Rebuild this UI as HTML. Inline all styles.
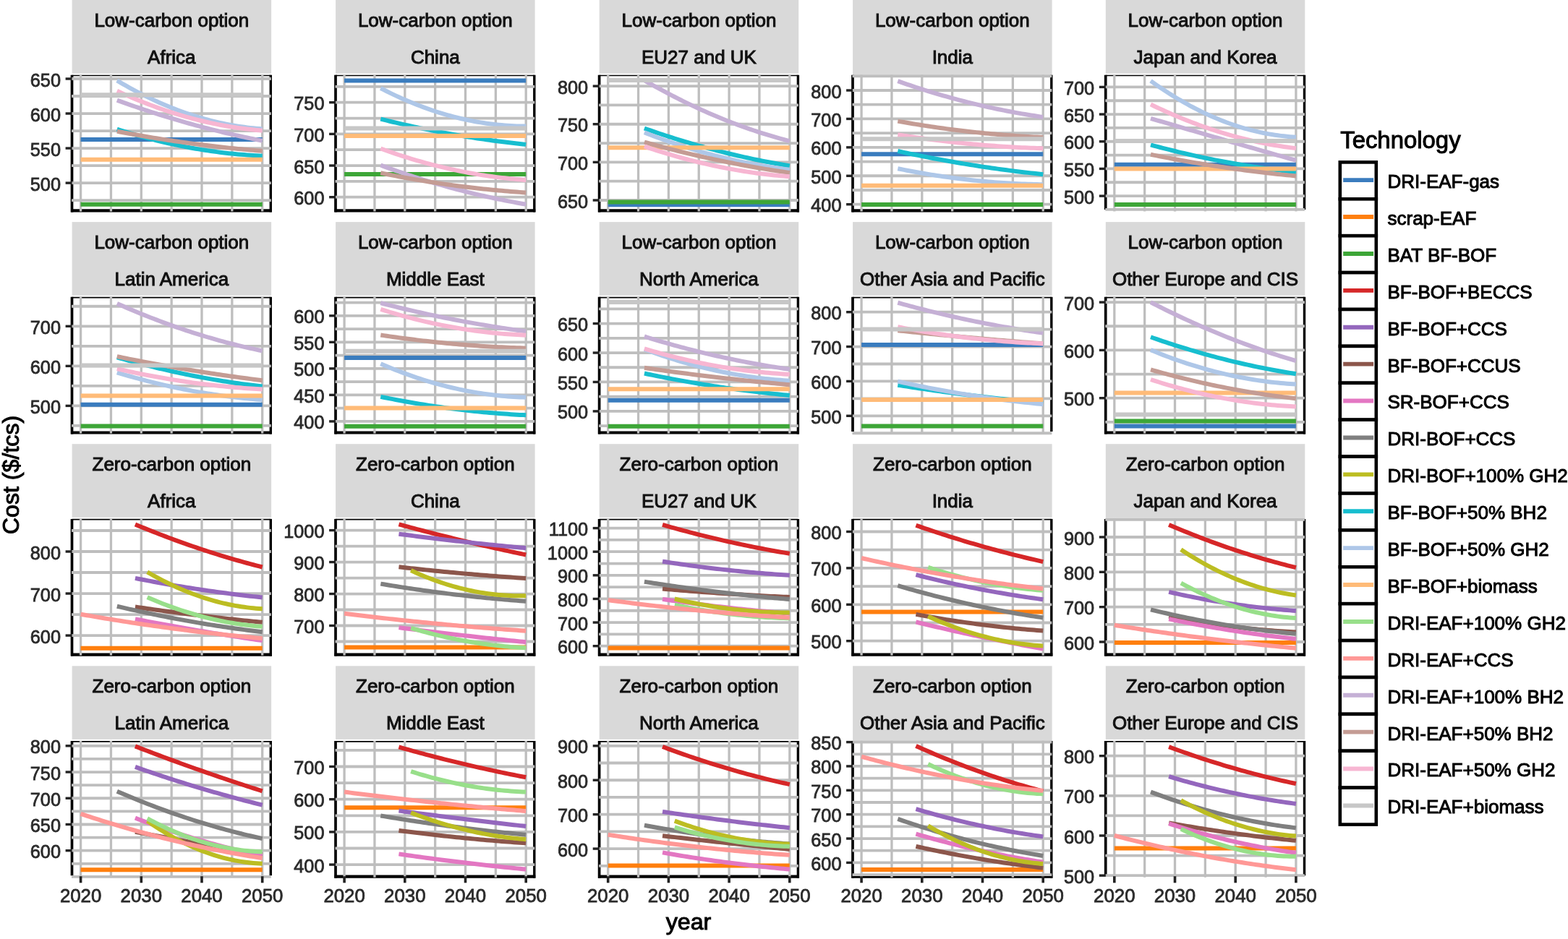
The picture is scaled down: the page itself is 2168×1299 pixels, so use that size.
<!DOCTYPE html>
<html><head><meta charset="utf-8"><style>html,body{margin:0;padding:0;background:#fff;overflow:hidden}svg{display:block}</style></head><body>
<svg width="2168" height="1299" viewBox="0 0 2168 1299">
<rect width="2168" height="1299" fill="#fff"/>
<rect x="99.6" y="0" width="275.5" height="101.6" fill="#D9D9D9"/>
<text x="237.35" y="36.9" text-anchor="middle" font-family="'Liberation Sans', Arial, sans-serif" font-size="26" fill="#111" stroke="#111" stroke-width="1.0">Low-carbon option</text>
<text x="237.35" y="88.1" text-anchor="middle" font-family="'Liberation Sans', Arial, sans-serif" font-size="26" fill="#111" stroke="#111" stroke-width="1.0">Africa</text>
<clipPath id="cp0"><rect x="99.5" y="104.5" width="274.8" height="186.9"/></clipPath>
<rect x="99.5" y="104.5" width="274.8" height="186.9" fill="#fff"/>
<line x1="99.5" x2="374.3" y1="104.5" y2="104.5" stroke="#000" stroke-width="1.7"/>
<line x1="98" x2="375.8" y1="291.4" y2="291.4" stroke="#000" stroke-width="4.2"/>
<line x1="99.5" x2="99.5" y1="103.7" y2="293.4" stroke="#000" stroke-width="3.7"/>
<line x1="374.3" x2="374.3" y1="103.7" y2="293.4" stroke="#000" stroke-width="3.4"/>
<line x1="99" x2="374.8" y1="277.12" y2="277.12" stroke="#BEBEBE" stroke-width="3.8"/>
<line x1="99" x2="374.8" y1="253.1" y2="253.1" stroke="#BEBEBE" stroke-width="3.8"/>
<line x1="99" x2="374.8" y1="229.08" y2="229.08" stroke="#BEBEBE" stroke-width="3.8"/>
<line x1="99" x2="374.8" y1="205.07" y2="205.07" stroke="#BEBEBE" stroke-width="3.8"/>
<line x1="99" x2="374.8" y1="181.05" y2="181.05" stroke="#BEBEBE" stroke-width="3.8"/>
<line x1="99" x2="374.8" y1="157.03" y2="157.03" stroke="#BEBEBE" stroke-width="3.8"/>
<line x1="99" x2="374.8" y1="133.02" y2="133.02" stroke="#BEBEBE" stroke-width="3.8"/>
<line x1="99" x2="374.8" y1="109" y2="109" stroke="#BEBEBE" stroke-width="3.8"/>
<line x1="111.6" x2="111.6" y1="103.5" y2="292.4" stroke="#BEBEBE" stroke-width="3.3"/>
<line x1="153.45" x2="153.45" y1="103.5" y2="292.4" stroke="#BEBEBE" stroke-width="3.3"/>
<line x1="195.3" x2="195.3" y1="103.5" y2="292.4" stroke="#BEBEBE" stroke-width="3.3"/>
<line x1="237.15" x2="237.15" y1="103.5" y2="292.4" stroke="#BEBEBE" stroke-width="3.3"/>
<line x1="279" x2="279" y1="103.5" y2="292.4" stroke="#BEBEBE" stroke-width="3.3"/>
<line x1="320.85" x2="320.85" y1="103.5" y2="292.4" stroke="#BEBEBE" stroke-width="3.3"/>
<line x1="362.7" x2="362.7" y1="103.5" y2="292.4" stroke="#BEBEBE" stroke-width="3.3"/>
<path d="M111.6,193.1 L362.7,193.1" fill="none" stroke="#3A7CBE" stroke-width="6.0" stroke-linejoin="round" clip-path="url(#cp0)"/>
<path d="M111.6,282.8 L362.7,282.8" fill="none" stroke="#3DA637" stroke-width="6.0" stroke-linejoin="round" clip-path="url(#cp0)"/>
<path d="M161.82,178.68 L166,180.02 L170.19,181.34 L174.38,182.64 L178.56,183.91 L182.75,185.16 L186.93,186.38 L191.11,187.58 L195.3,188.75 L199.48,189.9 L203.67,191.02 L207.85,192.12 L212.04,193.2 L216.22,194.25 L220.41,195.28 L224.59,196.28 L228.78,197.26 L232.96,198.21 L237.15,199.14 L241.33,200.04 L245.52,200.92 L249.7,201.78 L253.89,202.61 L258.07,203.42 L262.26,204.2 L266.44,204.96 L270.63,205.69 L274.81,206.4 L279,207.09 L283.18,207.75 L287.37,208.38 L291.55,208.99 L295.74,209.58 L299.92,210.14 L304.11,210.68 L308.29,211.2 L312.48,211.69 L316.66,212.15 L320.85,212.59 L325.03,213.01 L329.22,213.4 L333.4,213.77 L337.59,214.11 L341.77,214.43 L345.96,214.72 L350.14,214.99 L354.33,215.24 L358.51,215.46 L362.7,215.65" fill="none" stroke="#17BECF" stroke-width="6.0" stroke-linejoin="round" clip-path="url(#cp0)"/>
<path d="M161.82,111.38 L166,113.86 L170.19,116.3 L174.38,118.69 L178.56,121.03 L182.75,123.32 L186.93,125.57 L191.11,127.78 L195.3,129.94 L199.48,132.05 L203.67,134.11 L207.85,136.13 L212.04,138.1 L216.22,140.03 L220.41,141.91 L224.59,143.75 L228.78,145.53 L232.96,147.28 L237.15,148.97 L241.33,150.62 L245.52,152.23 L249.7,153.78 L253.89,155.3 L258.07,156.76 L262.26,158.18 L266.44,159.55 L270.63,160.88 L274.81,162.16 L279,163.4 L283.18,164.59 L287.37,165.73 L291.55,166.82 L295.74,167.87 L299.92,168.88 L304.11,169.84 L308.29,170.75 L312.48,171.61 L316.66,172.43 L320.85,173.21 L325.03,173.93 L329.22,174.62 L333.4,175.25 L337.59,175.84 L341.77,176.38 L345.96,176.88 L350.14,177.33 L354.33,177.73 L358.51,178.09 L362.7,178.4" fill="none" stroke="#AEC7E8" stroke-width="6.0" stroke-linejoin="round" clip-path="url(#cp0)"/>
<path d="M111.6,220.8 L362.7,220.8" fill="none" stroke="#FFBB78" stroke-width="6.0" stroke-linejoin="round" clip-path="url(#cp0)"/>
<path d="M161.82,138.59 L166,140.12 L170.19,141.63 L174.38,143.12 L178.56,144.6 L182.75,146.06 L186.93,147.51 L191.11,148.95 L195.3,150.37 L199.48,151.77 L203.67,153.16 L207.85,154.53 L212.04,155.89 L216.22,157.23 L220.41,158.56 L224.59,159.88 L228.78,161.17 L232.96,162.46 L237.15,163.72 L241.33,164.98 L245.52,166.21 L249.7,167.44 L253.89,168.64 L258.07,169.84 L262.26,171.01 L266.44,172.18 L270.63,173.32 L274.81,174.45 L279,175.57 L283.18,176.67 L287.37,177.76 L291.55,178.83 L295.74,179.89 L299.92,180.93 L304.11,181.96 L308.29,182.97 L312.48,183.96 L316.66,184.94 L320.85,185.91 L325.03,186.86 L329.22,187.79 L333.4,188.72 L337.59,189.62 L341.77,190.51 L345.96,191.39 L350.14,192.25 L354.33,193.09 L358.51,193.92 L362.7,194.74" fill="none" stroke="#C5B0D5" stroke-width="6.0" stroke-linejoin="round" clip-path="url(#cp0)"/>
<path d="M161.82,181.64 L166,182.45 L170.19,183.24 L174.38,184.02 L178.56,184.8 L182.75,185.56 L186.93,186.31 L191.11,187.06 L195.3,187.79 L199.48,188.51 L203.67,189.22 L207.85,189.93 L212.04,190.62 L216.22,191.3 L220.41,191.97 L224.59,192.64 L228.78,193.29 L232.96,193.93 L237.15,194.56 L241.33,195.18 L245.52,195.79 L249.7,196.4 L253.89,196.99 L258.07,197.57 L262.26,198.14 L266.44,198.7 L270.63,199.25 L274.81,199.79 L279,200.32 L283.18,200.84 L287.37,201.35 L291.55,201.85 L295.74,202.34 L299.92,202.82 L304.11,203.29 L308.29,203.75 L312.48,204.2 L316.66,204.64 L320.85,205.07 L325.03,205.49 L329.22,205.9 L333.4,206.3 L337.59,206.69 L341.77,207.07 L345.96,207.44 L350.14,207.8 L354.33,208.15 L358.51,208.48 L362.7,208.81" fill="none" stroke="#C49C94" stroke-width="6.0" stroke-linejoin="round" clip-path="url(#cp0)"/>
<path d="M161.82,125.79 L166,127.72 L170.19,129.62 L174.38,131.49 L178.56,133.33 L182.75,135.13 L186.93,136.9 L191.11,138.63 L195.3,140.33 L199.48,142 L203.67,143.63 L207.85,145.23 L212.04,146.8 L216.22,148.33 L220.41,149.82 L224.59,151.29 L228.78,152.72 L232.96,154.12 L237.15,155.48 L241.33,156.81 L245.52,158.1 L249.7,159.37 L253.89,160.59 L258.07,161.79 L262.26,162.95 L266.44,164.08 L270.63,165.17 L274.81,166.23 L279,167.26 L283.18,168.25 L287.37,169.21 L291.55,170.13 L295.74,171.02 L299.92,171.88 L304.11,172.7 L308.29,173.49 L312.48,174.25 L316.66,174.97 L320.85,175.66 L325.03,176.31 L329.22,176.93 L333.4,177.52 L337.59,178.08 L341.77,178.6 L345.96,179.08 L350.14,179.54 L354.33,179.95 L358.51,180.34 L362.7,180.69" fill="none" stroke="#F7B6D2" stroke-width="6.0" stroke-linejoin="round" clip-path="url(#cp0)"/>
<path d="M111.6,131.3 L362.7,131.3" fill="none" stroke="#C7C7C7" stroke-width="6.0" stroke-linejoin="round" clip-path="url(#cp0)"/>
<line x1="90.6" x2="99.6" y1="253.1" y2="253.1" stroke="#222" stroke-width="3.4"/>
<text x="84" y="263.6" text-anchor="end" font-family="'Liberation Sans', Arial, sans-serif" font-size="25.3" fill="#2b2b2b" stroke="#2b2b2b" stroke-width="0.8">500</text>
<line x1="90.6" x2="99.6" y1="205.07" y2="205.07" stroke="#222" stroke-width="3.4"/>
<text x="84" y="215.57" text-anchor="end" font-family="'Liberation Sans', Arial, sans-serif" font-size="25.3" fill="#2b2b2b" stroke="#2b2b2b" stroke-width="0.8">550</text>
<line x1="90.6" x2="99.6" y1="157.03" y2="157.03" stroke="#222" stroke-width="3.4"/>
<text x="84" y="167.53" text-anchor="end" font-family="'Liberation Sans', Arial, sans-serif" font-size="25.3" fill="#2b2b2b" stroke="#2b2b2b" stroke-width="0.8">600</text>
<line x1="90.6" x2="99.6" y1="109" y2="109" stroke="#222" stroke-width="3.4"/>
<text x="84" y="119.5" text-anchor="end" font-family="'Liberation Sans', Arial, sans-serif" font-size="25.3" fill="#2b2b2b" stroke="#2b2b2b" stroke-width="0.8">650</text>
<rect x="464.1" y="0" width="275.5" height="101.6" fill="#D9D9D9"/>
<text x="601.85" y="36.9" text-anchor="middle" font-family="'Liberation Sans', Arial, sans-serif" font-size="26" fill="#111" stroke="#111" stroke-width="1.0">Low-carbon option</text>
<text x="601.85" y="88.1" text-anchor="middle" font-family="'Liberation Sans', Arial, sans-serif" font-size="26" fill="#111" stroke="#111" stroke-width="1.0">China</text>
<clipPath id="cp1"><rect x="464" y="104.5" width="274.8" height="186.9"/></clipPath>
<rect x="464" y="104.5" width="274.8" height="186.9" fill="#fff"/>
<line x1="464" x2="738.8" y1="104.5" y2="104.5" stroke="#000" stroke-width="1.7"/>
<line x1="462.5" x2="740.3" y1="291.4" y2="291.4" stroke="#000" stroke-width="4.2"/>
<line x1="464" x2="464" y1="103.7" y2="293.4" stroke="#000" stroke-width="3.7"/>
<line x1="738.8" x2="738.8" y1="103.7" y2="293.4" stroke="#000" stroke-width="3.4"/>
<line x1="463.5" x2="739.3" y1="272.7" y2="272.7" stroke="#BEBEBE" stroke-width="3.8"/>
<line x1="463.5" x2="739.3" y1="250.87" y2="250.87" stroke="#BEBEBE" stroke-width="3.8"/>
<line x1="463.5" x2="739.3" y1="229.03" y2="229.03" stroke="#BEBEBE" stroke-width="3.8"/>
<line x1="463.5" x2="739.3" y1="207.2" y2="207.2" stroke="#BEBEBE" stroke-width="3.8"/>
<line x1="463.5" x2="739.3" y1="185.37" y2="185.37" stroke="#BEBEBE" stroke-width="3.8"/>
<line x1="463.5" x2="739.3" y1="163.53" y2="163.53" stroke="#BEBEBE" stroke-width="3.8"/>
<line x1="463.5" x2="739.3" y1="141.7" y2="141.7" stroke="#BEBEBE" stroke-width="3.8"/>
<line x1="463.5" x2="739.3" y1="119.87" y2="119.87" stroke="#BEBEBE" stroke-width="3.8"/>
<line x1="476.1" x2="476.1" y1="103.5" y2="292.4" stroke="#BEBEBE" stroke-width="3.3"/>
<line x1="517.95" x2="517.95" y1="103.5" y2="292.4" stroke="#BEBEBE" stroke-width="3.3"/>
<line x1="559.8" x2="559.8" y1="103.5" y2="292.4" stroke="#BEBEBE" stroke-width="3.3"/>
<line x1="601.65" x2="601.65" y1="103.5" y2="292.4" stroke="#BEBEBE" stroke-width="3.3"/>
<line x1="643.5" x2="643.5" y1="103.5" y2="292.4" stroke="#BEBEBE" stroke-width="3.3"/>
<line x1="685.35" x2="685.35" y1="103.5" y2="292.4" stroke="#BEBEBE" stroke-width="3.3"/>
<line x1="727.2" x2="727.2" y1="103.5" y2="292.4" stroke="#BEBEBE" stroke-width="3.3"/>
<path d="M476.1,111.5 L727.2,111.5" fill="none" stroke="#3A7CBE" stroke-width="6.0" stroke-linejoin="round" clip-path="url(#cp1)"/>
<path d="M476.1,240.9 L727.2,240.9" fill="none" stroke="#3DA637" stroke-width="6.0" stroke-linejoin="round" clip-path="url(#cp1)"/>
<path d="M526.32,164.66 L530.5,165.69 L534.69,166.71 L538.88,167.72 L543.06,168.72 L547.25,169.7 L551.43,170.67 L555.62,171.63 L559.8,172.57 L563.99,173.5 L568.17,174.42 L572.36,175.33 L576.54,176.22 L580.73,177.1 L584.91,177.97 L589.1,178.83 L593.28,179.67 L597.47,180.5 L601.65,181.32 L605.84,182.12 L610.02,182.91 L614.21,183.69 L618.39,184.46 L622.58,185.21 L626.76,185.95 L630.95,186.68 L635.13,187.39 L639.32,188.1 L643.5,188.79 L647.68,189.46 L651.87,190.13 L656.06,190.78 L660.24,191.42 L664.42,192.04 L668.61,192.65 L672.8,193.25 L676.98,193.84 L681.16,194.42 L685.35,194.98 L689.53,195.53 L693.72,196.06 L697.9,196.59 L702.09,197.1 L706.27,197.59 L710.46,198.08 L714.64,198.55 L718.83,199.01 L723.01,199.46 L727.2,199.89" fill="none" stroke="#17BECF" stroke-width="6.0" stroke-linejoin="round" clip-path="url(#cp1)"/>
<path d="M526.32,122 L530.5,124.16 L534.69,126.28 L538.88,128.35 L543.06,130.38 L547.25,132.36 L551.43,134.29 L555.62,136.19 L559.8,138.03 L563.99,139.83 L568.17,141.58 L572.36,143.29 L576.54,144.95 L580.73,146.57 L584.91,148.15 L589.1,149.67 L593.28,151.15 L597.47,152.59 L601.65,153.98 L605.84,155.33 L610.02,156.63 L614.21,157.88 L618.39,159.09 L622.58,160.26 L626.76,161.37 L630.95,162.45 L635.13,163.48 L639.32,164.46 L643.5,165.4 L647.68,166.29 L651.87,167.14 L656.06,167.94 L660.24,168.69 L664.42,169.4 L668.61,170.07 L672.8,170.69 L676.98,171.26 L681.16,171.79 L685.35,172.27 L689.53,172.71 L693.72,173.11 L697.9,173.45 L702.09,173.76 L706.27,174.01 L710.46,174.22 L714.64,174.39 L718.83,174.51 L723.01,174.59 L727.2,174.62" fill="none" stroke="#AEC7E8" stroke-width="6.0" stroke-linejoin="round" clip-path="url(#cp1)"/>
<path d="M476.1,188 L727.2,188" fill="none" stroke="#FFBB78" stroke-width="6.0" stroke-linejoin="round" clip-path="url(#cp1)"/>
<path d="M526.32,228.55 L530.5,230.08 L534.69,231.61 L538.88,233.11 L543.06,234.59 L547.25,236.06 L551.43,237.51 L555.62,238.94 L559.8,240.36 L563.99,241.76 L568.17,243.14 L572.36,244.5 L576.54,245.85 L580.73,247.18 L584.91,248.49 L589.1,249.78 L593.28,251.05 L597.47,252.31 L601.65,253.55 L605.84,254.78 L610.02,255.98 L614.21,257.17 L618.39,258.34 L622.58,259.49 L626.76,260.63 L630.95,261.75 L635.13,262.85 L639.32,263.93 L643.5,265 L647.68,266.05 L651.87,267.08 L656.06,268.09 L660.24,269.09 L664.42,270.07 L668.61,271.03 L672.8,271.97 L676.98,272.9 L681.16,273.8 L685.35,274.7 L689.53,275.57 L693.72,276.43 L697.9,277.26 L702.09,278.09 L706.27,278.89 L710.46,279.67 L714.64,280.44 L718.83,281.19 L723.01,281.93 L727.2,282.64" fill="none" stroke="#C5B0D5" stroke-width="6.0" stroke-linejoin="round" clip-path="url(#cp1)"/>
<path d="M526.32,239.28 L530.5,240.13 L534.69,240.97 L538.88,241.79 L543.06,242.61 L547.25,243.41 L551.43,244.2 L555.62,244.98 L559.8,245.74 L563.99,246.5 L568.17,247.24 L572.36,247.97 L576.54,248.69 L580.73,249.39 L584.91,250.08 L589.1,250.77 L593.28,251.43 L597.47,252.09 L601.65,252.74 L605.84,253.37 L610.02,253.99 L614.21,254.6 L618.39,255.19 L622.58,255.78 L626.76,256.35 L630.95,256.91 L635.13,257.46 L639.32,257.99 L643.5,258.52 L647.68,259.03 L651.87,259.53 L656.06,260.01 L660.24,260.49 L664.42,260.95 L668.61,261.4 L672.8,261.84 L676.98,262.27 L681.16,262.68 L685.35,263.08 L689.53,263.47 L693.72,263.85 L697.9,264.22 L702.09,264.57 L706.27,264.91 L710.46,265.24 L714.64,265.56 L718.83,265.87 L723.01,266.16 L727.2,266.44" fill="none" stroke="#C49C94" stroke-width="6.0" stroke-linejoin="round" clip-path="url(#cp1)"/>
<path d="M526.32,205.48 L530.5,207 L534.69,208.5 L538.88,209.97 L543.06,211.41 L547.25,212.82 L551.43,214.22 L555.62,215.58 L559.8,216.92 L563.99,218.23 L568.17,219.51 L572.36,220.77 L576.54,222.01 L580.73,223.21 L584.91,224.39 L589.1,225.55 L593.28,226.67 L597.47,227.78 L601.65,228.85 L605.84,229.9 L610.02,230.92 L614.21,231.92 L618.39,232.89 L622.58,233.84 L626.76,234.75 L630.95,235.65 L635.13,236.51 L639.32,237.35 L643.5,238.17 L647.68,238.95 L651.87,239.71 L656.06,240.45 L660.24,241.16 L664.42,241.84 L668.61,242.5 L672.8,243.13 L676.98,243.73 L681.16,244.31 L685.35,244.86 L689.53,245.38 L693.72,245.88 L697.9,246.35 L702.09,246.8 L706.27,247.22 L710.46,247.61 L714.64,247.98 L718.83,248.32 L723.01,248.64 L727.2,248.93" fill="none" stroke="#F7B6D2" stroke-width="6.0" stroke-linejoin="round" clip-path="url(#cp1)"/>
<path d="M476.1,177.5 L727.2,177.5" fill="none" stroke="#C7C7C7" stroke-width="6.0" stroke-linejoin="round" clip-path="url(#cp1)"/>
<line x1="455.1" x2="464.1" y1="272.7" y2="272.7" stroke="#222" stroke-width="3.4"/>
<text x="448.5" y="283.2" text-anchor="end" font-family="'Liberation Sans', Arial, sans-serif" font-size="25.3" fill="#2b2b2b" stroke="#2b2b2b" stroke-width="0.8">600</text>
<line x1="455.1" x2="464.1" y1="229.03" y2="229.03" stroke="#222" stroke-width="3.4"/>
<text x="448.5" y="239.53" text-anchor="end" font-family="'Liberation Sans', Arial, sans-serif" font-size="25.3" fill="#2b2b2b" stroke="#2b2b2b" stroke-width="0.8">650</text>
<line x1="455.1" x2="464.1" y1="185.37" y2="185.37" stroke="#222" stroke-width="3.4"/>
<text x="448.5" y="195.87" text-anchor="end" font-family="'Liberation Sans', Arial, sans-serif" font-size="25.3" fill="#2b2b2b" stroke="#2b2b2b" stroke-width="0.8">700</text>
<line x1="455.1" x2="464.1" y1="141.7" y2="141.7" stroke="#222" stroke-width="3.4"/>
<text x="448.5" y="152.2" text-anchor="end" font-family="'Liberation Sans', Arial, sans-serif" font-size="25.3" fill="#2b2b2b" stroke="#2b2b2b" stroke-width="0.8">750</text>
<rect x="828.7" y="0" width="275.5" height="101.6" fill="#D9D9D9"/>
<text x="966.45" y="36.9" text-anchor="middle" font-family="'Liberation Sans', Arial, sans-serif" font-size="26" fill="#111" stroke="#111" stroke-width="1.0">Low-carbon option</text>
<text x="966.45" y="88.1" text-anchor="middle" font-family="'Liberation Sans', Arial, sans-serif" font-size="26" fill="#111" stroke="#111" stroke-width="1.0">EU27 and UK</text>
<clipPath id="cp2"><rect x="828.6" y="104.5" width="274.8" height="186.9"/></clipPath>
<rect x="828.6" y="104.5" width="274.8" height="186.9" fill="#fff"/>
<line x1="828.6" x2="1103.4" y1="104.5" y2="104.5" stroke="#000" stroke-width="1.7"/>
<line x1="827.1" x2="1104.9" y1="291.4" y2="291.4" stroke="#000" stroke-width="4.2"/>
<line x1="828.6" x2="828.6" y1="103.7" y2="293.4" stroke="#000" stroke-width="3.7"/>
<line x1="1103.4" x2="1103.4" y1="103.7" y2="293.4" stroke="#000" stroke-width="3.4"/>
<line x1="828.1" x2="1103.9" y1="277" y2="277" stroke="#BEBEBE" stroke-width="3.8"/>
<line x1="828.1" x2="1103.9" y1="250.68" y2="250.68" stroke="#BEBEBE" stroke-width="3.8"/>
<line x1="828.1" x2="1103.9" y1="224.37" y2="224.37" stroke="#BEBEBE" stroke-width="3.8"/>
<line x1="828.1" x2="1103.9" y1="198.05" y2="198.05" stroke="#BEBEBE" stroke-width="3.8"/>
<line x1="828.1" x2="1103.9" y1="171.73" y2="171.73" stroke="#BEBEBE" stroke-width="3.8"/>
<line x1="828.1" x2="1103.9" y1="145.42" y2="145.42" stroke="#BEBEBE" stroke-width="3.8"/>
<line x1="828.1" x2="1103.9" y1="119.1" y2="119.1" stroke="#BEBEBE" stroke-width="3.8"/>
<line x1="840.7" x2="840.7" y1="103.5" y2="292.4" stroke="#BEBEBE" stroke-width="3.3"/>
<line x1="882.55" x2="882.55" y1="103.5" y2="292.4" stroke="#BEBEBE" stroke-width="3.3"/>
<line x1="924.4" x2="924.4" y1="103.5" y2="292.4" stroke="#BEBEBE" stroke-width="3.3"/>
<line x1="966.25" x2="966.25" y1="103.5" y2="292.4" stroke="#BEBEBE" stroke-width="3.3"/>
<line x1="1008.1" x2="1008.1" y1="103.5" y2="292.4" stroke="#BEBEBE" stroke-width="3.3"/>
<line x1="1049.95" x2="1049.95" y1="103.5" y2="292.4" stroke="#BEBEBE" stroke-width="3.3"/>
<line x1="1091.8" x2="1091.8" y1="103.5" y2="292.4" stroke="#BEBEBE" stroke-width="3.3"/>
<path d="M840.7,283.3 L1091.8,283.3" fill="none" stroke="#3A7CBE" stroke-width="6.0" stroke-linejoin="round" clip-path="url(#cp2)"/>
<path d="M840.7,279.6 L1091.8,279.6" fill="none" stroke="#3DA637" stroke-width="6.0" stroke-linejoin="round" clip-path="url(#cp2)"/>
<path d="M890.92,177.51 L895.11,178.99 L899.29,180.45 L903.48,181.89 L907.66,183.32 L911.85,184.73 L916.03,186.12 L920.22,187.5 L924.4,188.86 L928.59,190.2 L932.77,191.53 L936.96,192.83 L941.14,194.13 L945.33,195.4 L949.51,196.66 L953.7,197.9 L957.88,199.12 L962.07,200.33 L966.25,201.52 L970.44,202.7 L974.62,203.85 L978.81,204.99 L982.99,206.12 L987.18,207.22 L991.36,208.31 L995.55,209.39 L999.73,210.44 L1003.91,211.48 L1008.1,212.5 L1012.29,213.51 L1016.47,214.5 L1020.65,215.47 L1024.84,216.42 L1029.03,217.36 L1033.21,218.28 L1037.39,219.19 L1041.58,220.07 L1045.77,220.94 L1049.95,221.8 L1054.13,222.63 L1058.32,223.45 L1062.51,224.26 L1066.69,225.04 L1070.88,225.81 L1075.06,226.57 L1079.25,227.3 L1083.43,228.02 L1087.62,228.72 L1091.8,229.41" fill="none" stroke="#17BECF" stroke-width="6.0" stroke-linejoin="round" clip-path="url(#cp2)"/>
<path d="M890.92,183.29 L895.11,184.92 L899.29,186.54 L903.48,188.13 L907.66,189.69 L911.85,191.23 L916.03,192.75 L920.22,194.24 L924.4,195.71 L928.59,197.15 L932.77,198.57 L936.96,199.97 L941.14,201.34 L945.33,202.69 L949.51,204.01 L953.7,205.31 L957.88,206.59 L962.07,207.84 L966.25,209.07 L970.44,210.27 L974.62,211.45 L978.81,212.6 L982.99,213.73 L987.18,214.84 L991.36,215.92 L995.55,216.98 L999.73,218.02 L1003.91,219.03 L1008.1,220.01 L1012.29,220.97 L1016.47,221.91 L1020.65,222.83 L1024.84,223.72 L1029.03,224.58 L1033.21,225.42 L1037.39,226.24 L1041.58,227.04 L1045.77,227.8 L1049.95,228.55 L1054.13,229.27 L1058.32,229.97 L1062.51,230.64 L1066.69,231.29 L1070.88,231.91 L1075.06,232.52 L1079.25,233.09 L1083.43,233.64 L1087.62,234.17 L1091.8,234.68" fill="none" stroke="#AEC7E8" stroke-width="6.0" stroke-linejoin="round" clip-path="url(#cp2)"/>
<path d="M840.7,204.3 L1091.8,204.3" fill="none" stroke="#FFBB78" stroke-width="6.0" stroke-linejoin="round" clip-path="url(#cp2)"/>
<path d="M890.92,111.17 L895.11,113.58 L899.29,115.97 L903.48,118.32 L907.66,120.65 L911.85,122.95 L916.03,125.22 L920.22,127.46 L924.4,129.68 L928.59,131.86 L932.77,134.02 L936.96,136.15 L941.14,138.25 L945.33,140.33 L949.51,142.37 L953.7,144.39 L957.88,146.38 L962.07,148.34 L966.25,150.27 L970.44,152.18 L974.62,154.06 L978.81,155.91 L982.99,157.73 L987.18,159.52 L991.36,161.28 L995.55,163.02 L999.73,164.73 L1003.91,166.41 L1008.1,168.06 L1012.29,169.68 L1016.47,171.28 L1020.65,172.85 L1024.84,174.39 L1029.03,175.9 L1033.21,177.38 L1037.39,178.83 L1041.58,180.26 L1045.77,181.66 L1049.95,183.03 L1054.13,184.37 L1058.32,185.69 L1062.51,186.97 L1066.69,188.23 L1070.88,189.46 L1075.06,190.66 L1079.25,191.84 L1083.43,192.98 L1087.62,194.1 L1091.8,195.19" fill="none" stroke="#C5B0D5" stroke-width="6.0" stroke-linejoin="round" clip-path="url(#cp2)"/>
<path d="M890.92,196.53 L895.11,197.7 L899.29,198.86 L903.48,200.01 L907.66,201.15 L911.85,202.27 L916.03,203.38 L920.22,204.48 L924.4,205.57 L928.59,206.64 L932.77,207.7 L936.96,208.75 L941.14,209.79 L945.33,210.81 L949.51,211.83 L953.7,212.83 L957.88,213.82 L962.07,214.79 L966.25,215.76 L970.44,216.71 L974.62,217.65 L978.81,218.57 L982.99,219.49 L987.18,220.39 L991.36,221.28 L995.55,222.16 L999.73,223.02 L1003.91,223.88 L1008.1,224.72 L1012.29,225.55 L1016.47,226.37 L1020.65,227.17 L1024.84,227.96 L1029.03,228.74 L1033.21,229.51 L1037.39,230.26 L1041.58,231.01 L1045.77,231.74 L1049.95,232.46 L1054.13,233.16 L1058.32,233.86 L1062.51,234.54 L1066.69,235.21 L1070.88,235.87 L1075.06,236.51 L1079.25,237.14 L1083.43,237.77 L1087.62,238.37 L1091.8,238.97" fill="none" stroke="#C49C94" stroke-width="6.0" stroke-linejoin="round" clip-path="url(#cp2)"/>
<path d="M890.92,202.51 L895.11,203.93 L899.29,205.32 L903.48,206.7 L907.66,208.04 L911.85,209.37 L916.03,210.67 L920.22,211.95 L924.4,213.21 L928.59,214.44 L932.77,215.65 L936.96,216.83 L941.14,217.99 L945.33,219.13 L949.51,220.25 L953.7,221.34 L957.88,222.41 L962.07,223.45 L966.25,224.47 L970.44,225.47 L974.62,226.44 L978.81,227.4 L982.99,228.32 L987.18,229.23 L991.36,230.11 L995.55,230.97 L999.73,231.8 L1003.91,232.61 L1008.1,233.4 L1012.29,234.16 L1016.47,234.9 L1020.65,235.62 L1024.84,236.31 L1029.03,236.98 L1033.21,237.63 L1037.39,238.25 L1041.58,238.85 L1045.77,239.43 L1049.95,239.98 L1054.13,240.51 L1058.32,241.02 L1062.51,241.5 L1066.69,241.96 L1070.88,242.4 L1075.06,242.81 L1079.25,243.2 L1083.43,243.57 L1087.62,243.91 L1091.8,244.23" fill="none" stroke="#F7B6D2" stroke-width="6.0" stroke-linejoin="round" clip-path="url(#cp2)"/>
<path d="M840.7,111.1 L1091.8,111.1" fill="none" stroke="#C7C7C7" stroke-width="6.0" stroke-linejoin="round" clip-path="url(#cp2)"/>
<line x1="819.7" x2="828.7" y1="277" y2="277" stroke="#222" stroke-width="3.4"/>
<text x="813.1" y="287.5" text-anchor="end" font-family="'Liberation Sans', Arial, sans-serif" font-size="25.3" fill="#2b2b2b" stroke="#2b2b2b" stroke-width="0.8">650</text>
<line x1="819.7" x2="828.7" y1="224.37" y2="224.37" stroke="#222" stroke-width="3.4"/>
<text x="813.1" y="234.87" text-anchor="end" font-family="'Liberation Sans', Arial, sans-serif" font-size="25.3" fill="#2b2b2b" stroke="#2b2b2b" stroke-width="0.8">700</text>
<line x1="819.7" x2="828.7" y1="171.73" y2="171.73" stroke="#222" stroke-width="3.4"/>
<text x="813.1" y="182.23" text-anchor="end" font-family="'Liberation Sans', Arial, sans-serif" font-size="25.3" fill="#2b2b2b" stroke="#2b2b2b" stroke-width="0.8">750</text>
<line x1="819.7" x2="828.7" y1="119.1" y2="119.1" stroke="#222" stroke-width="3.4"/>
<text x="813.1" y="129.6" text-anchor="end" font-family="'Liberation Sans', Arial, sans-serif" font-size="25.3" fill="#2b2b2b" stroke="#2b2b2b" stroke-width="0.8">800</text>
<rect x="1179.1" y="0" width="275.5" height="101.6" fill="#D9D9D9"/>
<text x="1316.85" y="36.9" text-anchor="middle" font-family="'Liberation Sans', Arial, sans-serif" font-size="26" fill="#111" stroke="#111" stroke-width="1.0">Low-carbon option</text>
<text x="1316.85" y="88.1" text-anchor="middle" font-family="'Liberation Sans', Arial, sans-serif" font-size="26" fill="#111" stroke="#111" stroke-width="1.0">India</text>
<clipPath id="cp3"><rect x="1179" y="104.5" width="274.8" height="186.9"/></clipPath>
<rect x="1179" y="104.5" width="274.8" height="186.9" fill="#fff"/>
<rect x="1179.1" y="101.1" width="275.5" height="3.4" fill="#D9D9D9"/>
<line x1="1177.5" x2="1455.3" y1="291.4" y2="291.4" stroke="#000" stroke-width="4.2"/>
<line x1="1179" x2="1179" y1="103.7" y2="293.4" stroke="#000" stroke-width="3.7"/>
<line x1="1453.8" x2="1453.8" y1="103.7" y2="293.4" stroke="#000" stroke-width="3.4"/>
<line x1="1178.5" x2="1454.3" y1="282.7" y2="282.7" stroke="#BEBEBE" stroke-width="3.8"/>
<line x1="1178.5" x2="1454.3" y1="262.99" y2="262.99" stroke="#BEBEBE" stroke-width="3.8"/>
<line x1="1178.5" x2="1454.3" y1="243.27" y2="243.27" stroke="#BEBEBE" stroke-width="3.8"/>
<line x1="1178.5" x2="1454.3" y1="223.56" y2="223.56" stroke="#BEBEBE" stroke-width="3.8"/>
<line x1="1178.5" x2="1454.3" y1="203.85" y2="203.85" stroke="#BEBEBE" stroke-width="3.8"/>
<line x1="1178.5" x2="1454.3" y1="184.14" y2="184.14" stroke="#BEBEBE" stroke-width="3.8"/>
<line x1="1178.5" x2="1454.3" y1="164.43" y2="164.43" stroke="#BEBEBE" stroke-width="3.8"/>
<line x1="1178.5" x2="1454.3" y1="144.71" y2="144.71" stroke="#BEBEBE" stroke-width="3.8"/>
<line x1="1178.5" x2="1454.3" y1="125" y2="125" stroke="#BEBEBE" stroke-width="3.8"/>
<line x1="1178.5" x2="1454.3" y1="105.29" y2="105.29" stroke="#BEBEBE" stroke-width="3.8"/>
<line x1="1191.1" x2="1191.1" y1="103.5" y2="292.4" stroke="#BEBEBE" stroke-width="3.3"/>
<line x1="1232.95" x2="1232.95" y1="103.5" y2="292.4" stroke="#BEBEBE" stroke-width="3.3"/>
<line x1="1274.8" x2="1274.8" y1="103.5" y2="292.4" stroke="#BEBEBE" stroke-width="3.3"/>
<line x1="1316.65" x2="1316.65" y1="103.5" y2="292.4" stroke="#BEBEBE" stroke-width="3.3"/>
<line x1="1358.5" x2="1358.5" y1="103.5" y2="292.4" stroke="#BEBEBE" stroke-width="3.3"/>
<line x1="1400.35" x2="1400.35" y1="103.5" y2="292.4" stroke="#BEBEBE" stroke-width="3.3"/>
<line x1="1442.2" x2="1442.2" y1="103.5" y2="292.4" stroke="#BEBEBE" stroke-width="3.3"/>
<path d="M1191.1,213.3 L1442.2,213.3" fill="none" stroke="#3A7CBE" stroke-width="6.0" stroke-linejoin="round" clip-path="url(#cp3)"/>
<path d="M1191.1,283.1 L1442.2,283.1" fill="none" stroke="#3DA637" stroke-width="6.0" stroke-linejoin="round" clip-path="url(#cp3)"/>
<path d="M1241.32,209 L1245.5,209.91 L1249.69,210.81 L1253.88,211.7 L1258.06,212.57 L1262.24,213.44 L1266.43,214.3 L1270.61,215.15 L1274.8,215.98 L1278.98,216.81 L1283.17,217.63 L1287.36,218.43 L1291.54,219.23 L1295.72,220.02 L1299.91,220.79 L1304.09,221.56 L1308.28,222.32 L1312.46,223.06 L1316.65,223.8 L1320.83,224.52 L1325.02,225.24 L1329.2,225.94 L1333.39,226.64 L1337.57,227.32 L1341.76,228 L1345.94,228.66 L1350.13,229.32 L1354.31,229.96 L1358.5,230.6 L1362.68,231.22 L1366.87,231.83 L1371.05,232.44 L1375.24,233.03 L1379.42,233.61 L1383.61,234.19 L1387.79,234.75 L1391.98,235.3 L1396.16,235.85 L1400.35,236.38 L1404.53,236.9 L1408.72,237.41 L1412.9,237.91 L1417.09,238.41 L1421.27,238.89 L1425.46,239.36 L1429.64,239.82 L1433.83,240.27 L1438.01,240.71 L1442.2,241.15" fill="none" stroke="#17BECF" stroke-width="6.0" stroke-linejoin="round" clip-path="url(#cp3)"/>
<path d="M1241.32,233.22 L1245.5,234.06 L1249.69,234.9 L1253.88,235.71 L1258.06,236.51 L1262.24,237.29 L1266.43,238.06 L1270.61,238.81 L1274.8,239.54 L1278.98,240.25 L1283.17,240.95 L1287.36,241.64 L1291.54,242.3 L1295.72,242.95 L1299.91,243.58 L1304.09,244.2 L1308.28,244.8 L1312.46,245.38 L1316.65,245.95 L1320.83,246.5 L1325.02,247.03 L1329.2,247.55 L1333.39,248.05 L1337.57,248.53 L1341.76,249 L1345.94,249.45 L1350.13,249.88 L1354.31,250.3 L1358.5,250.7 L1362.68,251.08 L1366.87,251.45 L1371.05,251.8 L1375.24,252.13 L1379.42,252.45 L1383.61,252.75 L1387.79,253.03 L1391.98,253.3 L1396.16,253.55 L1400.35,253.79 L1404.53,254 L1408.72,254.2 L1412.9,254.39 L1417.09,254.56 L1421.27,254.71 L1425.46,254.84 L1429.64,254.96 L1433.83,255.06 L1438.01,255.15 L1442.2,255.21" fill="none" stroke="#AEC7E8" stroke-width="6.0" stroke-linejoin="round" clip-path="url(#cp3)"/>
<path d="M1191.1,256.8 L1442.2,256.8" fill="none" stroke="#FFBB78" stroke-width="6.0" stroke-linejoin="round" clip-path="url(#cp3)"/>
<path d="M1241.32,112.2 L1245.5,113.66 L1249.69,115.11 L1253.88,116.54 L1258.06,117.96 L1262.24,119.35 L1266.43,120.73 L1270.61,122.08 L1274.8,123.42 L1278.98,124.74 L1283.17,126.04 L1287.36,127.33 L1291.54,128.59 L1295.72,129.84 L1299.91,131.07 L1304.09,132.28 L1308.28,133.47 L1312.46,134.65 L1316.65,135.8 L1320.83,136.94 L1325.02,138.06 L1329.2,139.16 L1333.39,140.24 L1337.57,141.31 L1341.76,142.35 L1345.94,143.38 L1350.13,144.39 L1354.31,145.38 L1358.5,146.35 L1362.68,147.31 L1366.87,148.24 L1371.05,149.16 L1375.24,150.06 L1379.42,150.94 L1383.61,151.8 L1387.79,152.65 L1391.98,153.47 L1396.16,154.28 L1400.35,155.07 L1404.53,155.84 L1408.72,156.59 L1412.9,157.33 L1417.09,158.04 L1421.27,158.74 L1425.46,159.42 L1429.64,160.08 L1433.83,160.72 L1438.01,161.35 L1442.2,161.95" fill="none" stroke="#C5B0D5" stroke-width="6.0" stroke-linejoin="round" clip-path="url(#cp3)"/>
<path d="M1241.32,167.59 L1245.5,168.34 L1249.69,169.07 L1253.88,169.79 L1258.06,170.51 L1262.24,171.2 L1266.43,171.89 L1270.61,172.57 L1274.8,173.23 L1278.98,173.88 L1283.17,174.52 L1287.36,175.15 L1291.54,175.77 L1295.72,176.37 L1299.91,176.96 L1304.09,177.54 L1308.28,178.11 L1312.46,178.67 L1316.65,179.21 L1320.83,179.74 L1325.02,180.26 L1329.2,180.77 L1333.39,181.27 L1337.57,181.75 L1341.76,182.22 L1345.94,182.68 L1350.13,183.13 L1354.31,183.57 L1358.5,184 L1362.68,184.41 L1366.87,184.81 L1371.05,185.2 L1375.24,185.58 L1379.42,185.94 L1383.61,186.29 L1387.79,186.64 L1391.98,186.96 L1396.16,187.28 L1400.35,187.59 L1404.53,187.88 L1408.72,188.16 L1412.9,188.43 L1417.09,188.69 L1421.27,188.94 L1425.46,189.17 L1429.64,189.39 L1433.83,189.6 L1438.01,189.8 L1442.2,189.99" fill="none" stroke="#C49C94" stroke-width="6.0" stroke-linejoin="round" clip-path="url(#cp3)"/>
<path d="M1241.32,186.38 L1245.5,187.03 L1249.69,187.68 L1253.88,188.32 L1258.06,188.94 L1262.24,189.56 L1266.43,190.16 L1270.61,190.75 L1274.8,191.33 L1278.98,191.9 L1283.17,192.46 L1287.36,193 L1291.54,193.54 L1295.72,194.06 L1299.91,194.57 L1304.09,195.08 L1308.28,195.56 L1312.46,196.04 L1316.65,196.51 L1320.83,196.97 L1325.02,197.41 L1329.2,197.84 L1333.39,198.26 L1337.57,198.67 L1341.76,199.07 L1345.94,199.46 L1350.13,199.84 L1354.31,200.2 L1358.5,200.56 L1362.68,200.9 L1366.87,201.23 L1371.05,201.55 L1375.24,201.86 L1379.42,202.16 L1383.61,202.44 L1387.79,202.72 L1391.98,202.98 L1396.16,203.23 L1400.35,203.47 L1404.53,203.7 L1408.72,203.92 L1412.9,204.13 L1417.09,204.32 L1421.27,204.51 L1425.46,204.68 L1429.64,204.84 L1433.83,204.99 L1438.01,205.13 L1442.2,205.26" fill="none" stroke="#F7B6D2" stroke-width="6.0" stroke-linejoin="round" clip-path="url(#cp3)"/>
<path d="M1191.1,192.3 L1442.2,192.3" fill="none" stroke="#C7C7C7" stroke-width="6.0" stroke-linejoin="round" clip-path="url(#cp3)"/>
<line x1="1170.1" x2="1179.1" y1="282.7" y2="282.7" stroke="#222" stroke-width="3.4"/>
<text x="1163.5" y="293.2" text-anchor="end" font-family="'Liberation Sans', Arial, sans-serif" font-size="25.3" fill="#2b2b2b" stroke="#2b2b2b" stroke-width="0.8">400</text>
<line x1="1170.1" x2="1179.1" y1="243.27" y2="243.27" stroke="#222" stroke-width="3.4"/>
<text x="1163.5" y="253.77" text-anchor="end" font-family="'Liberation Sans', Arial, sans-serif" font-size="25.3" fill="#2b2b2b" stroke="#2b2b2b" stroke-width="0.8">500</text>
<line x1="1170.1" x2="1179.1" y1="203.85" y2="203.85" stroke="#222" stroke-width="3.4"/>
<text x="1163.5" y="214.35" text-anchor="end" font-family="'Liberation Sans', Arial, sans-serif" font-size="25.3" fill="#2b2b2b" stroke="#2b2b2b" stroke-width="0.8">600</text>
<line x1="1170.1" x2="1179.1" y1="164.43" y2="164.43" stroke="#222" stroke-width="3.4"/>
<text x="1163.5" y="174.93" text-anchor="end" font-family="'Liberation Sans', Arial, sans-serif" font-size="25.3" fill="#2b2b2b" stroke="#2b2b2b" stroke-width="0.8">700</text>
<line x1="1170.1" x2="1179.1" y1="125" y2="125" stroke="#222" stroke-width="3.4"/>
<text x="1163.5" y="135.5" text-anchor="end" font-family="'Liberation Sans', Arial, sans-serif" font-size="25.3" fill="#2b2b2b" stroke="#2b2b2b" stroke-width="0.8">800</text>
<rect x="1528.8" y="0" width="275.5" height="101.6" fill="#D9D9D9"/>
<text x="1666.55" y="36.9" text-anchor="middle" font-family="'Liberation Sans', Arial, sans-serif" font-size="26" fill="#111" stroke="#111" stroke-width="1.0">Low-carbon option</text>
<text x="1666.55" y="88.1" text-anchor="middle" font-family="'Liberation Sans', Arial, sans-serif" font-size="26" fill="#111" stroke="#111" stroke-width="1.0">Japan and Korea</text>
<clipPath id="cp4"><rect x="1528.7" y="104.5" width="274.8" height="186.9"/></clipPath>
<rect x="1528.7" y="104.5" width="274.8" height="186.9" fill="#fff"/>
<line x1="1528.7" x2="1803.5" y1="104.5" y2="104.5" stroke="#000" stroke-width="1.7"/>
<line x1="1528.7" x2="1528.7" y1="103.7" y2="289.9" stroke="#000" stroke-width="3.7"/>
<line x1="1803.5" x2="1803.5" y1="103.7" y2="289.9" stroke="#000" stroke-width="3.4"/>
<line x1="1528.2" x2="1804" y1="289.94" y2="289.94" stroke="#BEBEBE" stroke-width="3.8"/>
<line x1="1528.2" x2="1804" y1="271.1" y2="271.1" stroke="#BEBEBE" stroke-width="3.8"/>
<line x1="1528.2" x2="1804" y1="252.26" y2="252.26" stroke="#BEBEBE" stroke-width="3.8"/>
<line x1="1528.2" x2="1804" y1="233.43" y2="233.43" stroke="#BEBEBE" stroke-width="3.8"/>
<line x1="1528.2" x2="1804" y1="214.59" y2="214.59" stroke="#BEBEBE" stroke-width="3.8"/>
<line x1="1528.2" x2="1804" y1="195.75" y2="195.75" stroke="#BEBEBE" stroke-width="3.8"/>
<line x1="1528.2" x2="1804" y1="176.91" y2="176.91" stroke="#BEBEBE" stroke-width="3.8"/>
<line x1="1528.2" x2="1804" y1="158.08" y2="158.08" stroke="#BEBEBE" stroke-width="3.8"/>
<line x1="1528.2" x2="1804" y1="139.24" y2="139.24" stroke="#BEBEBE" stroke-width="3.8"/>
<line x1="1528.2" x2="1804" y1="120.4" y2="120.4" stroke="#BEBEBE" stroke-width="3.8"/>
<line x1="1540.8" x2="1540.8" y1="103.5" y2="292.4" stroke="#BEBEBE" stroke-width="3.3"/>
<line x1="1582.65" x2="1582.65" y1="103.5" y2="292.4" stroke="#BEBEBE" stroke-width="3.3"/>
<line x1="1624.5" x2="1624.5" y1="103.5" y2="292.4" stroke="#BEBEBE" stroke-width="3.3"/>
<line x1="1666.35" x2="1666.35" y1="103.5" y2="292.4" stroke="#BEBEBE" stroke-width="3.3"/>
<line x1="1708.2" x2="1708.2" y1="103.5" y2="292.4" stroke="#BEBEBE" stroke-width="3.3"/>
<line x1="1750.05" x2="1750.05" y1="103.5" y2="292.4" stroke="#BEBEBE" stroke-width="3.3"/>
<line x1="1791.9" x2="1791.9" y1="103.5" y2="292.4" stroke="#BEBEBE" stroke-width="3.3"/>
<path d="M1540.8,227.8 L1791.9,227.8" fill="none" stroke="#3A7CBE" stroke-width="6.0" stroke-linejoin="round" clip-path="url(#cp4)"/>
<path d="M1540.8,283.1 L1791.9,283.1" fill="none" stroke="#3DA637" stroke-width="6.0" stroke-linejoin="round" clip-path="url(#cp4)"/>
<path d="M1591.02,200.4 L1595.2,201.53 L1599.39,202.65 L1603.58,203.75 L1607.76,204.83 L1611.94,205.91 L1616.13,206.96 L1620.32,208.01 L1624.5,209.03 L1628.68,210.05 L1632.87,211.05 L1637.05,212.03 L1641.24,213 L1645.42,213.96 L1649.61,214.9 L1653.79,215.82 L1657.98,216.74 L1662.16,217.63 L1666.35,218.52 L1670.53,219.38 L1674.72,220.24 L1678.9,221.08 L1683.09,221.9 L1687.27,222.71 L1691.46,223.5 L1695.64,224.28 L1699.83,225.05 L1704.01,225.8 L1708.2,226.54 L1712.38,227.26 L1716.57,227.97 L1720.75,228.66 L1724.94,229.34 L1729.12,230 L1733.31,230.65 L1737.49,231.29 L1741.68,231.91 L1745.87,232.51 L1750.05,233.1 L1754.23,233.68 L1758.42,234.24 L1762.61,234.79 L1766.79,235.32 L1770.97,235.84 L1775.16,236.34 L1779.35,236.83 L1783.53,237.3 L1787.71,237.76 L1791.9,238.21" fill="none" stroke="#17BECF" stroke-width="6.0" stroke-linejoin="round" clip-path="url(#cp4)"/>
<path d="M1591.02,111.91 L1595.2,114.9 L1599.39,117.84 L1603.58,120.71 L1607.76,123.53 L1611.94,126.29 L1616.13,128.99 L1620.32,131.64 L1624.5,134.22 L1628.68,136.75 L1632.87,139.21 L1637.05,141.62 L1641.24,143.97 L1645.42,146.26 L1649.61,148.5 L1653.79,150.67 L1657.98,152.79 L1662.16,154.85 L1666.35,156.85 L1670.53,158.79 L1674.72,160.67 L1678.9,162.5 L1683.09,164.27 L1687.27,165.97 L1691.46,167.62 L1695.64,169.22 L1699.83,170.75 L1704.01,172.22 L1708.2,173.64 L1712.38,175 L1716.57,176.3 L1720.75,177.54 L1724.94,178.72 L1729.12,179.84 L1733.31,180.91 L1737.49,181.92 L1741.68,182.86 L1745.87,183.76 L1750.05,184.59 L1754.23,185.36 L1758.42,186.08 L1762.61,186.73 L1766.79,187.33 L1770.97,187.87 L1775.16,188.35 L1779.35,188.78 L1783.53,189.14 L1787.71,189.45 L1791.9,189.69" fill="none" stroke="#AEC7E8" stroke-width="6.0" stroke-linejoin="round" clip-path="url(#cp4)"/>
<path d="M1540.8,233.4 L1791.9,233.4" fill="none" stroke="#FFBB78" stroke-width="6.0" stroke-linejoin="round" clip-path="url(#cp4)"/>
<path d="M1591.02,163.8 L1595.2,165.04 L1599.39,166.27 L1603.58,167.5 L1607.76,168.73 L1611.94,169.96 L1616.13,171.19 L1620.32,172.42 L1624.5,173.65 L1628.68,174.88 L1632.87,176.1 L1637.05,177.33 L1641.24,178.55 L1645.42,179.77 L1649.61,180.99 L1653.79,182.21 L1657.98,183.43 L1662.16,184.65 L1666.35,185.87 L1670.53,187.08 L1674.72,188.3 L1678.9,189.51 L1683.09,190.73 L1687.27,191.94 L1691.46,193.15 L1695.64,194.36 L1699.83,195.57 L1704.01,196.78 L1708.2,197.98 L1712.38,199.19 L1716.57,200.39 L1720.75,201.6 L1724.94,202.8 L1729.12,204 L1733.31,205.2 L1737.49,206.4 L1741.68,207.6 L1745.87,208.8 L1750.05,210 L1754.23,211.19 L1758.42,212.39 L1762.61,213.58 L1766.79,214.77 L1770.97,215.96 L1775.16,217.15 L1779.35,218.34 L1783.53,219.53 L1787.71,220.72 L1791.9,221.91" fill="none" stroke="#C5B0D5" stroke-width="6.0" stroke-linejoin="round" clip-path="url(#cp4)"/>
<path d="M1591.02,213.74 L1595.2,214.58 L1599.39,215.42 L1603.58,216.24 L1607.76,217.05 L1611.94,217.86 L1616.13,218.65 L1620.32,219.44 L1624.5,220.21 L1628.68,220.98 L1632.87,221.73 L1637.05,222.48 L1641.24,223.22 L1645.42,223.95 L1649.61,224.67 L1653.79,225.37 L1657.98,226.07 L1662.16,226.76 L1666.35,227.44 L1670.53,228.11 L1674.72,228.78 L1678.9,229.43 L1683.09,230.07 L1687.27,230.7 L1691.46,231.33 L1695.64,231.94 L1699.83,232.54 L1704.01,233.14 L1708.2,233.72 L1712.38,234.3 L1716.57,234.86 L1720.75,235.42 L1724.94,235.97 L1729.12,236.51 L1733.31,237.03 L1737.49,237.55 L1741.68,238.06 L1745.87,238.56 L1750.05,239.05 L1754.23,239.53 L1758.42,240 L1762.61,240.46 L1766.79,240.92 L1770.97,241.36 L1775.16,241.79 L1779.35,242.21 L1783.53,242.63 L1787.71,243.03 L1791.9,243.43" fill="none" stroke="#C49C94" stroke-width="6.0" stroke-linejoin="round" clip-path="url(#cp4)"/>
<path d="M1591.02,144.41 L1595.2,146.44 L1599.39,148.43 L1603.58,150.4 L1607.76,152.33 L1611.94,154.23 L1616.13,156.09 L1620.32,157.92 L1624.5,159.73 L1628.68,161.49 L1632.87,163.23 L1637.05,164.93 L1641.24,166.6 L1645.42,168.24 L1649.61,169.85 L1653.79,171.42 L1657.98,172.96 L1662.16,174.47 L1666.35,175.95 L1670.53,177.39 L1674.72,178.8 L1678.9,180.18 L1683.09,181.53 L1687.27,182.84 L1691.46,184.12 L1695.64,185.37 L1699.83,186.59 L1704.01,187.77 L1708.2,188.92 L1712.38,190.04 L1716.57,191.13 L1720.75,192.18 L1724.94,193.21 L1729.12,194.19 L1733.31,195.15 L1737.49,196.08 L1741.68,196.97 L1745.87,197.83 L1750.05,198.65 L1754.23,199.45 L1758.42,200.21 L1762.61,200.94 L1766.79,201.64 L1770.97,202.3 L1775.16,202.93 L1779.35,203.53 L1783.53,204.1 L1787.71,204.64 L1791.9,205.14" fill="none" stroke="#F7B6D2" stroke-width="6.0" stroke-linejoin="round" clip-path="url(#cp4)"/>
<path d="M1540.8,195 L1791.9,195" fill="none" stroke="#C7C7C7" stroke-width="6.0" stroke-linejoin="round" clip-path="url(#cp4)"/>
<line x1="1519.8" x2="1528.8" y1="271.1" y2="271.1" stroke="#222" stroke-width="3.4"/>
<text x="1513.2" y="281.6" text-anchor="end" font-family="'Liberation Sans', Arial, sans-serif" font-size="25.3" fill="#2b2b2b" stroke="#2b2b2b" stroke-width="0.8">500</text>
<line x1="1519.8" x2="1528.8" y1="233.43" y2="233.43" stroke="#222" stroke-width="3.4"/>
<text x="1513.2" y="243.93" text-anchor="end" font-family="'Liberation Sans', Arial, sans-serif" font-size="25.3" fill="#2b2b2b" stroke="#2b2b2b" stroke-width="0.8">550</text>
<line x1="1519.8" x2="1528.8" y1="195.75" y2="195.75" stroke="#222" stroke-width="3.4"/>
<text x="1513.2" y="206.25" text-anchor="end" font-family="'Liberation Sans', Arial, sans-serif" font-size="25.3" fill="#2b2b2b" stroke="#2b2b2b" stroke-width="0.8">600</text>
<line x1="1519.8" x2="1528.8" y1="158.08" y2="158.08" stroke="#222" stroke-width="3.4"/>
<text x="1513.2" y="168.58" text-anchor="end" font-family="'Liberation Sans', Arial, sans-serif" font-size="25.3" fill="#2b2b2b" stroke="#2b2b2b" stroke-width="0.8">650</text>
<line x1="1519.8" x2="1528.8" y1="120.4" y2="120.4" stroke="#222" stroke-width="3.4"/>
<text x="1513.2" y="130.9" text-anchor="end" font-family="'Liberation Sans', Arial, sans-serif" font-size="25.3" fill="#2b2b2b" stroke="#2b2b2b" stroke-width="0.8">700</text>
<rect x="99.6" y="307.1" width="275.5" height="101.6" fill="#D9D9D9"/>
<text x="237.35" y="344" text-anchor="middle" font-family="'Liberation Sans', Arial, sans-serif" font-size="26" fill="#111" stroke="#111" stroke-width="1.0">Low-carbon option</text>
<text x="237.35" y="395.2" text-anchor="middle" font-family="'Liberation Sans', Arial, sans-serif" font-size="26" fill="#111" stroke="#111" stroke-width="1.0">Latin America</text>
<clipPath id="cp5"><rect x="99.5" y="411.6" width="274.8" height="186.9"/></clipPath>
<rect x="99.5" y="411.6" width="274.8" height="186.9" fill="#fff"/>
<line x1="99.5" x2="374.3" y1="411.6" y2="411.6" stroke="#000" stroke-width="1.7"/>
<line x1="98" x2="375.8" y1="598.5" y2="598.5" stroke="#000" stroke-width="4.2"/>
<line x1="99.5" x2="99.5" y1="410.8" y2="600.5" stroke="#000" stroke-width="3.7"/>
<line x1="374.3" x2="374.3" y1="410.8" y2="600.5" stroke="#000" stroke-width="3.4"/>
<line x1="99" x2="374.8" y1="588.93" y2="588.93" stroke="#BEBEBE" stroke-width="3.8"/>
<line x1="99" x2="374.8" y1="561.4" y2="561.4" stroke="#BEBEBE" stroke-width="3.8"/>
<line x1="99" x2="374.8" y1="533.88" y2="533.88" stroke="#BEBEBE" stroke-width="3.8"/>
<line x1="99" x2="374.8" y1="506.35" y2="506.35" stroke="#BEBEBE" stroke-width="3.8"/>
<line x1="99" x2="374.8" y1="478.83" y2="478.83" stroke="#BEBEBE" stroke-width="3.8"/>
<line x1="99" x2="374.8" y1="451.3" y2="451.3" stroke="#BEBEBE" stroke-width="3.8"/>
<line x1="99" x2="374.8" y1="423.77" y2="423.77" stroke="#BEBEBE" stroke-width="3.8"/>
<line x1="111.6" x2="111.6" y1="410.6" y2="599.5" stroke="#BEBEBE" stroke-width="3.3"/>
<line x1="153.45" x2="153.45" y1="410.6" y2="599.5" stroke="#BEBEBE" stroke-width="3.3"/>
<line x1="195.3" x2="195.3" y1="410.6" y2="599.5" stroke="#BEBEBE" stroke-width="3.3"/>
<line x1="237.15" x2="237.15" y1="410.6" y2="599.5" stroke="#BEBEBE" stroke-width="3.3"/>
<line x1="279" x2="279" y1="410.6" y2="599.5" stroke="#BEBEBE" stroke-width="3.3"/>
<line x1="320.85" x2="320.85" y1="410.6" y2="599.5" stroke="#BEBEBE" stroke-width="3.3"/>
<line x1="362.7" x2="362.7" y1="410.6" y2="599.5" stroke="#BEBEBE" stroke-width="3.3"/>
<path d="M111.6,559.8 L362.7,559.8" fill="none" stroke="#3A7CBE" stroke-width="6.0" stroke-linejoin="round" clip-path="url(#cp5)"/>
<path d="M111.6,589.6 L362.7,589.6" fill="none" stroke="#3DA637" stroke-width="6.0" stroke-linejoin="round" clip-path="url(#cp5)"/>
<path d="M161.82,494.29 L166,495.5 L170.19,496.68 L174.38,497.85 L178.56,499.01 L182.75,500.15 L186.93,501.27 L191.11,502.38 L195.3,503.48 L199.48,504.56 L203.67,505.62 L207.85,506.67 L212.04,507.7 L216.22,508.72 L220.41,509.72 L224.59,510.7 L228.78,511.67 L232.96,512.63 L237.15,513.57 L241.33,514.49 L245.52,515.4 L249.7,516.29 L253.89,517.17 L258.07,518.03 L262.26,518.88 L266.44,519.71 L270.63,520.52 L274.81,521.32 L279,522.11 L283.18,522.88 L287.37,523.63 L291.55,524.37 L295.74,525.09 L299.92,525.8 L304.11,526.49 L308.29,527.17 L312.48,527.83 L316.66,528.47 L320.85,529.1 L325.03,529.72 L329.22,530.32 L333.4,530.9 L337.59,531.47 L341.77,532.02 L345.96,532.56 L350.14,533.08 L354.33,533.59 L358.51,534.08 L362.7,534.55" fill="none" stroke="#17BECF" stroke-width="6.0" stroke-linejoin="round" clip-path="url(#cp5)"/>
<path d="M161.82,515.31 L166,516.58 L170.19,517.82 L174.38,519.04 L178.56,520.25 L182.75,521.43 L186.93,522.59 L191.11,523.73 L195.3,524.86 L199.48,525.96 L203.67,527.04 L207.85,528.1 L212.04,529.14 L216.22,530.16 L220.41,531.16 L224.59,532.14 L228.78,533.1 L232.96,534.04 L237.15,534.96 L241.33,535.86 L245.52,536.74 L249.7,537.6 L253.89,538.44 L258.07,539.26 L262.26,540.05 L266.44,540.83 L270.63,541.59 L274.81,542.33 L279,543.04 L283.18,543.74 L287.37,544.42 L291.55,545.07 L295.74,545.71 L299.92,546.32 L304.11,546.92 L308.29,547.49 L312.48,548.05 L316.66,548.58 L320.85,549.1 L325.03,549.59 L329.22,550.07 L333.4,550.52 L337.59,550.95 L341.77,551.37 L345.96,551.76 L350.14,552.13 L354.33,552.48 L358.51,552.81 L362.7,553.13" fill="none" stroke="#AEC7E8" stroke-width="6.0" stroke-linejoin="round" clip-path="url(#cp5)"/>
<path d="M111.6,547.6 L362.7,547.6" fill="none" stroke="#FFBB78" stroke-width="6.0" stroke-linejoin="round" clip-path="url(#cp5)"/>
<path d="M161.82,419.91 L166,421.77 L170.19,423.6 L174.38,425.42 L178.56,427.21 L182.75,428.99 L186.93,430.74 L191.11,432.47 L195.3,434.19 L199.48,435.87 L203.67,437.54 L207.85,439.19 L212.04,440.82 L216.22,442.42 L220.41,444.01 L224.59,445.57 L228.78,447.12 L232.96,448.64 L237.15,450.14 L241.33,451.62 L245.52,453.08 L249.7,454.51 L253.89,455.93 L258.07,457.32 L262.26,458.7 L266.44,460.05 L270.63,461.38 L274.81,462.69 L279,463.98 L283.18,465.25 L287.37,466.5 L291.55,467.73 L295.74,468.93 L299.92,470.12 L304.11,471.28 L308.29,472.42 L312.48,473.55 L316.66,474.65 L320.85,475.73 L325.03,476.78 L329.22,477.82 L333.4,478.84 L337.59,479.83 L341.77,480.81 L345.96,481.76 L350.14,482.69 L354.33,483.6 L358.51,484.49 L362.7,485.36" fill="none" stroke="#C5B0D5" stroke-width="6.0" stroke-linejoin="round" clip-path="url(#cp5)"/>
<path d="M161.82,493.18 L166,494.04 L170.19,494.89 L174.38,495.73 L178.56,496.57 L182.75,497.4 L186.93,498.22 L191.11,499.04 L195.3,499.85 L199.48,500.65 L203.67,501.44 L207.85,502.23 L212.04,503.01 L216.22,503.78 L220.41,504.54 L224.59,505.3 L228.78,506.05 L232.96,506.79 L237.15,507.53 L241.33,508.26 L245.52,508.98 L249.7,509.69 L253.89,510.4 L258.07,511.1 L262.26,511.79 L266.44,512.48 L270.63,513.16 L274.81,513.83 L279,514.49 L283.18,515.14 L287.37,515.79 L291.55,516.44 L295.74,517.07 L299.92,517.7 L304.11,518.32 L308.29,518.93 L312.48,519.53 L316.66,520.13 L320.85,520.72 L325.03,521.31 L329.22,521.88 L333.4,522.45 L337.59,523.01 L341.77,523.57 L345.96,524.12 L350.14,524.66 L354.33,525.19 L358.51,525.71 L362.7,526.23" fill="none" stroke="#C49C94" stroke-width="6.0" stroke-linejoin="round" clip-path="url(#cp5)"/>
<path d="M161.82,510.13 L166,511.08 L170.19,512.02 L174.38,512.94 L178.56,513.85 L182.75,514.74 L186.93,515.62 L191.11,516.48 L195.3,517.32 L199.48,518.15 L203.67,518.97 L207.85,519.77 L212.04,520.55 L216.22,521.32 L220.41,522.07 L224.59,522.81 L228.78,523.54 L232.96,524.24 L237.15,524.93 L241.33,525.61 L245.52,526.27 L249.7,526.92 L253.89,527.55 L258.07,528.16 L262.26,528.76 L266.44,529.35 L270.63,529.92 L274.81,530.47 L279,531.01 L283.18,531.53 L287.37,532.04 L291.55,532.53 L295.74,533.01 L299.92,533.47 L304.11,533.92 L308.29,534.35 L312.48,534.76 L316.66,535.16 L320.85,535.55 L325.03,535.92 L329.22,536.27 L333.4,536.61 L337.59,536.93 L341.77,537.24 L345.96,537.53 L350.14,537.81 L354.33,538.07 L358.51,538.32 L362.7,538.55" fill="none" stroke="#F7B6D2" stroke-width="6.0" stroke-linejoin="round" clip-path="url(#cp5)"/>
<path d="M111.6,505.4 L362.7,505.4" fill="none" stroke="#C7C7C7" stroke-width="6.0" stroke-linejoin="round" clip-path="url(#cp5)"/>
<line x1="90.6" x2="99.6" y1="561.4" y2="561.4" stroke="#222" stroke-width="3.4"/>
<text x="84" y="571.9" text-anchor="end" font-family="'Liberation Sans', Arial, sans-serif" font-size="25.3" fill="#2b2b2b" stroke="#2b2b2b" stroke-width="0.8">500</text>
<line x1="90.6" x2="99.6" y1="506.35" y2="506.35" stroke="#222" stroke-width="3.4"/>
<text x="84" y="516.85" text-anchor="end" font-family="'Liberation Sans', Arial, sans-serif" font-size="25.3" fill="#2b2b2b" stroke="#2b2b2b" stroke-width="0.8">600</text>
<line x1="90.6" x2="99.6" y1="451.3" y2="451.3" stroke="#222" stroke-width="3.4"/>
<text x="84" y="461.8" text-anchor="end" font-family="'Liberation Sans', Arial, sans-serif" font-size="25.3" fill="#2b2b2b" stroke="#2b2b2b" stroke-width="0.8">700</text>
<rect x="464.1" y="307.1" width="275.5" height="101.6" fill="#D9D9D9"/>
<text x="601.85" y="344" text-anchor="middle" font-family="'Liberation Sans', Arial, sans-serif" font-size="26" fill="#111" stroke="#111" stroke-width="1.0">Low-carbon option</text>
<text x="601.85" y="395.2" text-anchor="middle" font-family="'Liberation Sans', Arial, sans-serif" font-size="26" fill="#111" stroke="#111" stroke-width="1.0">Middle East</text>
<clipPath id="cp6"><rect x="464" y="411.6" width="274.8" height="186.9"/></clipPath>
<rect x="464" y="411.6" width="274.8" height="186.9" fill="#fff"/>
<line x1="464" x2="738.8" y1="411.6" y2="411.6" stroke="#000" stroke-width="1.7"/>
<line x1="462.5" x2="740.3" y1="598.5" y2="598.5" stroke="#000" stroke-width="4.2"/>
<line x1="464" x2="464" y1="410.8" y2="600.5" stroke="#000" stroke-width="3.7"/>
<line x1="738.8" x2="738.8" y1="410.8" y2="600.5" stroke="#000" stroke-width="3.4"/>
<line x1="463.5" x2="739.3" y1="582.9" y2="582.9" stroke="#BEBEBE" stroke-width="3.8"/>
<line x1="463.5" x2="739.3" y1="564.64" y2="564.64" stroke="#BEBEBE" stroke-width="3.8"/>
<line x1="463.5" x2="739.3" y1="546.38" y2="546.38" stroke="#BEBEBE" stroke-width="3.8"/>
<line x1="463.5" x2="739.3" y1="528.11" y2="528.11" stroke="#BEBEBE" stroke-width="3.8"/>
<line x1="463.5" x2="739.3" y1="509.85" y2="509.85" stroke="#BEBEBE" stroke-width="3.8"/>
<line x1="463.5" x2="739.3" y1="491.59" y2="491.59" stroke="#BEBEBE" stroke-width="3.8"/>
<line x1="463.5" x2="739.3" y1="473.33" y2="473.33" stroke="#BEBEBE" stroke-width="3.8"/>
<line x1="463.5" x2="739.3" y1="455.06" y2="455.06" stroke="#BEBEBE" stroke-width="3.8"/>
<line x1="463.5" x2="739.3" y1="436.8" y2="436.8" stroke="#BEBEBE" stroke-width="3.8"/>
<line x1="463.5" x2="739.3" y1="418.54" y2="418.54" stroke="#BEBEBE" stroke-width="3.8"/>
<line x1="476.1" x2="476.1" y1="410.6" y2="599.5" stroke="#BEBEBE" stroke-width="3.3"/>
<line x1="517.95" x2="517.95" y1="410.6" y2="599.5" stroke="#BEBEBE" stroke-width="3.3"/>
<line x1="559.8" x2="559.8" y1="410.6" y2="599.5" stroke="#BEBEBE" stroke-width="3.3"/>
<line x1="601.65" x2="601.65" y1="410.6" y2="599.5" stroke="#BEBEBE" stroke-width="3.3"/>
<line x1="643.5" x2="643.5" y1="410.6" y2="599.5" stroke="#BEBEBE" stroke-width="3.3"/>
<line x1="685.35" x2="685.35" y1="410.6" y2="599.5" stroke="#BEBEBE" stroke-width="3.3"/>
<line x1="727.2" x2="727.2" y1="410.6" y2="599.5" stroke="#BEBEBE" stroke-width="3.3"/>
<path d="M476.1,494.9 L727.2,494.9" fill="none" stroke="#3A7CBE" stroke-width="6.0" stroke-linejoin="round" clip-path="url(#cp6)"/>
<path d="M476.1,589.7 L727.2,589.7" fill="none" stroke="#3DA637" stroke-width="6.0" stroke-linejoin="round" clip-path="url(#cp6)"/>
<path d="M526.32,548.84 L530.5,549.69 L534.69,550.53 L538.88,551.36 L543.06,552.17 L547.25,552.97 L551.43,553.75 L555.62,554.52 L559.8,555.28 L563.99,556.03 L568.17,556.76 L572.36,557.47 L576.54,558.17 L580.73,558.86 L584.91,559.54 L589.1,560.2 L593.28,560.85 L597.47,561.48 L601.65,562.1 L605.84,562.71 L610.02,563.3 L614.21,563.88 L618.39,564.44 L622.58,564.99 L626.76,565.53 L630.95,566.06 L635.13,566.57 L639.32,567.06 L643.5,567.55 L647.68,568.01 L651.87,568.47 L656.06,568.91 L660.24,569.34 L664.42,569.75 L668.61,570.15 L672.8,570.54 L676.98,570.91 L681.16,571.27 L685.35,571.62 L689.53,571.95 L693.72,572.27 L697.9,572.57 L702.09,572.86 L706.27,573.14 L710.46,573.4 L714.64,573.65 L718.83,573.89 L723.01,574.11 L727.2,574.32" fill="none" stroke="#17BECF" stroke-width="6.0" stroke-linejoin="round" clip-path="url(#cp6)"/>
<path d="M526.32,503.21 L530.5,505.01 L534.69,506.79 L538.88,508.52 L543.06,510.22 L547.25,511.89 L551.43,513.51 L555.62,515.11 L559.8,516.66 L563.99,518.19 L568.17,519.67 L572.36,521.12 L576.54,522.54 L580.73,523.92 L584.91,525.26 L589.1,526.57 L593.28,527.84 L597.47,529.08 L601.65,530.28 L605.84,531.44 L610.02,532.57 L614.21,533.67 L618.39,534.72 L622.58,535.75 L626.76,536.73 L630.95,537.68 L635.13,538.6 L639.32,539.48 L643.5,540.32 L647.68,541.13 L651.87,541.91 L656.06,542.64 L660.24,543.34 L664.42,544.01 L668.61,544.64 L672.8,545.24 L676.98,545.79 L681.16,546.32 L685.35,546.81 L689.53,547.26 L693.72,547.67 L697.9,548.05 L702.09,548.4 L706.27,548.71 L710.46,548.98 L714.64,549.22 L718.83,549.42 L723.01,549.59 L727.2,549.72" fill="none" stroke="#AEC7E8" stroke-width="6.0" stroke-linejoin="round" clip-path="url(#cp6)"/>
<path d="M476.1,564.6 L727.2,564.6" fill="none" stroke="#FFBB78" stroke-width="6.0" stroke-linejoin="round" clip-path="url(#cp6)"/>
<path d="M526.32,419.21 L530.5,420.28 L534.69,421.34 L538.88,422.39 L543.06,423.43 L547.25,424.46 L551.43,425.48 L555.62,426.49 L559.8,427.48 L563.99,428.47 L568.17,429.45 L572.36,430.41 L576.54,431.36 L580.73,432.3 L584.91,433.24 L589.1,434.16 L593.28,435.06 L597.47,435.96 L601.65,436.85 L605.84,437.73 L610.02,438.59 L614.21,439.45 L618.39,440.29 L622.58,441.13 L626.76,441.95 L630.95,442.76 L635.13,443.56 L639.32,444.35 L643.5,445.13 L647.68,445.9 L651.87,446.65 L656.06,447.4 L660.24,448.13 L664.42,448.86 L668.61,449.57 L672.8,450.27 L676.98,450.96 L681.16,451.65 L685.35,452.32 L689.53,452.97 L693.72,453.62 L697.9,454.26 L702.09,454.89 L706.27,455.5 L710.46,456.1 L714.64,456.7 L718.83,457.28 L723.01,457.85 L727.2,458.41" fill="none" stroke="#C5B0D5" stroke-width="6.0" stroke-linejoin="round" clip-path="url(#cp6)"/>
<path d="M526.32,463.48 L530.5,464.12 L534.69,464.74 L538.88,465.35 L543.06,465.95 L547.25,466.54 L551.43,467.12 L555.62,467.69 L559.8,468.25 L563.99,468.79 L568.17,469.33 L572.36,469.85 L576.54,470.37 L580.73,470.87 L584.91,471.36 L589.1,471.84 L593.28,472.31 L597.47,472.77 L601.65,473.22 L605.84,473.66 L610.02,474.09 L614.21,474.5 L618.39,474.91 L622.58,475.3 L626.76,475.68 L630.95,476.06 L635.13,476.42 L639.32,476.77 L643.5,477.11 L647.68,477.44 L651.87,477.76 L656.06,478.06 L660.24,478.36 L664.42,478.65 L668.61,478.92 L672.8,479.19 L676.98,479.44 L681.16,479.68 L685.35,479.91 L689.53,480.13 L693.72,480.34 L697.9,480.54 L702.09,480.73 L706.27,480.91 L710.46,481.07 L714.64,481.23 L718.83,481.37 L723.01,481.51 L727.2,481.63" fill="none" stroke="#C49C94" stroke-width="6.0" stroke-linejoin="round" clip-path="url(#cp6)"/>
<path d="M526.32,427.87 L530.5,429.19 L534.69,430.48 L538.88,431.75 L543.06,432.99 L547.25,434.21 L551.43,435.41 L555.62,436.58 L559.8,437.73 L563.99,438.85 L568.17,439.95 L572.36,441.03 L576.54,442.08 L580.73,443.1 L584.91,444.1 L589.1,445.08 L593.28,446.03 L597.47,446.96 L601.65,447.87 L605.84,448.75 L610.02,449.6 L614.21,450.44 L618.39,451.24 L622.58,452.03 L626.76,452.78 L630.95,453.52 L635.13,454.23 L639.32,454.92 L643.5,455.58 L647.68,456.21 L651.87,456.83 L656.06,457.42 L660.24,457.98 L664.42,458.52 L668.61,459.04 L672.8,459.53 L676.98,459.99 L681.16,460.44 L685.35,460.85 L689.53,461.25 L693.72,461.62 L697.9,461.96 L702.09,462.29 L706.27,462.58 L710.46,462.85 L714.64,463.1 L718.83,463.33 L723.01,463.53 L727.2,463.7" fill="none" stroke="#F7B6D2" stroke-width="6.0" stroke-linejoin="round" clip-path="url(#cp6)"/>
<path d="M476.1,485.8 L727.2,485.8" fill="none" stroke="#C7C7C7" stroke-width="6.0" stroke-linejoin="round" clip-path="url(#cp6)"/>
<line x1="455.1" x2="464.1" y1="582.9" y2="582.9" stroke="#222" stroke-width="3.4"/>
<text x="448.5" y="593.4" text-anchor="end" font-family="'Liberation Sans', Arial, sans-serif" font-size="25.3" fill="#2b2b2b" stroke="#2b2b2b" stroke-width="0.8">400</text>
<line x1="455.1" x2="464.1" y1="546.38" y2="546.38" stroke="#222" stroke-width="3.4"/>
<text x="448.5" y="556.88" text-anchor="end" font-family="'Liberation Sans', Arial, sans-serif" font-size="25.3" fill="#2b2b2b" stroke="#2b2b2b" stroke-width="0.8">450</text>
<line x1="455.1" x2="464.1" y1="509.85" y2="509.85" stroke="#222" stroke-width="3.4"/>
<text x="448.5" y="520.35" text-anchor="end" font-family="'Liberation Sans', Arial, sans-serif" font-size="25.3" fill="#2b2b2b" stroke="#2b2b2b" stroke-width="0.8">500</text>
<line x1="455.1" x2="464.1" y1="473.33" y2="473.33" stroke="#222" stroke-width="3.4"/>
<text x="448.5" y="483.83" text-anchor="end" font-family="'Liberation Sans', Arial, sans-serif" font-size="25.3" fill="#2b2b2b" stroke="#2b2b2b" stroke-width="0.8">550</text>
<line x1="455.1" x2="464.1" y1="436.8" y2="436.8" stroke="#222" stroke-width="3.4"/>
<text x="448.5" y="447.3" text-anchor="end" font-family="'Liberation Sans', Arial, sans-serif" font-size="25.3" fill="#2b2b2b" stroke="#2b2b2b" stroke-width="0.8">600</text>
<rect x="828.7" y="307.1" width="275.5" height="101.6" fill="#D9D9D9"/>
<text x="966.45" y="344" text-anchor="middle" font-family="'Liberation Sans', Arial, sans-serif" font-size="26" fill="#111" stroke="#111" stroke-width="1.0">Low-carbon option</text>
<text x="966.45" y="395.2" text-anchor="middle" font-family="'Liberation Sans', Arial, sans-serif" font-size="26" fill="#111" stroke="#111" stroke-width="1.0">North America</text>
<clipPath id="cp7"><rect x="828.6" y="411.6" width="274.8" height="186.9"/></clipPath>
<rect x="828.6" y="411.6" width="274.8" height="186.9" fill="#fff"/>
<line x1="828.6" x2="1103.4" y1="411.6" y2="411.6" stroke="#000" stroke-width="1.7"/>
<line x1="827.1" x2="1104.9" y1="598.5" y2="598.5" stroke="#000" stroke-width="4.2"/>
<line x1="828.6" x2="828.6" y1="410.8" y2="600.5" stroke="#000" stroke-width="3.7"/>
<line x1="1103.4" x2="1103.4" y1="410.8" y2="600.5" stroke="#000" stroke-width="3.4"/>
<line x1="828.1" x2="1103.9" y1="589.12" y2="589.12" stroke="#BEBEBE" stroke-width="3.8"/>
<line x1="828.1" x2="1103.9" y1="568.9" y2="568.9" stroke="#BEBEBE" stroke-width="3.8"/>
<line x1="828.1" x2="1103.9" y1="548.68" y2="548.68" stroke="#BEBEBE" stroke-width="3.8"/>
<line x1="828.1" x2="1103.9" y1="528.47" y2="528.47" stroke="#BEBEBE" stroke-width="3.8"/>
<line x1="828.1" x2="1103.9" y1="508.25" y2="508.25" stroke="#BEBEBE" stroke-width="3.8"/>
<line x1="828.1" x2="1103.9" y1="488.03" y2="488.03" stroke="#BEBEBE" stroke-width="3.8"/>
<line x1="828.1" x2="1103.9" y1="467.82" y2="467.82" stroke="#BEBEBE" stroke-width="3.8"/>
<line x1="828.1" x2="1103.9" y1="447.6" y2="447.6" stroke="#BEBEBE" stroke-width="3.8"/>
<line x1="828.1" x2="1103.9" y1="427.38" y2="427.38" stroke="#BEBEBE" stroke-width="3.8"/>
<line x1="840.7" x2="840.7" y1="410.6" y2="599.5" stroke="#BEBEBE" stroke-width="3.3"/>
<line x1="882.55" x2="882.55" y1="410.6" y2="599.5" stroke="#BEBEBE" stroke-width="3.3"/>
<line x1="924.4" x2="924.4" y1="410.6" y2="599.5" stroke="#BEBEBE" stroke-width="3.3"/>
<line x1="966.25" x2="966.25" y1="410.6" y2="599.5" stroke="#BEBEBE" stroke-width="3.3"/>
<line x1="1008.1" x2="1008.1" y1="410.6" y2="599.5" stroke="#BEBEBE" stroke-width="3.3"/>
<line x1="1049.95" x2="1049.95" y1="410.6" y2="599.5" stroke="#BEBEBE" stroke-width="3.3"/>
<line x1="1091.8" x2="1091.8" y1="410.6" y2="599.5" stroke="#BEBEBE" stroke-width="3.3"/>
<path d="M840.7,553.8 L1091.8,553.8" fill="none" stroke="#3A7CBE" stroke-width="6.0" stroke-linejoin="round" clip-path="url(#cp7)"/>
<path d="M840.7,589.7 L1091.8,589.7" fill="none" stroke="#3DA637" stroke-width="6.0" stroke-linejoin="round" clip-path="url(#cp7)"/>
<path d="M890.92,516.56 L895.11,517.44 L899.29,518.31 L903.48,519.17 L907.66,520.01 L911.85,520.85 L916.03,521.67 L920.22,522.49 L924.4,523.29 L928.59,524.09 L932.77,524.87 L936.96,525.65 L941.14,526.41 L945.33,527.16 L949.51,527.9 L953.7,528.63 L957.88,529.36 L962.07,530.07 L966.25,530.77 L970.44,531.46 L974.62,532.14 L978.81,532.8 L982.99,533.46 L987.18,534.11 L991.36,534.75 L995.55,535.37 L999.73,535.99 L1003.91,536.6 L1008.1,537.19 L1012.29,537.78 L1016.47,538.35 L1020.65,538.92 L1024.84,539.47 L1029.03,540.01 L1033.21,540.55 L1037.39,541.07 L1041.58,541.58 L1045.77,542.08 L1049.95,542.57 L1054.13,543.05 L1058.32,543.52 L1062.51,543.98 L1066.69,544.43 L1070.88,544.87 L1075.06,545.3 L1079.25,545.72 L1083.43,546.13 L1087.62,546.52 L1091.8,546.91" fill="none" stroke="#17BECF" stroke-width="6.0" stroke-linejoin="round" clip-path="url(#cp7)"/>
<path d="M890.92,483.11 L895.11,484.68 L899.29,486.22 L903.48,487.73 L907.66,489.21 L911.85,490.66 L916.03,492.09 L920.22,493.49 L924.4,494.85 L928.59,496.2 L932.77,497.51 L936.96,498.8 L941.14,500.05 L945.33,501.28 L949.51,502.48 L953.7,503.66 L957.88,504.8 L962.07,505.92 L966.25,507.01 L970.44,508.07 L974.62,509.1 L978.81,510.11 L982.99,511.09 L987.18,512.04 L991.36,512.96 L995.55,513.85 L999.73,514.71 L1003.91,515.55 L1008.1,516.36 L1012.29,517.14 L1016.47,517.89 L1020.65,518.62 L1024.84,519.32 L1029.03,519.99 L1033.21,520.63 L1037.39,521.24 L1041.58,521.82 L1045.77,522.38 L1049.95,522.91 L1054.13,523.41 L1058.32,523.88 L1062.51,524.33 L1066.69,524.74 L1070.88,525.13 L1075.06,525.49 L1079.25,525.82 L1083.43,526.13 L1087.62,526.41 L1091.8,526.65" fill="none" stroke="#AEC7E8" stroke-width="6.0" stroke-linejoin="round" clip-path="url(#cp7)"/>
<path d="M840.7,538.3 L1091.8,538.3" fill="none" stroke="#FFBB78" stroke-width="6.0" stroke-linejoin="round" clip-path="url(#cp7)"/>
<path d="M890.92,465.43 L895.11,466.74 L899.29,468.02 L903.48,469.29 L907.66,470.55 L911.85,471.79 L916.03,473.02 L920.22,474.23 L924.4,475.42 L928.59,476.6 L932.77,477.77 L936.96,478.92 L941.14,480.05 L945.33,481.18 L949.51,482.28 L953.7,483.37 L957.88,484.44 L962.07,485.5 L966.25,486.55 L970.44,487.58 L974.62,488.59 L978.81,489.59 L982.99,490.58 L987.18,491.55 L991.36,492.5 L995.55,493.44 L999.73,494.36 L1003.91,495.27 L1008.1,496.16 L1012.29,497.04 L1016.47,497.91 L1020.65,498.75 L1024.84,499.59 L1029.03,500.41 L1033.21,501.21 L1037.39,502 L1041.58,502.77 L1045.77,503.53 L1049.95,504.27 L1054.13,505 L1058.32,505.71 L1062.51,506.4 L1066.69,507.09 L1070.88,507.75 L1075.06,508.41 L1079.25,509.04 L1083.43,509.66 L1087.62,510.27 L1091.8,510.86" fill="none" stroke="#C5B0D5" stroke-width="6.0" stroke-linejoin="round" clip-path="url(#cp7)"/>
<path d="M890.92,508.84 L895.11,509.44 L899.29,510.04 L903.48,510.64 L907.66,511.23 L911.85,511.81 L916.03,512.39 L920.22,512.96 L924.4,513.53 L928.59,514.1 L932.77,514.66 L936.96,515.21 L941.14,515.76 L945.33,516.31 L949.51,516.85 L953.7,517.38 L957.88,517.91 L962.07,518.44 L966.25,518.96 L970.44,519.47 L974.62,519.98 L978.81,520.49 L982.99,520.99 L987.18,521.48 L991.36,521.97 L995.55,522.46 L999.73,522.94 L1003.91,523.41 L1008.1,523.88 L1012.29,524.35 L1016.47,524.81 L1020.65,525.27 L1024.84,525.72 L1029.03,526.16 L1033.21,526.61 L1037.39,527.04 L1041.58,527.47 L1045.77,527.9 L1049.95,528.32 L1054.13,528.74 L1058.32,529.15 L1062.51,529.56 L1066.69,529.96 L1070.88,530.36 L1075.06,530.75 L1079.25,531.13 L1083.43,531.52 L1087.62,531.89 L1091.8,532.27" fill="none" stroke="#C49C94" stroke-width="6.0" stroke-linejoin="round" clip-path="url(#cp7)"/>
<path d="M890.92,482.36 L895.11,483.61 L899.29,484.85 L903.48,486.06 L907.66,487.24 L911.85,488.41 L916.03,489.55 L920.22,490.68 L924.4,491.78 L928.59,492.85 L932.77,493.91 L936.96,494.95 L941.14,495.96 L945.33,496.95 L949.51,497.92 L953.7,498.87 L957.88,499.79 L962.07,500.7 L966.25,501.58 L970.44,502.44 L974.62,503.28 L978.81,504.09 L982.99,504.89 L987.18,505.66 L991.36,506.41 L995.55,507.14 L999.73,507.85 L1003.91,508.53 L1008.1,509.19 L1012.29,509.84 L1016.47,510.45 L1020.65,511.05 L1024.84,511.63 L1029.03,512.18 L1033.21,512.71 L1037.39,513.22 L1041.58,513.71 L1045.77,514.18 L1049.95,514.62 L1054.13,515.05 L1058.32,515.45 L1062.51,515.83 L1066.69,516.18 L1070.88,516.52 L1075.06,516.83 L1079.25,517.12 L1083.43,517.39 L1087.62,517.64 L1091.8,517.87" fill="none" stroke="#F7B6D2" stroke-width="6.0" stroke-linejoin="round" clip-path="url(#cp7)"/>
<path d="M840.7,418.1 L1091.8,418.1" fill="none" stroke="#C7C7C7" stroke-width="6.0" stroke-linejoin="round" clip-path="url(#cp7)"/>
<line x1="819.7" x2="828.7" y1="568.9" y2="568.9" stroke="#222" stroke-width="3.4"/>
<text x="813.1" y="579.4" text-anchor="end" font-family="'Liberation Sans', Arial, sans-serif" font-size="25.3" fill="#2b2b2b" stroke="#2b2b2b" stroke-width="0.8">500</text>
<line x1="819.7" x2="828.7" y1="528.47" y2="528.47" stroke="#222" stroke-width="3.4"/>
<text x="813.1" y="538.97" text-anchor="end" font-family="'Liberation Sans', Arial, sans-serif" font-size="25.3" fill="#2b2b2b" stroke="#2b2b2b" stroke-width="0.8">550</text>
<line x1="819.7" x2="828.7" y1="488.03" y2="488.03" stroke="#222" stroke-width="3.4"/>
<text x="813.1" y="498.53" text-anchor="end" font-family="'Liberation Sans', Arial, sans-serif" font-size="25.3" fill="#2b2b2b" stroke="#2b2b2b" stroke-width="0.8">600</text>
<line x1="819.7" x2="828.7" y1="447.6" y2="447.6" stroke="#222" stroke-width="3.4"/>
<text x="813.1" y="458.1" text-anchor="end" font-family="'Liberation Sans', Arial, sans-serif" font-size="25.3" fill="#2b2b2b" stroke="#2b2b2b" stroke-width="0.8">650</text>
<rect x="1179.1" y="307.1" width="275.5" height="101.6" fill="#D9D9D9"/>
<text x="1316.85" y="344" text-anchor="middle" font-family="'Liberation Sans', Arial, sans-serif" font-size="26" fill="#111" stroke="#111" stroke-width="1.0">Low-carbon option</text>
<text x="1316.85" y="395.2" text-anchor="middle" font-family="'Liberation Sans', Arial, sans-serif" font-size="26" fill="#111" stroke="#111" stroke-width="1.0">Other Asia and Pacific</text>
<clipPath id="cp8"><rect x="1179" y="411.6" width="274.8" height="186.9"/></clipPath>
<rect x="1179" y="411.6" width="274.8" height="186.9" fill="#fff"/>
<line x1="1179" x2="1453.8" y1="411.6" y2="411.6" stroke="#000" stroke-width="1.7"/>
<line x1="1179" x2="1179" y1="410.8" y2="597" stroke="#000" stroke-width="3.7"/>
<line x1="1453.8" x2="1453.8" y1="410.8" y2="597" stroke="#000" stroke-width="3.4"/>
<line x1="1178.5" x2="1454.3" y1="599.23" y2="599.23" stroke="#BEBEBE" stroke-width="3.8"/>
<line x1="1178.5" x2="1454.3" y1="575.3" y2="575.3" stroke="#BEBEBE" stroke-width="3.8"/>
<line x1="1178.5" x2="1454.3" y1="551.37" y2="551.37" stroke="#BEBEBE" stroke-width="3.8"/>
<line x1="1178.5" x2="1454.3" y1="527.43" y2="527.43" stroke="#BEBEBE" stroke-width="3.8"/>
<line x1="1178.5" x2="1454.3" y1="503.5" y2="503.5" stroke="#BEBEBE" stroke-width="3.8"/>
<line x1="1178.5" x2="1454.3" y1="479.57" y2="479.57" stroke="#BEBEBE" stroke-width="3.8"/>
<line x1="1178.5" x2="1454.3" y1="455.63" y2="455.63" stroke="#BEBEBE" stroke-width="3.8"/>
<line x1="1178.5" x2="1454.3" y1="431.7" y2="431.7" stroke="#BEBEBE" stroke-width="3.8"/>
<line x1="1191.1" x2="1191.1" y1="410.6" y2="599.5" stroke="#BEBEBE" stroke-width="3.3"/>
<line x1="1232.95" x2="1232.95" y1="410.6" y2="599.5" stroke="#BEBEBE" stroke-width="3.3"/>
<line x1="1274.8" x2="1274.8" y1="410.6" y2="599.5" stroke="#BEBEBE" stroke-width="3.3"/>
<line x1="1316.65" x2="1316.65" y1="410.6" y2="599.5" stroke="#BEBEBE" stroke-width="3.3"/>
<line x1="1358.5" x2="1358.5" y1="410.6" y2="599.5" stroke="#BEBEBE" stroke-width="3.3"/>
<line x1="1400.35" x2="1400.35" y1="410.6" y2="599.5" stroke="#BEBEBE" stroke-width="3.3"/>
<line x1="1442.2" x2="1442.2" y1="410.6" y2="599.5" stroke="#BEBEBE" stroke-width="3.3"/>
<path d="M1191.1,477 L1442.2,477" fill="none" stroke="#3A7CBE" stroke-width="6.0" stroke-linejoin="round" clip-path="url(#cp8)"/>
<path d="M1191.1,589.6 L1442.2,589.6" fill="none" stroke="#3DA637" stroke-width="6.0" stroke-linejoin="round" clip-path="url(#cp8)"/>
<path d="M1241.32,532.69 L1245.5,533.35 L1249.69,534 L1253.88,534.65 L1258.06,535.29 L1262.24,535.92 L1266.43,536.55 L1270.61,537.17 L1274.8,537.79 L1278.98,538.4 L1283.17,539 L1287.36,539.6 L1291.54,540.19 L1295.72,540.77 L1299.91,541.35 L1304.09,541.93 L1308.28,542.49 L1312.46,543.05 L1316.65,543.61 L1320.83,544.15 L1325.02,544.7 L1329.2,545.23 L1333.39,545.76 L1337.57,546.29 L1341.76,546.8 L1345.94,547.32 L1350.13,547.82 L1354.31,548.32 L1358.5,548.81 L1362.68,549.3 L1366.87,549.78 L1371.05,550.26 L1375.24,550.72 L1379.42,551.19 L1383.61,551.64 L1387.79,552.09 L1391.98,552.54 L1396.16,552.98 L1400.35,553.41 L1404.53,553.83 L1408.72,554.25 L1412.9,554.67 L1417.09,555.07 L1421.27,555.48 L1425.46,555.87 L1429.64,556.26 L1433.83,556.64 L1438.01,557.02 L1442.2,557.39" fill="none" stroke="#17BECF" stroke-width="6.0" stroke-linejoin="round" clip-path="url(#cp8)"/>
<path d="M1241.32,527.68 L1245.5,528.6 L1249.69,529.51 L1253.88,530.41 L1258.06,531.29 L1262.24,532.17 L1266.43,533.03 L1270.61,533.88 L1274.8,534.72 L1278.98,535.55 L1283.17,536.37 L1287.36,537.18 L1291.54,537.98 L1295.72,538.76 L1299.91,539.54 L1304.09,540.3 L1308.28,541.05 L1312.46,541.79 L1316.65,542.52 L1320.83,543.24 L1325.02,543.95 L1329.2,544.64 L1333.39,545.33 L1337.57,546 L1341.76,546.67 L1345.94,547.32 L1350.13,547.96 L1354.31,548.59 L1358.5,549.2 L1362.68,549.81 L1366.87,550.4 L1371.05,550.99 L1375.24,551.56 L1379.42,552.12 L1383.61,552.67 L1387.79,553.21 L1391.98,553.74 L1396.16,554.26 L1400.35,554.76 L1404.53,555.26 L1408.72,555.74 L1412.9,556.21 L1417.09,556.67 L1421.27,557.12 L1425.46,557.56 L1429.64,557.99 L1433.83,558.41 L1438.01,558.81 L1442.2,559.21" fill="none" stroke="#AEC7E8" stroke-width="6.0" stroke-linejoin="round" clip-path="url(#cp8)"/>
<path d="M1191.1,553.1 L1442.2,553.1" fill="none" stroke="#FFBB78" stroke-width="6.0" stroke-linejoin="round" clip-path="url(#cp8)"/>
<path d="M1241.32,418.74 L1245.5,419.9 L1249.69,421.05 L1253.88,422.19 L1258.06,423.31 L1262.24,424.43 L1266.43,425.53 L1270.61,426.62 L1274.8,427.69 L1278.98,428.76 L1283.17,429.81 L1287.36,430.85 L1291.54,431.87 L1295.72,432.89 L1299.91,433.89 L1304.09,434.88 L1308.28,435.86 L1312.46,436.82 L1316.65,437.78 L1320.83,438.72 L1325.02,439.64 L1329.2,440.56 L1333.39,441.46 L1337.57,442.36 L1341.76,443.23 L1345.94,444.1 L1350.13,444.96 L1354.31,445.8 L1358.5,446.63 L1362.68,447.44 L1366.87,448.25 L1371.05,449.04 L1375.24,449.82 L1379.42,450.59 L1383.61,451.35 L1387.79,452.09 L1391.98,452.82 L1396.16,453.54 L1400.35,454.24 L1404.53,454.94 L1408.72,455.62 L1412.9,456.29 L1417.09,456.95 L1421.27,457.59 L1425.46,458.22 L1429.64,458.84 L1433.83,459.45 L1438.01,460.04 L1442.2,460.63" fill="none" stroke="#C5B0D5" stroke-width="6.0" stroke-linejoin="round" clip-path="url(#cp8)"/>
<path d="M1241.32,457.22 L1245.5,457.66 L1249.69,458.1 L1253.88,458.53 L1258.06,458.97 L1262.24,459.4 L1266.43,459.82 L1270.61,460.25 L1274.8,460.67 L1278.98,461.09 L1283.17,461.51 L1287.36,461.92 L1291.54,462.33 L1295.72,462.74 L1299.91,463.15 L1304.09,463.55 L1308.28,463.95 L1312.46,464.35 L1316.65,464.75 L1320.83,465.14 L1325.02,465.53 L1329.2,465.92 L1333.39,466.3 L1337.57,466.69 L1341.76,467.07 L1345.94,467.44 L1350.13,467.82 L1354.31,468.19 L1358.5,468.56 L1362.68,468.93 L1366.87,469.29 L1371.05,469.65 L1375.24,470.01 L1379.42,470.37 L1383.61,470.72 L1387.79,471.07 L1391.98,471.42 L1396.16,471.77 L1400.35,472.11 L1404.53,472.45 L1408.72,472.79 L1412.9,473.12 L1417.09,473.45 L1421.27,473.78 L1425.46,474.11 L1429.64,474.43 L1433.83,474.76 L1438.01,475.07 L1442.2,475.39" fill="none" stroke="#C49C94" stroke-width="6.0" stroke-linejoin="round" clip-path="url(#cp8)"/>
<path d="M1241.32,452.27 L1245.5,453.06 L1249.69,453.85 L1253.88,454.62 L1258.06,455.38 L1262.24,456.13 L1266.43,456.86 L1270.61,457.58 L1274.8,458.28 L1278.98,458.97 L1283.17,459.65 L1287.36,460.31 L1291.54,460.96 L1295.72,461.6 L1299.91,462.22 L1304.09,462.83 L1308.28,463.43 L1312.46,464.01 L1316.65,464.58 L1320.83,465.13 L1325.02,465.68 L1329.2,466.2 L1333.39,466.72 L1337.57,467.22 L1341.76,467.71 L1345.94,468.18 L1350.13,468.64 L1354.31,469.09 L1358.5,469.52 L1362.68,469.94 L1366.87,470.35 L1371.05,470.74 L1375.24,471.12 L1379.42,471.49 L1383.61,471.84 L1387.79,472.18 L1391.98,472.5 L1396.16,472.81 L1400.35,473.11 L1404.53,473.4 L1408.72,473.67 L1412.9,473.92 L1417.09,474.17 L1421.27,474.4 L1425.46,474.61 L1429.64,474.82 L1433.83,475.01 L1438.01,475.18 L1442.2,475.34" fill="none" stroke="#F7B6D2" stroke-width="6.0" stroke-linejoin="round" clip-path="url(#cp8)"/>
<path d="M1191.1,455.4 L1442.2,455.4" fill="none" stroke="#C7C7C7" stroke-width="6.0" stroke-linejoin="round" clip-path="url(#cp8)"/>
<line x1="1170.1" x2="1179.1" y1="575.3" y2="575.3" stroke="#222" stroke-width="3.4"/>
<text x="1163.5" y="585.8" text-anchor="end" font-family="'Liberation Sans', Arial, sans-serif" font-size="25.3" fill="#2b2b2b" stroke="#2b2b2b" stroke-width="0.8">500</text>
<line x1="1170.1" x2="1179.1" y1="527.43" y2="527.43" stroke="#222" stroke-width="3.4"/>
<text x="1163.5" y="537.93" text-anchor="end" font-family="'Liberation Sans', Arial, sans-serif" font-size="25.3" fill="#2b2b2b" stroke="#2b2b2b" stroke-width="0.8">600</text>
<line x1="1170.1" x2="1179.1" y1="479.57" y2="479.57" stroke="#222" stroke-width="3.4"/>
<text x="1163.5" y="490.07" text-anchor="end" font-family="'Liberation Sans', Arial, sans-serif" font-size="25.3" fill="#2b2b2b" stroke="#2b2b2b" stroke-width="0.8">700</text>
<line x1="1170.1" x2="1179.1" y1="431.7" y2="431.7" stroke="#222" stroke-width="3.4"/>
<text x="1163.5" y="442.2" text-anchor="end" font-family="'Liberation Sans', Arial, sans-serif" font-size="25.3" fill="#2b2b2b" stroke="#2b2b2b" stroke-width="0.8">800</text>
<rect x="1528.8" y="307.1" width="275.5" height="101.6" fill="#D9D9D9"/>
<text x="1666.55" y="344" text-anchor="middle" font-family="'Liberation Sans', Arial, sans-serif" font-size="26" fill="#111" stroke="#111" stroke-width="1.0">Low-carbon option</text>
<text x="1666.55" y="395.2" text-anchor="middle" font-family="'Liberation Sans', Arial, sans-serif" font-size="26" fill="#111" stroke="#111" stroke-width="1.0">Other Europe and CIS</text>
<clipPath id="cp9"><rect x="1528.7" y="411.6" width="274.8" height="186.9"/></clipPath>
<rect x="1528.7" y="411.6" width="274.8" height="186.9" fill="#fff"/>
<line x1="1528.7" x2="1803.5" y1="411.6" y2="411.6" stroke="#000" stroke-width="1.7"/>
<line x1="1527.2" x2="1805" y1="598.5" y2="598.5" stroke="#000" stroke-width="4.2"/>
<line x1="1528.7" x2="1528.7" y1="410.8" y2="600.5" stroke="#000" stroke-width="3.7"/>
<line x1="1803.5" x2="1803.5" y1="410.8" y2="600.5" stroke="#000" stroke-width="3.4"/>
<line x1="1528.2" x2="1804" y1="583.85" y2="583.85" stroke="#BEBEBE" stroke-width="3.8"/>
<line x1="1528.2" x2="1804" y1="550.7" y2="550.7" stroke="#BEBEBE" stroke-width="3.8"/>
<line x1="1528.2" x2="1804" y1="517.55" y2="517.55" stroke="#BEBEBE" stroke-width="3.8"/>
<line x1="1528.2" x2="1804" y1="484.4" y2="484.4" stroke="#BEBEBE" stroke-width="3.8"/>
<line x1="1528.2" x2="1804" y1="451.25" y2="451.25" stroke="#BEBEBE" stroke-width="3.8"/>
<line x1="1528.2" x2="1804" y1="418.1" y2="418.1" stroke="#BEBEBE" stroke-width="3.8"/>
<line x1="1540.8" x2="1540.8" y1="410.6" y2="599.5" stroke="#BEBEBE" stroke-width="3.3"/>
<line x1="1582.65" x2="1582.65" y1="410.6" y2="599.5" stroke="#BEBEBE" stroke-width="3.3"/>
<line x1="1624.5" x2="1624.5" y1="410.6" y2="599.5" stroke="#BEBEBE" stroke-width="3.3"/>
<line x1="1666.35" x2="1666.35" y1="410.6" y2="599.5" stroke="#BEBEBE" stroke-width="3.3"/>
<line x1="1708.2" x2="1708.2" y1="410.6" y2="599.5" stroke="#BEBEBE" stroke-width="3.3"/>
<line x1="1750.05" x2="1750.05" y1="410.6" y2="599.5" stroke="#BEBEBE" stroke-width="3.3"/>
<line x1="1791.9" x2="1791.9" y1="410.6" y2="599.5" stroke="#BEBEBE" stroke-width="3.3"/>
<path d="M1540.8,589.6 L1791.9,589.6" fill="none" stroke="#3A7CBE" stroke-width="6.0" stroke-linejoin="round" clip-path="url(#cp9)"/>
<path d="M1540.8,582.6 L1791.9,582.6" fill="none" stroke="#3DA637" stroke-width="6.0" stroke-linejoin="round" clip-path="url(#cp9)"/>
<path d="M1591.02,466.29 L1595.2,467.75 L1599.39,469.2 L1603.58,470.63 L1607.76,472.05 L1611.94,473.44 L1616.13,474.82 L1620.32,476.18 L1624.5,477.53 L1628.68,478.86 L1632.87,480.17 L1637.05,481.46 L1641.24,482.74 L1645.42,484 L1649.61,485.24 L1653.79,486.46 L1657.98,487.67 L1662.16,488.86 L1666.35,490.03 L1670.53,491.19 L1674.72,492.33 L1678.9,493.45 L1683.09,494.55 L1687.27,495.64 L1691.46,496.7 L1695.64,497.76 L1699.83,498.79 L1704.01,499.81 L1708.2,500.81 L1712.38,501.79 L1716.57,502.76 L1720.75,503.7 L1724.94,504.64 L1729.12,505.55 L1733.31,506.45 L1737.49,507.33 L1741.68,508.19 L1745.87,509.03 L1750.05,509.86 L1754.23,510.67 L1758.42,511.46 L1762.61,512.24 L1766.79,513 L1770.97,513.74 L1775.16,514.46 L1779.35,515.17 L1783.53,515.86 L1787.71,516.53 L1791.9,517.19" fill="none" stroke="#17BECF" stroke-width="6.0" stroke-linejoin="round" clip-path="url(#cp9)"/>
<path d="M1591.02,484.12 L1595.2,485.85 L1599.39,487.54 L1603.58,489.21 L1607.76,490.84 L1611.94,492.45 L1616.13,494.02 L1620.32,495.56 L1624.5,497.07 L1628.68,498.54 L1632.87,499.99 L1637.05,501.4 L1641.24,502.78 L1645.42,504.13 L1649.61,505.45 L1653.79,506.74 L1657.98,507.99 L1662.16,509.22 L1666.35,510.41 L1670.53,511.57 L1674.72,512.7 L1678.9,513.8 L1683.09,514.86 L1687.27,515.9 L1691.46,516.9 L1695.64,517.87 L1699.83,518.81 L1704.01,519.72 L1708.2,520.59 L1712.38,521.44 L1716.57,522.25 L1720.75,523.03 L1724.94,523.78 L1729.12,524.5 L1733.31,525.19 L1737.49,525.85 L1741.68,526.47 L1745.87,527.06 L1750.05,527.62 L1754.23,528.15 L1758.42,528.65 L1762.61,529.11 L1766.79,529.55 L1770.97,529.95 L1775.16,530.32 L1779.35,530.66 L1783.53,530.97 L1787.71,531.25 L1791.9,531.49" fill="none" stroke="#AEC7E8" stroke-width="6.0" stroke-linejoin="round" clip-path="url(#cp9)"/>
<path d="M1540.8,543.6 L1791.9,543.6" fill="none" stroke="#FFBB78" stroke-width="6.0" stroke-linejoin="round" clip-path="url(#cp9)"/>
<path d="M1591.02,418.18 L1595.2,420.32 L1599.39,422.44 L1603.58,424.54 L1607.76,426.63 L1611.94,428.69 L1616.13,430.74 L1620.32,432.76 L1624.5,434.77 L1628.68,436.76 L1632.87,438.73 L1637.05,440.67 L1641.24,442.6 L1645.42,444.51 L1649.61,446.4 L1653.79,448.28 L1657.98,450.13 L1662.16,451.96 L1666.35,453.78 L1670.53,455.57 L1674.72,457.35 L1678.9,459.1 L1683.09,460.84 L1687.27,462.56 L1691.46,464.25 L1695.64,465.93 L1699.83,467.59 L1704.01,469.23 L1708.2,470.85 L1712.38,472.46 L1716.57,474.04 L1720.75,475.6 L1724.94,477.14 L1729.12,478.67 L1733.31,480.17 L1737.49,481.66 L1741.68,483.13 L1745.87,484.57 L1750.05,486 L1754.23,487.41 L1758.42,488.8 L1762.61,490.17 L1766.79,491.52 L1770.97,492.85 L1775.16,494.17 L1779.35,495.46 L1783.53,496.73 L1787.71,497.99 L1791.9,499.22" fill="none" stroke="#C5B0D5" stroke-width="6.0" stroke-linejoin="round" clip-path="url(#cp9)"/>
<path d="M1591.02,511.36 L1595.2,512.56 L1599.39,513.74 L1603.58,514.9 L1607.76,516.05 L1611.94,517.18 L1616.13,518.29 L1620.32,519.4 L1624.5,520.48 L1628.68,521.55 L1632.87,522.61 L1637.05,523.65 L1641.24,524.67 L1645.42,525.68 L1649.61,526.68 L1653.79,527.65 L1657.98,528.62 L1662.16,529.57 L1666.35,530.5 L1670.53,531.42 L1674.72,532.32 L1678.9,533.2 L1683.09,534.08 L1687.27,534.93 L1691.46,535.77 L1695.64,536.6 L1699.83,537.41 L1704.01,538.2 L1708.2,538.98 L1712.38,539.75 L1716.57,540.49 L1720.75,541.23 L1724.94,541.94 L1729.12,542.65 L1733.31,543.33 L1737.49,544.01 L1741.68,544.66 L1745.87,545.3 L1750.05,545.93 L1754.23,546.54 L1758.42,547.14 L1762.61,547.72 L1766.79,548.28 L1770.97,548.83 L1775.16,549.36 L1779.35,549.88 L1783.53,550.38 L1787.71,550.87 L1791.9,551.35" fill="none" stroke="#C49C94" stroke-width="6.0" stroke-linejoin="round" clip-path="url(#cp9)"/>
<path d="M1591.02,525 L1595.2,526.36 L1599.39,527.69 L1603.58,529 L1607.76,530.29 L1611.94,531.55 L1616.13,532.78 L1620.32,534 L1624.5,535.18 L1628.68,536.35 L1632.87,537.48 L1637.05,538.6 L1641.24,539.69 L1645.42,540.75 L1649.61,541.79 L1653.79,542.81 L1657.98,543.8 L1662.16,544.76 L1666.35,545.71 L1670.53,546.62 L1674.72,547.52 L1678.9,548.38 L1683.09,549.23 L1687.27,550.05 L1691.46,550.84 L1695.64,551.61 L1699.83,552.36 L1704.01,553.08 L1708.2,553.78 L1712.38,554.45 L1716.57,555.09 L1720.75,555.72 L1724.94,556.32 L1729.12,556.89 L1733.31,557.44 L1737.49,557.96 L1741.68,558.46 L1745.87,558.94 L1750.05,559.39 L1754.23,559.82 L1758.42,560.22 L1762.61,560.59 L1766.79,560.95 L1770.97,561.28 L1775.16,561.58 L1779.35,561.86 L1783.53,562.11 L1787.71,562.34 L1791.9,562.55" fill="none" stroke="#F7B6D2" stroke-width="6.0" stroke-linejoin="round" clip-path="url(#cp9)"/>
<path d="M1540.8,573.4 L1791.9,573.4" fill="none" stroke="#C7C7C7" stroke-width="6.0" stroke-linejoin="round" clip-path="url(#cp9)"/>
<line x1="1519.8" x2="1528.8" y1="550.7" y2="550.7" stroke="#222" stroke-width="3.4"/>
<text x="1513.2" y="561.2" text-anchor="end" font-family="'Liberation Sans', Arial, sans-serif" font-size="25.3" fill="#2b2b2b" stroke="#2b2b2b" stroke-width="0.8">500</text>
<line x1="1519.8" x2="1528.8" y1="484.4" y2="484.4" stroke="#222" stroke-width="3.4"/>
<text x="1513.2" y="494.9" text-anchor="end" font-family="'Liberation Sans', Arial, sans-serif" font-size="25.3" fill="#2b2b2b" stroke="#2b2b2b" stroke-width="0.8">600</text>
<line x1="1519.8" x2="1528.8" y1="418.1" y2="418.1" stroke="#222" stroke-width="3.4"/>
<text x="1513.2" y="428.6" text-anchor="end" font-family="'Liberation Sans', Arial, sans-serif" font-size="25.3" fill="#2b2b2b" stroke="#2b2b2b" stroke-width="0.8">700</text>
<rect x="99.6" y="614.2" width="275.5" height="101.6" fill="#D9D9D9"/>
<text x="237.35" y="651.1" text-anchor="middle" font-family="'Liberation Sans', Arial, sans-serif" font-size="26" fill="#111" stroke="#111" stroke-width="1.0">Zero-carbon option</text>
<text x="237.35" y="702.3" text-anchor="middle" font-family="'Liberation Sans', Arial, sans-serif" font-size="26" fill="#111" stroke="#111" stroke-width="1.0">Africa</text>
<clipPath id="cp10"><rect x="99.5" y="718.7" width="274.8" height="186.9"/></clipPath>
<rect x="99.5" y="718.7" width="274.8" height="186.9" fill="#fff"/>
<line x1="99.5" x2="374.3" y1="718.7" y2="718.7" stroke="#000" stroke-width="1.7"/>
<line x1="98" x2="375.8" y1="905.6" y2="905.6" stroke="#000" stroke-width="4.2"/>
<line x1="99.5" x2="99.5" y1="717.9" y2="907.6" stroke="#000" stroke-width="3.7"/>
<line x1="374.3" x2="374.3" y1="717.9" y2="907.6" stroke="#000" stroke-width="3.4"/>
<line x1="99" x2="374.8" y1="879.1" y2="879.1" stroke="#BEBEBE" stroke-width="3.8"/>
<line x1="99" x2="374.8" y1="850.07" y2="850.07" stroke="#BEBEBE" stroke-width="3.8"/>
<line x1="99" x2="374.8" y1="821.05" y2="821.05" stroke="#BEBEBE" stroke-width="3.8"/>
<line x1="99" x2="374.8" y1="792.02" y2="792.02" stroke="#BEBEBE" stroke-width="3.8"/>
<line x1="99" x2="374.8" y1="763" y2="763" stroke="#BEBEBE" stroke-width="3.8"/>
<line x1="99" x2="374.8" y1="733.98" y2="733.98" stroke="#BEBEBE" stroke-width="3.8"/>
<line x1="111.6" x2="111.6" y1="717.7" y2="906.6" stroke="#BEBEBE" stroke-width="3.3"/>
<line x1="153.45" x2="153.45" y1="717.7" y2="906.6" stroke="#BEBEBE" stroke-width="3.3"/>
<line x1="195.3" x2="195.3" y1="717.7" y2="906.6" stroke="#BEBEBE" stroke-width="3.3"/>
<line x1="237.15" x2="237.15" y1="717.7" y2="906.6" stroke="#BEBEBE" stroke-width="3.3"/>
<line x1="279" x2="279" y1="717.7" y2="906.6" stroke="#BEBEBE" stroke-width="3.3"/>
<line x1="320.85" x2="320.85" y1="717.7" y2="906.6" stroke="#BEBEBE" stroke-width="3.3"/>
<line x1="362.7" x2="362.7" y1="717.7" y2="906.6" stroke="#BEBEBE" stroke-width="3.3"/>
<path d="M111.6,896.7 L362.7,896.7" fill="none" stroke="#FF7F0E" stroke-width="6.0" stroke-linejoin="round" clip-path="url(#cp10)"/>
<path d="M186.93,725.42 L191.11,727.17 L195.3,728.9 L199.48,730.62 L203.67,732.31 L207.85,733.99 L212.04,735.66 L216.22,737.3 L220.41,738.94 L224.59,740.55 L228.78,742.15 L232.96,743.73 L237.15,745.29 L241.33,746.84 L245.52,748.37 L249.7,749.88 L253.89,751.38 L258.07,752.86 L262.26,754.33 L266.44,755.78 L270.63,757.21 L274.81,758.62 L279,760.02 L283.18,761.4 L287.37,762.76 L291.55,764.11 L295.74,765.44 L299.92,766.76 L304.11,768.06 L308.29,769.34 L312.48,770.6 L316.66,771.85 L320.85,773.08 L325.03,774.3 L329.22,775.5 L333.4,776.68 L337.59,777.84 L341.77,778.99 L345.96,780.12 L350.14,781.24 L354.33,782.34 L358.51,783.42 L362.7,784.48" fill="none" stroke="#D62728" stroke-width="6.0" stroke-linejoin="round" clip-path="url(#cp10)"/>
<path d="M186.93,799.86 L191.11,800.69 L195.3,801.51 L199.48,802.32 L203.67,803.12 L207.85,803.91 L212.04,804.7 L216.22,805.47 L220.41,806.23 L224.59,806.99 L228.78,807.73 L232.96,808.46 L237.15,809.19 L241.33,809.9 L245.52,810.61 L249.7,811.3 L253.89,811.99 L258.07,812.67 L262.26,813.33 L266.44,813.99 L270.63,814.64 L274.81,815.28 L279,815.91 L283.18,816.52 L287.37,817.13 L291.55,817.73 L295.74,818.32 L299.92,818.91 L304.11,819.48 L308.29,820.04 L312.48,820.59 L316.66,821.13 L320.85,821.67 L325.03,822.19 L329.22,822.7 L333.4,823.21 L337.59,823.7 L341.77,824.19 L345.96,824.66 L350.14,825.13 L354.33,825.58 L358.51,826.03 L362.7,826.47" fill="none" stroke="#9467BD" stroke-width="6.0" stroke-linejoin="round" clip-path="url(#cp10)"/>
<path d="M186.93,839.48 L191.11,840.1 L195.3,840.71 L199.48,841.32 L203.67,841.92 L207.85,842.52 L212.04,843.11 L216.22,843.69 L220.41,844.27 L224.59,844.85 L228.78,845.41 L232.96,845.98 L237.15,846.54 L241.33,847.09 L245.52,847.64 L249.7,848.18 L253.89,848.72 L258.07,849.25 L262.26,849.78 L266.44,850.3 L270.63,850.82 L274.81,851.33 L279,851.83 L283.18,852.33 L287.37,852.83 L291.55,853.32 L295.74,853.8 L299.92,854.28 L304.11,854.76 L308.29,855.22 L312.48,855.69 L316.66,856.15 L320.85,856.6 L325.03,857.05 L329.22,857.49 L333.4,857.92 L337.59,858.36 L341.77,858.78 L345.96,859.2 L350.14,859.62 L354.33,860.03 L358.51,860.44 L362.7,860.84" fill="none" stroke="#8C564B" stroke-width="6.0" stroke-linejoin="round" clip-path="url(#cp10)"/>
<path d="M186.93,856.36 L191.11,857.18 L195.3,857.98 L199.48,858.79 L203.67,859.58 L207.85,860.37 L212.04,861.16 L216.22,861.94 L220.41,862.72 L224.59,863.49 L228.78,864.26 L232.96,865.02 L237.15,865.78 L241.33,866.53 L245.52,867.28 L249.7,868.02 L253.89,868.75 L258.07,869.49 L262.26,870.21 L266.44,870.93 L270.63,871.65 L274.81,872.36 L279,873.07 L283.18,873.77 L287.37,874.47 L291.55,875.16 L295.74,875.85 L299.92,876.53 L304.11,877.2 L308.29,877.87 L312.48,878.54 L316.66,879.2 L320.85,879.86 L325.03,880.51 L329.22,881.16 L333.4,881.8 L337.59,882.43 L341.77,883.06 L345.96,883.69 L350.14,884.31 L354.33,884.93 L358.51,885.54 L362.7,886.15" fill="none" stroke="#E377C2" stroke-width="6.0" stroke-linejoin="round" clip-path="url(#cp10)"/>
<path d="M161.82,838.72 L166,839.7 L170.19,840.67 L174.38,841.62 L178.56,842.57 L182.75,843.51 L186.93,844.44 L191.11,845.36 L195.3,846.26 L199.48,847.16 L203.67,848.05 L207.85,848.93 L212.04,849.8 L216.22,850.65 L220.41,851.5 L224.59,852.34 L228.78,853.16 L232.96,853.98 L237.15,854.79 L241.33,855.59 L245.52,856.37 L249.7,857.15 L253.89,857.92 L258.07,858.67 L262.26,859.42 L266.44,860.16 L270.63,860.88 L274.81,861.6 L279,862.3 L283.18,863 L287.37,863.69 L291.55,864.36 L295.74,865.03 L299.92,865.68 L304.11,866.33 L308.29,866.97 L312.48,867.59 L316.66,868.21 L320.85,868.81 L325.03,869.41 L329.22,869.99 L333.4,870.57 L337.59,871.13 L341.77,871.69 L345.96,872.23 L350.14,872.77 L354.33,873.29 L358.51,873.81 L362.7,874.31" fill="none" stroke="#7F7F7F" stroke-width="6.0" stroke-linejoin="round" clip-path="url(#cp10)"/>
<path d="M203.67,791.34 L207.85,793.76 L212.04,796.12 L216.22,798.42 L220.41,800.67 L224.59,802.85 L228.78,804.98 L232.96,807.05 L237.15,809.06 L241.33,811.02 L245.52,812.91 L249.7,814.75 L253.89,816.53 L258.07,818.24 L262.26,819.91 L266.44,821.51 L270.63,823.05 L274.81,824.54 L279,825.97 L283.18,827.34 L287.37,828.65 L291.55,829.9 L295.74,831.1 L299.92,832.23 L304.11,833.31 L308.29,834.33 L312.48,835.29 L316.66,836.2 L320.85,837.04 L325.03,837.83 L329.22,838.56 L333.4,839.23 L337.59,839.84 L341.77,840.39 L345.96,840.89 L350.14,841.33 L354.33,841.7 L358.51,842.02 L362.7,842.29" fill="none" stroke="#BCBD22" stroke-width="6.0" stroke-linejoin="round" clip-path="url(#cp10)"/>
<path d="M203.67,826.24 L207.85,828.06 L212.04,829.84 L216.22,831.57 L220.41,833.26 L224.59,834.92 L228.78,836.53 L232.96,838.11 L237.15,839.64 L241.33,841.13 L245.52,842.58 L249.7,844 L253.89,845.37 L258.07,846.7 L262.26,847.99 L266.44,849.24 L270.63,850.45 L274.81,851.62 L279,852.75 L283.18,853.84 L287.37,854.89 L291.55,855.89 L295.74,856.86 L299.92,857.79 L304.11,858.68 L308.29,859.52 L312.48,860.33 L316.66,861.09 L320.85,861.82 L325.03,862.5 L329.22,863.15 L333.4,863.75 L337.59,864.32 L341.77,864.84 L345.96,865.32 L350.14,865.76 L354.33,866.17 L358.51,866.53 L362.7,866.85" fill="none" stroke="#98DF8A" stroke-width="6.0" stroke-linejoin="round" clip-path="url(#cp10)"/>
<path d="M111.6,849.72 L115.78,850.46 L119.97,851.19 L124.16,851.91 L128.34,852.63 L132.52,853.34 L136.71,854.05 L140.89,854.75 L145.08,855.44 L149.26,856.13 L153.45,856.81 L157.63,857.49 L161.82,858.16 L166,858.82 L170.19,859.48 L174.38,860.13 L178.56,860.78 L182.75,861.42 L186.93,862.05 L191.11,862.68 L195.3,863.3 L199.48,863.92 L203.67,864.52 L207.85,865.13 L212.04,865.72 L216.22,866.31 L220.41,866.9 L224.59,867.48 L228.78,868.05 L232.96,868.62 L237.15,869.18 L241.33,869.73 L245.52,870.28 L249.7,870.82 L253.89,871.36 L258.07,871.89 L262.26,872.41 L266.44,872.93 L270.63,873.44 L274.81,873.94 L279,874.44 L283.18,874.94 L287.37,875.42 L291.55,875.9 L295.74,876.38 L299.92,876.85 L304.11,877.31 L308.29,877.77 L312.48,878.22 L316.66,878.66 L320.85,879.1 L325.03,879.53 L329.22,879.96 L333.4,880.38 L337.59,880.79 L341.77,881.2 L345.96,881.6 L350.14,882 L354.33,882.39 L358.51,882.77 L362.7,883.15" fill="none" stroke="#FF9896" stroke-width="6.0" stroke-linejoin="round" clip-path="url(#cp10)"/>
<line x1="90.6" x2="99.6" y1="879.1" y2="879.1" stroke="#222" stroke-width="3.4"/>
<text x="84" y="889.6" text-anchor="end" font-family="'Liberation Sans', Arial, sans-serif" font-size="25.3" fill="#2b2b2b" stroke="#2b2b2b" stroke-width="0.8">600</text>
<line x1="90.6" x2="99.6" y1="821.05" y2="821.05" stroke="#222" stroke-width="3.4"/>
<text x="84" y="831.55" text-anchor="end" font-family="'Liberation Sans', Arial, sans-serif" font-size="25.3" fill="#2b2b2b" stroke="#2b2b2b" stroke-width="0.8">700</text>
<line x1="90.6" x2="99.6" y1="763" y2="763" stroke="#222" stroke-width="3.4"/>
<text x="84" y="773.5" text-anchor="end" font-family="'Liberation Sans', Arial, sans-serif" font-size="25.3" fill="#2b2b2b" stroke="#2b2b2b" stroke-width="0.8">800</text>
<rect x="464.1" y="614.2" width="275.5" height="101.6" fill="#D9D9D9"/>
<text x="601.85" y="651.1" text-anchor="middle" font-family="'Liberation Sans', Arial, sans-serif" font-size="26" fill="#111" stroke="#111" stroke-width="1.0">Zero-carbon option</text>
<text x="601.85" y="702.3" text-anchor="middle" font-family="'Liberation Sans', Arial, sans-serif" font-size="26" fill="#111" stroke="#111" stroke-width="1.0">China</text>
<clipPath id="cp11"><rect x="464" y="718.7" width="274.8" height="186.9"/></clipPath>
<rect x="464" y="718.7" width="274.8" height="186.9" fill="#fff"/>
<line x1="464" x2="738.8" y1="718.7" y2="718.7" stroke="#000" stroke-width="1.7"/>
<line x1="462.5" x2="740.3" y1="905.6" y2="905.6" stroke="#000" stroke-width="4.2"/>
<line x1="464" x2="464" y1="717.9" y2="907.6" stroke="#000" stroke-width="3.7"/>
<line x1="738.8" x2="738.8" y1="717.9" y2="907.6" stroke="#000" stroke-width="3.4"/>
<line x1="463.5" x2="739.3" y1="887.48" y2="887.48" stroke="#BEBEBE" stroke-width="3.8"/>
<line x1="463.5" x2="739.3" y1="865.5" y2="865.5" stroke="#BEBEBE" stroke-width="3.8"/>
<line x1="463.5" x2="739.3" y1="843.52" y2="843.52" stroke="#BEBEBE" stroke-width="3.8"/>
<line x1="463.5" x2="739.3" y1="821.53" y2="821.53" stroke="#BEBEBE" stroke-width="3.8"/>
<line x1="463.5" x2="739.3" y1="799.55" y2="799.55" stroke="#BEBEBE" stroke-width="3.8"/>
<line x1="463.5" x2="739.3" y1="777.57" y2="777.57" stroke="#BEBEBE" stroke-width="3.8"/>
<line x1="463.5" x2="739.3" y1="755.58" y2="755.58" stroke="#BEBEBE" stroke-width="3.8"/>
<line x1="463.5" x2="739.3" y1="733.6" y2="733.6" stroke="#BEBEBE" stroke-width="3.8"/>
<line x1="476.1" x2="476.1" y1="717.7" y2="906.6" stroke="#BEBEBE" stroke-width="3.3"/>
<line x1="517.95" x2="517.95" y1="717.7" y2="906.6" stroke="#BEBEBE" stroke-width="3.3"/>
<line x1="559.8" x2="559.8" y1="717.7" y2="906.6" stroke="#BEBEBE" stroke-width="3.3"/>
<line x1="601.65" x2="601.65" y1="717.7" y2="906.6" stroke="#BEBEBE" stroke-width="3.3"/>
<line x1="643.5" x2="643.5" y1="717.7" y2="906.6" stroke="#BEBEBE" stroke-width="3.3"/>
<line x1="685.35" x2="685.35" y1="717.7" y2="906.6" stroke="#BEBEBE" stroke-width="3.3"/>
<line x1="727.2" x2="727.2" y1="717.7" y2="906.6" stroke="#BEBEBE" stroke-width="3.3"/>
<path d="M476.1,895.4 L727.2,895.4" fill="none" stroke="#FF7F0E" stroke-width="6.0" stroke-linejoin="round" clip-path="url(#cp11)"/>
<path d="M551.43,725.32 L555.62,726.45 L559.8,727.59 L563.99,728.71 L568.17,729.83 L572.36,730.94 L576.54,732.05 L580.73,733.15 L584.91,734.24 L589.1,735.32 L593.28,736.4 L597.47,737.48 L601.65,738.54 L605.84,739.6 L610.02,740.66 L614.21,741.7 L618.39,742.74 L622.58,743.78 L626.76,744.8 L630.95,745.82 L635.13,746.84 L639.32,747.85 L643.5,748.85 L647.68,749.84 L651.87,750.83 L656.06,751.81 L660.24,752.79 L664.42,753.76 L668.61,754.72 L672.8,755.67 L676.98,756.62 L681.16,757.57 L685.35,758.5 L689.53,759.43 L693.72,760.35 L697.9,761.27 L702.09,762.18 L706.27,763.08 L710.46,763.98 L714.64,764.87 L718.83,765.76 L723.01,766.63 L727.2,767.5" fill="none" stroke="#D62728" stroke-width="6.0" stroke-linejoin="round" clip-path="url(#cp11)"/>
<path d="M551.43,738.69 L555.62,739.23 L559.8,739.78 L563.99,740.32 L568.17,740.85 L572.36,741.38 L576.54,741.91 L580.73,742.43 L584.91,742.95 L589.1,743.47 L593.28,743.98 L597.47,744.49 L601.65,744.99 L605.84,745.49 L610.02,745.98 L614.21,746.47 L618.39,746.96 L622.58,747.45 L626.76,747.92 L630.95,748.4 L635.13,748.87 L639.32,749.34 L643.5,749.8 L647.68,750.26 L651.87,750.72 L656.06,751.17 L660.24,751.62 L664.42,752.06 L668.61,752.5 L672.8,752.93 L676.98,753.36 L681.16,753.79 L685.35,754.22 L689.53,754.63 L693.72,755.05 L697.9,755.46 L702.09,755.87 L706.27,756.27 L710.46,756.67 L714.64,757.07 L718.83,757.46 L723.01,757.85 L727.2,758.23" fill="none" stroke="#9467BD" stroke-width="6.0" stroke-linejoin="round" clip-path="url(#cp11)"/>
<path d="M551.43,784.25 L555.62,784.73 L559.8,785.21 L563.99,785.68 L568.17,786.14 L572.36,786.6 L576.54,787.06 L580.73,787.51 L584.91,787.95 L589.1,788.39 L593.28,788.82 L597.47,789.25 L601.65,789.68 L605.84,790.09 L610.02,790.51 L614.21,790.92 L618.39,791.32 L622.58,791.72 L626.76,792.11 L630.95,792.5 L635.13,792.88 L639.32,793.26 L643.5,793.63 L647.68,793.99 L651.87,794.36 L656.06,794.71 L660.24,795.06 L664.42,795.41 L668.61,795.75 L672.8,796.09 L676.98,796.42 L681.16,796.74 L685.35,797.06 L689.53,797.38 L693.72,797.69 L697.9,797.99 L702.09,798.29 L706.27,798.58 L710.46,798.87 L714.64,799.16 L718.83,799.44 L723.01,799.71 L727.2,799.98" fill="none" stroke="#8C564B" stroke-width="6.0" stroke-linejoin="round" clip-path="url(#cp11)"/>
<path d="M551.43,868.11 L555.62,868.66 L559.8,869.2 L563.99,869.74 L568.17,870.28 L572.36,870.81 L576.54,871.34 L580.73,871.87 L584.91,872.39 L589.1,872.91 L593.28,873.43 L597.47,873.94 L601.65,874.45 L605.84,874.96 L610.02,875.46 L614.21,875.96 L618.39,876.46 L622.58,876.95 L626.76,877.44 L630.95,877.93 L635.13,878.41 L639.32,878.89 L643.5,879.37 L647.68,879.84 L651.87,880.31 L656.06,880.78 L660.24,881.24 L664.42,881.71 L668.61,882.16 L672.8,882.62 L676.98,883.07 L681.16,883.51 L685.35,883.96 L689.53,884.4 L693.72,884.83 L697.9,885.27 L702.09,885.7 L706.27,886.12 L710.46,886.55 L714.64,886.97 L718.83,887.39 L723.01,887.8 L727.2,888.21" fill="none" stroke="#E377C2" stroke-width="6.0" stroke-linejoin="round" clip-path="url(#cp11)"/>
<path d="M526.32,807.59 L530.5,808.29 L534.69,808.99 L538.88,809.68 L543.06,810.36 L547.25,811.03 L551.43,811.69 L555.62,812.34 L559.8,812.99 L563.99,813.62 L568.17,814.25 L572.36,814.87 L576.54,815.48 L580.73,816.08 L584.91,816.68 L589.1,817.26 L593.28,817.84 L597.47,818.41 L601.65,818.97 L605.84,819.52 L610.02,820.06 L614.21,820.6 L618.39,821.12 L622.58,821.64 L626.76,822.15 L630.95,822.65 L635.13,823.14 L639.32,823.62 L643.5,824.09 L647.68,824.56 L651.87,825.02 L656.06,825.47 L660.24,825.91 L664.42,826.34 L668.61,826.76 L672.8,827.18 L676.98,827.58 L681.16,827.98 L685.35,828.37 L689.53,828.75 L693.72,829.12 L697.9,829.49 L702.09,829.84 L706.27,830.19 L710.46,830.52 L714.64,830.85 L718.83,831.18 L723.01,831.49 L727.2,831.79" fill="none" stroke="#7F7F7F" stroke-width="6.0" stroke-linejoin="round" clip-path="url(#cp11)"/>
<path d="M568.17,789.1 L572.36,791.02 L576.54,792.89 L580.73,794.7 L584.91,796.46 L589.1,798.16 L593.28,799.82 L597.47,801.41 L601.65,802.96 L605.84,804.45 L610.02,805.88 L614.21,807.26 L618.39,808.59 L622.58,809.86 L626.76,811.08 L630.95,812.25 L635.13,813.36 L639.32,814.42 L643.5,815.42 L647.68,816.37 L651.87,817.26 L656.06,818.11 L660.24,818.89 L664.42,819.63 L668.61,820.31 L672.8,820.93 L676.98,821.5 L681.16,822.02 L685.35,822.48 L689.53,822.89 L693.72,823.25 L697.9,823.55 L702.09,823.8 L706.27,823.99 L710.46,824.13 L714.64,824.21 L718.83,824.24 L723.01,824.22 L727.2,824.14" fill="none" stroke="#BCBD22" stroke-width="6.0" stroke-linejoin="round" clip-path="url(#cp11)"/>
<path d="M568.17,868.78 L572.36,870.02 L576.54,871.22 L580.73,872.4 L584.91,873.55 L589.1,874.68 L593.28,875.77 L597.47,876.84 L601.65,877.88 L605.84,878.89 L610.02,879.88 L614.21,880.83 L618.39,881.76 L622.58,882.67 L626.76,883.54 L630.95,884.39 L635.13,885.21 L639.32,886 L643.5,886.76 L647.68,887.5 L651.87,888.2 L656.06,888.88 L660.24,889.54 L664.42,890.16 L668.61,890.76 L672.8,891.33 L676.98,891.87 L681.16,892.38 L685.35,892.87 L689.53,893.33 L693.72,893.76 L697.9,894.16 L702.09,894.54 L706.27,894.89 L710.46,895.21 L714.64,895.5 L718.83,895.76 L723.01,896 L727.2,896.21" fill="none" stroke="#98DF8A" stroke-width="6.0" stroke-linejoin="round" clip-path="url(#cp11)"/>
<path d="M476.1,848.71 L480.29,849.23 L484.47,849.75 L488.66,850.26 L492.84,850.77 L497.03,851.28 L501.21,851.78 L505.4,852.28 L509.58,852.77 L513.76,853.26 L517.95,853.74 L522.13,854.22 L526.32,854.7 L530.5,855.17 L534.69,855.64 L538.88,856.11 L543.06,856.57 L547.25,857.02 L551.43,857.47 L555.62,857.92 L559.8,858.36 L563.99,858.8 L568.17,859.24 L572.36,859.67 L576.54,860.1 L580.73,860.52 L584.91,860.94 L589.1,861.35 L593.28,861.76 L597.47,862.17 L601.65,862.57 L605.84,862.97 L610.02,863.36 L614.21,863.75 L618.39,864.14 L622.58,864.52 L626.76,864.9 L630.95,865.27 L635.13,865.64 L639.32,866 L643.5,866.36 L647.68,866.72 L651.87,867.07 L656.06,867.42 L660.24,867.77 L664.42,868.11 L668.61,868.44 L672.8,868.77 L676.98,869.1 L681.16,869.42 L685.35,869.74 L689.53,870.06 L693.72,870.37 L697.9,870.68 L702.09,870.98 L706.27,871.28 L710.46,871.57 L714.64,871.86 L718.83,872.15 L723.01,872.43 L727.2,872.71" fill="none" stroke="#FF9896" stroke-width="6.0" stroke-linejoin="round" clip-path="url(#cp11)"/>
<line x1="455.1" x2="464.1" y1="865.5" y2="865.5" stroke="#222" stroke-width="3.4"/>
<text x="448.5" y="876" text-anchor="end" font-family="'Liberation Sans', Arial, sans-serif" font-size="25.3" fill="#2b2b2b" stroke="#2b2b2b" stroke-width="0.8">700</text>
<line x1="455.1" x2="464.1" y1="821.53" y2="821.53" stroke="#222" stroke-width="3.4"/>
<text x="448.5" y="832.03" text-anchor="end" font-family="'Liberation Sans', Arial, sans-serif" font-size="25.3" fill="#2b2b2b" stroke="#2b2b2b" stroke-width="0.8">800</text>
<line x1="455.1" x2="464.1" y1="777.57" y2="777.57" stroke="#222" stroke-width="3.4"/>
<text x="448.5" y="788.07" text-anchor="end" font-family="'Liberation Sans', Arial, sans-serif" font-size="25.3" fill="#2b2b2b" stroke="#2b2b2b" stroke-width="0.8">900</text>
<line x1="455.1" x2="464.1" y1="733.6" y2="733.6" stroke="#222" stroke-width="3.4"/>
<text x="448.5" y="744.1" text-anchor="end" font-family="'Liberation Sans', Arial, sans-serif" font-size="25.3" fill="#2b2b2b" stroke="#2b2b2b" stroke-width="0.8">1000</text>
<rect x="828.7" y="614.2" width="275.5" height="101.6" fill="#D9D9D9"/>
<text x="966.45" y="651.1" text-anchor="middle" font-family="'Liberation Sans', Arial, sans-serif" font-size="26" fill="#111" stroke="#111" stroke-width="1.0">Zero-carbon option</text>
<text x="966.45" y="702.3" text-anchor="middle" font-family="'Liberation Sans', Arial, sans-serif" font-size="26" fill="#111" stroke="#111" stroke-width="1.0">EU27 and UK</text>
<clipPath id="cp12"><rect x="828.6" y="718.7" width="274.8" height="186.9"/></clipPath>
<rect x="828.6" y="718.7" width="274.8" height="186.9" fill="#fff"/>
<line x1="828.6" x2="1103.4" y1="718.7" y2="718.7" stroke="#000" stroke-width="1.7"/>
<line x1="827.1" x2="1104.9" y1="905.6" y2="905.6" stroke="#000" stroke-width="4.2"/>
<line x1="828.6" x2="828.6" y1="717.9" y2="907.6" stroke="#000" stroke-width="3.7"/>
<line x1="1103.4" x2="1103.4" y1="717.9" y2="907.6" stroke="#000" stroke-width="3.4"/>
<line x1="828.1" x2="1103.9" y1="893.7" y2="893.7" stroke="#BEBEBE" stroke-width="3.8"/>
<line x1="828.1" x2="1103.9" y1="877.39" y2="877.39" stroke="#BEBEBE" stroke-width="3.8"/>
<line x1="828.1" x2="1103.9" y1="861.08" y2="861.08" stroke="#BEBEBE" stroke-width="3.8"/>
<line x1="828.1" x2="1103.9" y1="844.77" y2="844.77" stroke="#BEBEBE" stroke-width="3.8"/>
<line x1="828.1" x2="1103.9" y1="828.46" y2="828.46" stroke="#BEBEBE" stroke-width="3.8"/>
<line x1="828.1" x2="1103.9" y1="812.15" y2="812.15" stroke="#BEBEBE" stroke-width="3.8"/>
<line x1="828.1" x2="1103.9" y1="795.84" y2="795.84" stroke="#BEBEBE" stroke-width="3.8"/>
<line x1="828.1" x2="1103.9" y1="779.53" y2="779.53" stroke="#BEBEBE" stroke-width="3.8"/>
<line x1="828.1" x2="1103.9" y1="763.22" y2="763.22" stroke="#BEBEBE" stroke-width="3.8"/>
<line x1="828.1" x2="1103.9" y1="746.91" y2="746.91" stroke="#BEBEBE" stroke-width="3.8"/>
<line x1="828.1" x2="1103.9" y1="730.6" y2="730.6" stroke="#BEBEBE" stroke-width="3.8"/>
<line x1="840.7" x2="840.7" y1="717.7" y2="906.6" stroke="#BEBEBE" stroke-width="3.3"/>
<line x1="882.55" x2="882.55" y1="717.7" y2="906.6" stroke="#BEBEBE" stroke-width="3.3"/>
<line x1="924.4" x2="924.4" y1="717.7" y2="906.6" stroke="#BEBEBE" stroke-width="3.3"/>
<line x1="966.25" x2="966.25" y1="717.7" y2="906.6" stroke="#BEBEBE" stroke-width="3.3"/>
<line x1="1008.1" x2="1008.1" y1="717.7" y2="906.6" stroke="#BEBEBE" stroke-width="3.3"/>
<line x1="1049.95" x2="1049.95" y1="717.7" y2="906.6" stroke="#BEBEBE" stroke-width="3.3"/>
<line x1="1091.8" x2="1091.8" y1="717.7" y2="906.6" stroke="#BEBEBE" stroke-width="3.3"/>
<path d="M840.7,896.4 L1091.8,896.4" fill="none" stroke="#FF7F0E" stroke-width="6.0" stroke-linejoin="round" clip-path="url(#cp12)"/>
<path d="M916.03,725.99 L920.22,727.19 L924.4,728.37 L928.59,729.55 L932.77,730.71 L936.96,731.85 L941.14,732.99 L945.33,734.11 L949.51,735.22 L953.7,736.32 L957.88,737.41 L962.07,738.48 L966.25,739.55 L970.44,740.6 L974.62,741.64 L978.81,742.66 L982.99,743.68 L987.18,744.68 L991.36,745.67 L995.55,746.65 L999.73,747.61 L1003.91,748.57 L1008.1,749.51 L1012.29,750.44 L1016.47,751.36 L1020.65,752.26 L1024.84,753.16 L1029.03,754.04 L1033.21,754.91 L1037.39,755.77 L1041.58,756.61 L1045.77,757.44 L1049.95,758.26 L1054.13,759.07 L1058.32,759.87 L1062.51,760.65 L1066.69,761.43 L1070.88,762.19 L1075.06,762.94 L1079.25,763.67 L1083.43,764.4 L1087.62,765.11 L1091.8,765.81" fill="none" stroke="#D62728" stroke-width="6.0" stroke-linejoin="round" clip-path="url(#cp12)"/>
<path d="M916.03,776.7 L920.22,777.34 L924.4,777.98 L928.59,778.61 L932.77,779.23 L936.96,779.84 L941.14,780.44 L945.33,781.03 L949.51,781.61 L953.7,782.19 L957.88,782.75 L962.07,783.3 L966.25,783.85 L970.44,784.38 L974.62,784.9 L978.81,785.42 L982.99,785.93 L987.18,786.42 L991.36,786.91 L995.55,787.39 L999.73,787.86 L1003.91,788.31 L1008.1,788.76 L1012.29,789.2 L1016.47,789.64 L1020.65,790.06 L1024.84,790.47 L1029.03,790.87 L1033.21,791.26 L1037.39,791.65 L1041.58,792.02 L1045.77,792.38 L1049.95,792.74 L1054.13,793.09 L1058.32,793.42 L1062.51,793.75 L1066.69,794.07 L1070.88,794.37 L1075.06,794.67 L1079.25,794.96 L1083.43,795.24 L1087.62,795.51 L1091.8,795.77" fill="none" stroke="#9467BD" stroke-width="6.0" stroke-linejoin="round" clip-path="url(#cp12)"/>
<path d="M916.03,814.54 L920.22,814.9 L924.4,815.26 L928.59,815.62 L932.77,815.97 L936.96,816.31 L941.14,816.65 L945.33,816.99 L949.51,817.32 L953.7,817.65 L957.88,817.97 L962.07,818.29 L966.25,818.61 L970.44,818.92 L974.62,819.23 L978.81,819.53 L982.99,819.83 L987.18,820.12 L991.36,820.41 L995.55,820.69 L999.73,820.97 L1003.91,821.25 L1008.1,821.52 L1012.29,821.79 L1016.47,822.05 L1020.65,822.31 L1024.84,822.57 L1029.03,822.82 L1033.21,823.06 L1037.39,823.31 L1041.58,823.54 L1045.77,823.78 L1049.95,824.01 L1054.13,824.23 L1058.32,824.45 L1062.51,824.67 L1066.69,824.88 L1070.88,825.09 L1075.06,825.29 L1079.25,825.49 L1083.43,825.68 L1087.62,825.87 L1091.8,826.06" fill="none" stroke="#8C564B" stroke-width="6.0" stroke-linejoin="round" clip-path="url(#cp12)"/>
<path d="M916.03,828.87 L920.22,829.49 L924.4,830.09 L928.59,830.7 L932.77,831.29 L936.96,831.87 L941.14,832.45 L945.33,833.03 L949.51,833.59 L953.7,834.15 L957.88,834.7 L962.07,835.25 L966.25,835.78 L970.44,836.31 L974.62,836.84 L978.81,837.35 L982.99,837.86 L987.18,838.36 L991.36,838.86 L995.55,839.35 L999.73,839.83 L1003.91,840.3 L1008.1,840.77 L1012.29,841.23 L1016.47,841.68 L1020.65,842.13 L1024.84,842.57 L1029.03,843 L1033.21,843.42 L1037.39,843.84 L1041.58,844.25 L1045.77,844.65 L1049.95,845.05 L1054.13,845.44 L1058.32,845.82 L1062.51,846.2 L1066.69,846.57 L1070.88,846.93 L1075.06,847.28 L1079.25,847.63 L1083.43,847.97 L1087.62,848.3 L1091.8,848.63" fill="none" stroke="#E377C2" stroke-width="6.0" stroke-linejoin="round" clip-path="url(#cp12)"/>
<path d="M890.92,804.74 L895.11,805.4 L899.29,806.05 L903.48,806.69 L907.66,807.33 L911.85,807.96 L916.03,808.59 L920.22,809.2 L924.4,809.82 L928.59,810.42 L932.77,811.02 L936.96,811.61 L941.14,812.2 L945.33,812.78 L949.51,813.35 L953.7,813.92 L957.88,814.48 L962.07,815.04 L966.25,815.58 L970.44,816.13 L974.62,816.66 L978.81,817.19 L982.99,817.71 L987.18,818.23 L991.36,818.74 L995.55,819.24 L999.73,819.74 L1003.91,820.23 L1008.1,820.71 L1012.29,821.19 L1016.47,821.66 L1020.65,822.13 L1024.84,822.58 L1029.03,823.04 L1033.21,823.48 L1037.39,823.92 L1041.58,824.35 L1045.77,824.78 L1049.95,825.2 L1054.13,825.61 L1058.32,826.02 L1062.51,826.42 L1066.69,826.81 L1070.88,827.2 L1075.06,827.58 L1079.25,827.96 L1083.43,828.33 L1087.62,828.69 L1091.8,829.05" fill="none" stroke="#7F7F7F" stroke-width="6.0" stroke-linejoin="round" clip-path="url(#cp12)"/>
<path d="M932.77,828.54 L936.96,829.51 L941.14,830.46 L945.33,831.38 L949.51,832.27 L953.7,833.14 L957.88,833.98 L962.07,834.8 L966.25,835.6 L970.44,836.36 L974.62,837.11 L978.81,837.82 L982.99,838.51 L987.18,839.18 L991.36,839.82 L995.55,840.44 L999.73,841.03 L1003.91,841.59 L1008.1,842.13 L1012.29,842.65 L1016.47,843.14 L1020.65,843.6 L1024.84,844.04 L1029.03,844.45 L1033.21,844.84 L1037.39,845.2 L1041.58,845.54 L1045.77,845.85 L1049.95,846.13 L1054.13,846.39 L1058.32,846.63 L1062.51,846.84 L1066.69,847.02 L1070.88,847.18 L1075.06,847.32 L1079.25,847.42 L1083.43,847.51 L1087.62,847.57 L1091.8,847.6" fill="none" stroke="#BCBD22" stroke-width="6.0" stroke-linejoin="round" clip-path="url(#cp12)"/>
<path d="M932.77,836.69 L936.96,837.57 L941.14,838.42 L945.33,839.26 L949.51,840.07 L953.7,840.86 L957.88,841.63 L962.07,842.38 L966.25,843.11 L970.44,843.82 L974.62,844.51 L978.81,845.18 L982.99,845.82 L987.18,846.45 L991.36,847.05 L995.55,847.63 L999.73,848.2 L1003.91,848.74 L1008.1,849.26 L1012.29,849.76 L1016.47,850.24 L1020.65,850.7 L1024.84,851.14 L1029.03,851.55 L1033.21,851.95 L1037.39,852.32 L1041.58,852.68 L1045.77,853.01 L1049.95,853.33 L1054.13,853.62 L1058.32,853.89 L1062.51,854.14 L1066.69,854.37 L1070.88,854.58 L1075.06,854.76 L1079.25,854.93 L1083.43,855.08 L1087.62,855.2 L1091.8,855.31" fill="none" stroke="#98DF8A" stroke-width="6.0" stroke-linejoin="round" clip-path="url(#cp12)"/>
<path d="M840.7,830.14 L844.88,830.69 L849.07,831.23 L853.25,831.77 L857.44,832.31 L861.62,832.84 L865.81,833.37 L870,833.89 L874.18,834.4 L878.37,834.92 L882.55,835.42 L886.74,835.92 L890.92,836.42 L895.11,836.91 L899.29,837.4 L903.48,837.88 L907.66,838.36 L911.85,838.83 L916.03,839.3 L920.22,839.76 L924.4,840.21 L928.59,840.67 L932.77,841.11 L936.96,841.56 L941.14,841.99 L945.33,842.43 L949.51,842.85 L953.7,843.28 L957.88,843.69 L962.07,844.11 L966.25,844.51 L970.44,844.92 L974.62,845.32 L978.81,845.71 L982.99,846.1 L987.18,846.48 L991.36,846.86 L995.55,847.23 L999.73,847.6 L1003.91,847.96 L1008.1,848.32 L1012.29,848.68 L1016.47,849.02 L1020.65,849.37 L1024.84,849.71 L1029.03,850.04 L1033.21,850.37 L1037.39,850.69 L1041.58,851.01 L1045.77,851.33 L1049.95,851.64 L1054.13,851.94 L1058.32,852.24 L1062.51,852.53 L1066.69,852.82 L1070.88,853.11 L1075.06,853.39 L1079.25,853.66 L1083.43,853.93 L1087.62,854.2 L1091.8,854.46" fill="none" stroke="#FF9896" stroke-width="6.0" stroke-linejoin="round" clip-path="url(#cp12)"/>
<line x1="819.7" x2="828.7" y1="893.7" y2="893.7" stroke="#222" stroke-width="3.4"/>
<text x="813.1" y="904.2" text-anchor="end" font-family="'Liberation Sans', Arial, sans-serif" font-size="25.3" fill="#2b2b2b" stroke="#2b2b2b" stroke-width="0.8">600</text>
<line x1="819.7" x2="828.7" y1="861.08" y2="861.08" stroke="#222" stroke-width="3.4"/>
<text x="813.1" y="871.58" text-anchor="end" font-family="'Liberation Sans', Arial, sans-serif" font-size="25.3" fill="#2b2b2b" stroke="#2b2b2b" stroke-width="0.8">700</text>
<line x1="819.7" x2="828.7" y1="828.46" y2="828.46" stroke="#222" stroke-width="3.4"/>
<text x="813.1" y="838.96" text-anchor="end" font-family="'Liberation Sans', Arial, sans-serif" font-size="25.3" fill="#2b2b2b" stroke="#2b2b2b" stroke-width="0.8">800</text>
<line x1="819.7" x2="828.7" y1="795.84" y2="795.84" stroke="#222" stroke-width="3.4"/>
<text x="813.1" y="806.34" text-anchor="end" font-family="'Liberation Sans', Arial, sans-serif" font-size="25.3" fill="#2b2b2b" stroke="#2b2b2b" stroke-width="0.8">900</text>
<line x1="819.7" x2="828.7" y1="763.22" y2="763.22" stroke="#222" stroke-width="3.4"/>
<text x="813.1" y="773.72" text-anchor="end" font-family="'Liberation Sans', Arial, sans-serif" font-size="25.3" fill="#2b2b2b" stroke="#2b2b2b" stroke-width="0.8">1000</text>
<line x1="819.7" x2="828.7" y1="730.6" y2="730.6" stroke="#222" stroke-width="3.4"/>
<text x="813.1" y="741.1" text-anchor="end" font-family="'Liberation Sans', Arial, sans-serif" font-size="25.3" fill="#2b2b2b" stroke="#2b2b2b" stroke-width="0.8">1100</text>
<rect x="1179.1" y="614.2" width="275.5" height="101.6" fill="#D9D9D9"/>
<text x="1316.85" y="651.1" text-anchor="middle" font-family="'Liberation Sans', Arial, sans-serif" font-size="26" fill="#111" stroke="#111" stroke-width="1.0">Zero-carbon option</text>
<text x="1316.85" y="702.3" text-anchor="middle" font-family="'Liberation Sans', Arial, sans-serif" font-size="26" fill="#111" stroke="#111" stroke-width="1.0">India</text>
<clipPath id="cp13"><rect x="1179" y="718.7" width="274.8" height="186.9"/></clipPath>
<rect x="1179" y="718.7" width="274.8" height="186.9" fill="#fff"/>
<line x1="1179" x2="1453.8" y1="718.7" y2="718.7" stroke="#000" stroke-width="1.7"/>
<line x1="1177.5" x2="1455.3" y1="905.6" y2="905.6" stroke="#000" stroke-width="4.2"/>
<line x1="1179" x2="1179" y1="717.9" y2="907.6" stroke="#000" stroke-width="3.7"/>
<line x1="1453.8" x2="1453.8" y1="717.9" y2="907.6" stroke="#000" stroke-width="3.4"/>
<line x1="1178.5" x2="1454.3" y1="886.7" y2="886.7" stroke="#BEBEBE" stroke-width="3.8"/>
<line x1="1178.5" x2="1454.3" y1="861.5" y2="861.5" stroke="#BEBEBE" stroke-width="3.8"/>
<line x1="1178.5" x2="1454.3" y1="836.3" y2="836.3" stroke="#BEBEBE" stroke-width="3.8"/>
<line x1="1178.5" x2="1454.3" y1="811.1" y2="811.1" stroke="#BEBEBE" stroke-width="3.8"/>
<line x1="1178.5" x2="1454.3" y1="785.9" y2="785.9" stroke="#BEBEBE" stroke-width="3.8"/>
<line x1="1178.5" x2="1454.3" y1="760.7" y2="760.7" stroke="#BEBEBE" stroke-width="3.8"/>
<line x1="1178.5" x2="1454.3" y1="735.5" y2="735.5" stroke="#BEBEBE" stroke-width="3.8"/>
<line x1="1191.1" x2="1191.1" y1="717.7" y2="906.6" stroke="#BEBEBE" stroke-width="3.3"/>
<line x1="1232.95" x2="1232.95" y1="717.7" y2="906.6" stroke="#BEBEBE" stroke-width="3.3"/>
<line x1="1274.8" x2="1274.8" y1="717.7" y2="906.6" stroke="#BEBEBE" stroke-width="3.3"/>
<line x1="1316.65" x2="1316.65" y1="717.7" y2="906.6" stroke="#BEBEBE" stroke-width="3.3"/>
<line x1="1358.5" x2="1358.5" y1="717.7" y2="906.6" stroke="#BEBEBE" stroke-width="3.3"/>
<line x1="1400.35" x2="1400.35" y1="717.7" y2="906.6" stroke="#BEBEBE" stroke-width="3.3"/>
<line x1="1442.2" x2="1442.2" y1="717.7" y2="906.6" stroke="#BEBEBE" stroke-width="3.3"/>
<path d="M1191.1,846.4 L1442.2,846.4" fill="none" stroke="#FF7F0E" stroke-width="6.0" stroke-linejoin="round" clip-path="url(#cp13)"/>
<path d="M1266.43,726.71 L1270.61,728.17 L1274.8,729.61 L1278.98,731.04 L1283.17,732.46 L1287.36,733.87 L1291.54,735.27 L1295.72,736.65 L1299.91,738.02 L1304.09,739.37 L1308.28,740.72 L1312.46,742.05 L1316.65,743.37 L1320.83,744.67 L1325.02,745.97 L1329.2,747.25 L1333.39,748.51 L1337.57,749.77 L1341.76,751.01 L1345.94,752.24 L1350.13,753.46 L1354.31,754.67 L1358.5,755.86 L1362.68,757.04 L1366.87,758.21 L1371.05,759.36 L1375.24,760.5 L1379.42,761.63 L1383.61,762.75 L1387.79,763.85 L1391.98,764.95 L1396.16,766.02 L1400.35,767.09 L1404.53,768.14 L1408.72,769.19 L1412.9,770.21 L1417.09,771.23 L1421.27,772.23 L1425.46,773.22 L1429.64,774.2 L1433.83,775.17 L1438.01,776.12 L1442.2,777.06" fill="none" stroke="#D62728" stroke-width="6.0" stroke-linejoin="round" clip-path="url(#cp13)"/>
<path d="M1266.43,795.14 L1270.61,796.21 L1274.8,797.27 L1278.98,798.31 L1283.17,799.34 L1287.36,800.36 L1291.54,801.37 L1295.72,802.36 L1299.91,803.34 L1304.09,804.31 L1308.28,805.26 L1312.46,806.21 L1316.65,807.14 L1320.83,808.06 L1325.02,808.96 L1329.2,809.86 L1333.39,810.74 L1337.57,811.6 L1341.76,812.46 L1345.94,813.3 L1350.13,814.14 L1354.31,814.95 L1358.5,815.76 L1362.68,816.55 L1366.87,817.33 L1371.05,818.1 L1375.24,818.86 L1379.42,819.6 L1383.61,820.33 L1387.79,821.05 L1391.98,821.76 L1396.16,822.45 L1400.35,823.13 L1404.53,823.8 L1408.72,824.46 L1412.9,825.1 L1417.09,825.73 L1421.27,826.35 L1425.46,826.96 L1429.64,827.55 L1433.83,828.13 L1438.01,828.7 L1442.2,829.26" fill="none" stroke="#9467BD" stroke-width="6.0" stroke-linejoin="round" clip-path="url(#cp13)"/>
<path d="M1266.43,849.83 L1270.61,850.61 L1274.8,851.37 L1278.98,852.13 L1283.17,852.87 L1287.36,853.6 L1291.54,854.33 L1295.72,855.03 L1299.91,855.73 L1304.09,856.42 L1308.28,857.09 L1312.46,857.75 L1316.65,858.4 L1320.83,859.04 L1325.02,859.67 L1329.2,860.29 L1333.39,860.89 L1337.57,861.49 L1341.76,862.07 L1345.94,862.64 L1350.13,863.19 L1354.31,863.74 L1358.5,864.28 L1362.68,864.8 L1366.87,865.31 L1371.05,865.81 L1375.24,866.3 L1379.42,866.78 L1383.61,867.24 L1387.79,867.69 L1391.98,868.14 L1396.16,868.57 L1400.35,868.99 L1404.53,869.39 L1408.72,869.79 L1412.9,870.17 L1417.09,870.54 L1421.27,870.9 L1425.46,871.25 L1429.64,871.59 L1433.83,871.92 L1438.01,872.23 L1442.2,872.53" fill="none" stroke="#8C564B" stroke-width="6.0" stroke-linejoin="round" clip-path="url(#cp13)"/>
<path d="M1266.43,860.45 L1270.61,861.47 L1274.8,862.49 L1278.98,863.5 L1283.17,864.5 L1287.36,865.5 L1291.54,866.48 L1295.72,867.47 L1299.91,868.44 L1304.09,869.41 L1308.28,870.37 L1312.46,871.32 L1316.65,872.27 L1320.83,873.21 L1325.02,874.14 L1329.2,875.07 L1333.39,875.99 L1337.57,876.91 L1341.76,877.81 L1345.94,878.71 L1350.13,879.6 L1354.31,880.49 L1358.5,881.37 L1362.68,882.24 L1366.87,883.11 L1371.05,883.97 L1375.24,884.82 L1379.42,885.66 L1383.61,886.5 L1387.79,887.34 L1391.98,888.16 L1396.16,888.98 L1400.35,889.79 L1404.53,890.59 L1408.72,891.39 L1412.9,892.18 L1417.09,892.97 L1421.27,893.74 L1425.46,894.51 L1429.64,895.28 L1433.83,896.03 L1438.01,896.78 L1442.2,897.53" fill="none" stroke="#E377C2" stroke-width="6.0" stroke-linejoin="round" clip-path="url(#cp13)"/>
<path d="M1241.32,810.2 L1245.5,811.43 L1249.69,812.64 L1253.88,813.84 L1258.06,815.02 L1262.24,816.19 L1266.43,817.35 L1270.61,818.5 L1274.8,819.64 L1278.98,820.76 L1283.17,821.87 L1287.36,822.96 L1291.54,824.04 L1295.72,825.11 L1299.91,826.17 L1304.09,827.22 L1308.28,828.25 L1312.46,829.27 L1316.65,830.27 L1320.83,831.27 L1325.02,832.25 L1329.2,833.22 L1333.39,834.17 L1337.57,835.12 L1341.76,836.04 L1345.94,836.96 L1350.13,837.87 L1354.31,838.76 L1358.5,839.64 L1362.68,840.5 L1366.87,841.36 L1371.05,842.2 L1375.24,843.02 L1379.42,843.84 L1383.61,844.64 L1387.79,845.43 L1391.98,846.21 L1396.16,846.97 L1400.35,847.72 L1404.53,848.46 L1408.72,849.18 L1412.9,849.9 L1417.09,850.6 L1421.27,851.28 L1425.46,851.96 L1429.64,852.62 L1433.83,853.27 L1438.01,853.9 L1442.2,854.53" fill="none" stroke="#7F7F7F" stroke-width="6.0" stroke-linejoin="round" clip-path="url(#cp13)"/>
<path d="M1283.17,852.61 L1287.36,854.5 L1291.54,856.35 L1295.72,858.15 L1299.91,859.9 L1304.09,861.62 L1308.28,863.29 L1312.46,864.91 L1316.65,866.5 L1320.83,868.04 L1325.02,869.53 L1329.2,870.98 L1333.39,872.39 L1337.57,873.75 L1341.76,875.07 L1345.94,876.35 L1350.13,877.58 L1354.31,878.77 L1358.5,879.91 L1362.68,881.02 L1366.87,882.07 L1371.05,883.09 L1375.24,884.06 L1379.42,884.98 L1383.61,885.86 L1387.79,886.7 L1391.98,887.5 L1396.16,888.25 L1400.35,888.96 L1404.53,889.62 L1408.72,890.24 L1412.9,890.81 L1417.09,891.35 L1421.27,891.84 L1425.46,892.28 L1429.64,892.68 L1433.83,893.04 L1438.01,893.35 L1442.2,893.62" fill="none" stroke="#BCBD22" stroke-width="6.0" stroke-linejoin="round" clip-path="url(#cp13)"/>
<path d="M1283.17,784.85 L1287.36,786.21 L1291.54,787.55 L1295.72,788.86 L1299.91,790.14 L1304.09,791.4 L1308.28,792.62 L1312.46,793.82 L1316.65,794.98 L1320.83,796.12 L1325.02,797.24 L1329.2,798.32 L1333.39,799.37 L1337.57,800.4 L1341.76,801.39 L1345.94,802.36 L1350.13,803.3 L1354.31,804.22 L1358.5,805.1 L1362.68,805.95 L1366.87,806.78 L1371.05,807.58 L1375.24,808.35 L1379.42,809.09 L1383.61,809.8 L1387.79,810.49 L1391.98,811.14 L1396.16,811.77 L1400.35,812.37 L1404.53,812.94 L1408.72,813.48 L1412.9,814 L1417.09,814.48 L1421.27,814.94 L1425.46,815.37 L1429.64,815.77 L1433.83,816.14 L1438.01,816.48 L1442.2,816.8" fill="none" stroke="#98DF8A" stroke-width="6.0" stroke-linejoin="round" clip-path="url(#cp13)"/>
<path d="M1191.1,772.05 L1195.28,773 L1199.47,773.94 L1203.65,774.88 L1207.84,775.81 L1212.02,776.73 L1216.21,777.64 L1220.39,778.54 L1224.58,779.44 L1228.76,780.32 L1232.95,781.2 L1237.13,782.07 L1241.32,782.93 L1245.5,783.78 L1249.69,784.63 L1253.88,785.46 L1258.06,786.29 L1262.24,787.11 L1266.43,787.92 L1270.61,788.73 L1274.8,789.52 L1278.98,790.31 L1283.17,791.09 L1287.36,791.86 L1291.54,792.62 L1295.72,793.37 L1299.91,794.11 L1304.09,794.85 L1308.28,795.58 L1312.46,796.3 L1316.65,797.01 L1320.83,797.71 L1325.02,798.41 L1329.2,799.09 L1333.39,799.77 L1337.57,800.44 L1341.76,801.1 L1345.94,801.76 L1350.13,802.4 L1354.31,803.04 L1358.5,803.66 L1362.68,804.28 L1366.87,804.9 L1371.05,805.5 L1375.24,806.09 L1379.42,806.68 L1383.61,807.26 L1387.79,807.83 L1391.98,808.39 L1396.16,808.94 L1400.35,809.49 L1404.53,810.02 L1408.72,810.55 L1412.9,811.07 L1417.09,811.58 L1421.27,812.08 L1425.46,812.58 L1429.64,813.06 L1433.83,813.54 L1438.01,814.01 L1442.2,814.47" fill="none" stroke="#FF9896" stroke-width="6.0" stroke-linejoin="round" clip-path="url(#cp13)"/>
<line x1="1170.1" x2="1179.1" y1="886.7" y2="886.7" stroke="#222" stroke-width="3.4"/>
<text x="1163.5" y="897.2" text-anchor="end" font-family="'Liberation Sans', Arial, sans-serif" font-size="25.3" fill="#2b2b2b" stroke="#2b2b2b" stroke-width="0.8">500</text>
<line x1="1170.1" x2="1179.1" y1="836.3" y2="836.3" stroke="#222" stroke-width="3.4"/>
<text x="1163.5" y="846.8" text-anchor="end" font-family="'Liberation Sans', Arial, sans-serif" font-size="25.3" fill="#2b2b2b" stroke="#2b2b2b" stroke-width="0.8">600</text>
<line x1="1170.1" x2="1179.1" y1="785.9" y2="785.9" stroke="#222" stroke-width="3.4"/>
<text x="1163.5" y="796.4" text-anchor="end" font-family="'Liberation Sans', Arial, sans-serif" font-size="25.3" fill="#2b2b2b" stroke="#2b2b2b" stroke-width="0.8">700</text>
<line x1="1170.1" x2="1179.1" y1="735.5" y2="735.5" stroke="#222" stroke-width="3.4"/>
<text x="1163.5" y="746" text-anchor="end" font-family="'Liberation Sans', Arial, sans-serif" font-size="25.3" fill="#2b2b2b" stroke="#2b2b2b" stroke-width="0.8">800</text>
<rect x="1528.8" y="614.2" width="275.5" height="101.6" fill="#D9D9D9"/>
<text x="1666.55" y="651.1" text-anchor="middle" font-family="'Liberation Sans', Arial, sans-serif" font-size="26" fill="#111" stroke="#111" stroke-width="1.0">Zero-carbon option</text>
<text x="1666.55" y="702.3" text-anchor="middle" font-family="'Liberation Sans', Arial, sans-serif" font-size="26" fill="#111" stroke="#111" stroke-width="1.0">Japan and Korea</text>
<clipPath id="cp14"><rect x="1528.7" y="718.7" width="274.8" height="186.9"/></clipPath>
<rect x="1528.7" y="718.7" width="274.8" height="186.9" fill="#fff"/>
<rect x="1528.8" y="715.3" width="275.5" height="3.4" fill="#D9D9D9"/>
<line x1="1527.2" x2="1805" y1="905.6" y2="905.6" stroke="#000" stroke-width="4.2"/>
<line x1="1528.7" x2="1528.7" y1="717.9" y2="907.6" stroke="#000" stroke-width="3.7"/>
<line x1="1803.5" x2="1803.5" y1="717.9" y2="907.6" stroke="#000" stroke-width="3.4"/>
<line x1="1528.2" x2="1804" y1="888" y2="888" stroke="#BEBEBE" stroke-width="3.8"/>
<line x1="1528.2" x2="1804" y1="863.83" y2="863.83" stroke="#BEBEBE" stroke-width="3.8"/>
<line x1="1528.2" x2="1804" y1="839.67" y2="839.67" stroke="#BEBEBE" stroke-width="3.8"/>
<line x1="1528.2" x2="1804" y1="815.5" y2="815.5" stroke="#BEBEBE" stroke-width="3.8"/>
<line x1="1528.2" x2="1804" y1="791.33" y2="791.33" stroke="#BEBEBE" stroke-width="3.8"/>
<line x1="1528.2" x2="1804" y1="767.17" y2="767.17" stroke="#BEBEBE" stroke-width="3.8"/>
<line x1="1528.2" x2="1804" y1="743" y2="743" stroke="#BEBEBE" stroke-width="3.8"/>
<line x1="1528.2" x2="1804" y1="718.83" y2="718.83" stroke="#BEBEBE" stroke-width="3.8"/>
<line x1="1540.8" x2="1540.8" y1="717.7" y2="906.6" stroke="#BEBEBE" stroke-width="3.3"/>
<line x1="1582.65" x2="1582.65" y1="717.7" y2="906.6" stroke="#BEBEBE" stroke-width="3.3"/>
<line x1="1624.5" x2="1624.5" y1="717.7" y2="906.6" stroke="#BEBEBE" stroke-width="3.3"/>
<line x1="1666.35" x2="1666.35" y1="717.7" y2="906.6" stroke="#BEBEBE" stroke-width="3.3"/>
<line x1="1708.2" x2="1708.2" y1="717.7" y2="906.6" stroke="#BEBEBE" stroke-width="3.3"/>
<line x1="1750.05" x2="1750.05" y1="717.7" y2="906.6" stroke="#BEBEBE" stroke-width="3.3"/>
<line x1="1791.9" x2="1791.9" y1="717.7" y2="906.6" stroke="#BEBEBE" stroke-width="3.3"/>
<path d="M1540.8,889.1 L1791.9,889.1" fill="none" stroke="#FF7F0E" stroke-width="6.0" stroke-linejoin="round" clip-path="url(#cp14)"/>
<path d="M1616.13,725.92 L1620.32,727.71 L1624.5,729.49 L1628.68,731.25 L1632.87,732.98 L1637.05,734.7 L1641.24,736.4 L1645.42,738.08 L1649.61,739.75 L1653.79,741.39 L1657.98,743.02 L1662.16,744.62 L1666.35,746.21 L1670.53,747.78 L1674.72,749.33 L1678.9,750.86 L1683.09,752.38 L1687.27,753.87 L1691.46,755.35 L1695.64,756.81 L1699.83,758.24 L1704.01,759.66 L1708.2,761.07 L1712.38,762.45 L1716.57,763.81 L1720.75,765.16 L1724.94,766.48 L1729.12,767.79 L1733.31,769.08 L1737.49,770.35 L1741.68,771.6 L1745.87,772.83 L1750.05,774.05 L1754.23,775.24 L1758.42,776.42 L1762.61,777.58 L1766.79,778.72 L1770.97,779.84 L1775.16,780.94 L1779.35,782.03 L1783.53,783.09 L1787.71,784.14 L1791.9,785.16" fill="none" stroke="#D62728" stroke-width="6.0" stroke-linejoin="round" clip-path="url(#cp14)"/>
<path d="M1616.13,818.86 L1620.32,819.81 L1624.5,820.75 L1628.68,821.67 L1632.87,822.57 L1637.05,823.46 L1641.24,824.33 L1645.42,825.18 L1649.61,826.02 L1653.79,826.84 L1657.98,827.65 L1662.16,828.44 L1666.35,829.21 L1670.53,829.97 L1674.72,830.71 L1678.9,831.44 L1683.09,832.15 L1687.27,832.84 L1691.46,833.52 L1695.64,834.18 L1699.83,834.83 L1704.01,835.46 L1708.2,836.07 L1712.38,836.67 L1716.57,837.25 L1720.75,837.82 L1724.94,838.37 L1729.12,838.9 L1733.31,839.42 L1737.49,839.92 L1741.68,840.4 L1745.87,840.87 L1750.05,841.33 L1754.23,841.76 L1758.42,842.19 L1762.61,842.59 L1766.79,842.98 L1770.97,843.35 L1775.16,843.71 L1779.35,844.05 L1783.53,844.38 L1787.71,844.69 L1791.9,844.98" fill="none" stroke="#9467BD" stroke-width="6.0" stroke-linejoin="round" clip-path="url(#cp14)"/>
<path d="M1616.13,852.64 L1620.32,853.46 L1624.5,854.27 L1628.68,855.06 L1632.87,855.84 L1637.05,856.6 L1641.24,857.35 L1645.42,858.08 L1649.61,858.8 L1653.79,859.5 L1657.98,860.19 L1662.16,860.87 L1666.35,861.53 L1670.53,862.17 L1674.72,862.8 L1678.9,863.42 L1683.09,864.02 L1687.27,864.6 L1691.46,865.17 L1695.64,865.73 L1699.83,866.27 L1704.01,866.8 L1708.2,867.31 L1712.38,867.81 L1716.57,868.29 L1720.75,868.76 L1724.94,869.21 L1729.12,869.65 L1733.31,870.07 L1737.49,870.48 L1741.68,870.87 L1745.87,871.25 L1750.05,871.62 L1754.23,871.96 L1758.42,872.3 L1762.61,872.62 L1766.79,872.92 L1770.97,873.21 L1775.16,873.49 L1779.35,873.75 L1783.53,874 L1787.71,874.23 L1791.9,874.44" fill="none" stroke="#8C564B" stroke-width="6.0" stroke-linejoin="round" clip-path="url(#cp14)"/>
<path d="M1616.13,856.26 L1620.32,857.13 L1624.5,857.99 L1628.68,858.84 L1632.87,859.68 L1637.05,860.51 L1641.24,861.33 L1645.42,862.14 L1649.61,862.94 L1653.79,863.72 L1657.98,864.5 L1662.16,865.27 L1666.35,866.02 L1670.53,866.77 L1674.72,867.51 L1678.9,868.23 L1683.09,868.94 L1687.27,869.65 L1691.46,870.34 L1695.64,871.03 L1699.83,871.7 L1704.01,872.36 L1708.2,873.01 L1712.38,873.65 L1716.57,874.29 L1720.75,874.91 L1724.94,875.52 L1729.12,876.12 L1733.31,876.71 L1737.49,877.28 L1741.68,877.85 L1745.87,878.41 L1750.05,878.96 L1754.23,879.49 L1758.42,880.02 L1762.61,880.54 L1766.79,881.04 L1770.97,881.54 L1775.16,882.02 L1779.35,882.5 L1783.53,882.96 L1787.71,883.41 L1791.9,883.86" fill="none" stroke="#E377C2" stroke-width="6.0" stroke-linejoin="round" clip-path="url(#cp14)"/>
<path d="M1591.02,843.39 L1595.2,844.4 L1599.39,845.39 L1603.58,846.38 L1607.76,847.35 L1611.94,848.3 L1616.13,849.24 L1620.32,850.17 L1624.5,851.09 L1628.68,851.99 L1632.87,852.88 L1637.05,853.76 L1641.24,854.62 L1645.42,855.47 L1649.61,856.31 L1653.79,857.13 L1657.98,857.94 L1662.16,858.74 L1666.35,859.52 L1670.53,860.29 L1674.72,861.05 L1678.9,861.79 L1683.09,862.52 L1687.27,863.24 L1691.46,863.95 L1695.64,864.64 L1699.83,865.31 L1704.01,865.98 L1708.2,866.63 L1712.38,867.27 L1716.57,867.89 L1720.75,868.5 L1724.94,869.1 L1729.12,869.68 L1733.31,870.26 L1737.49,870.81 L1741.68,871.36 L1745.87,871.89 L1750.05,872.41 L1754.23,872.91 L1758.42,873.41 L1762.61,873.88 L1766.79,874.35 L1770.97,874.8 L1775.16,875.24 L1779.35,875.66 L1783.53,876.08 L1787.71,876.48 L1791.9,876.86" fill="none" stroke="#7F7F7F" stroke-width="6.0" stroke-linejoin="round" clip-path="url(#cp14)"/>
<path d="M1632.87,760.31 L1637.05,763.04 L1641.24,765.72 L1645.42,768.34 L1649.61,770.9 L1653.79,773.41 L1657.98,775.85 L1662.16,778.24 L1666.35,780.57 L1670.53,782.84 L1674.72,785.05 L1678.9,787.21 L1683.09,789.31 L1687.27,791.35 L1691.46,793.33 L1695.64,795.25 L1699.83,797.12 L1704.01,798.92 L1708.2,800.67 L1712.38,802.36 L1716.57,804 L1720.75,805.57 L1724.94,807.09 L1729.12,808.55 L1733.31,809.95 L1737.49,811.29 L1741.68,812.58 L1745.87,813.81 L1750.05,814.98 L1754.23,816.09 L1758.42,817.14 L1762.61,818.13 L1766.79,819.07 L1770.97,819.95 L1775.16,820.77 L1779.35,821.53 L1783.53,822.24 L1787.71,822.89 L1791.9,823.47" fill="none" stroke="#BCBD22" stroke-width="6.0" stroke-linejoin="round" clip-path="url(#cp14)"/>
<path d="M1632.87,806.6 L1637.05,808.87 L1641.24,811.09 L1645.42,813.25 L1649.61,815.36 L1653.79,817.42 L1657.98,819.42 L1662.16,821.37 L1666.35,823.27 L1670.53,825.11 L1674.72,826.9 L1678.9,828.63 L1683.09,830.31 L1687.27,831.94 L1691.46,833.51 L1695.64,835.03 L1699.83,836.5 L1704.01,837.91 L1708.2,839.26 L1712.38,840.57 L1716.57,841.82 L1720.75,843.01 L1724.94,844.15 L1729.12,845.24 L1733.31,846.28 L1737.49,847.26 L1741.68,848.18 L1745.87,849.05 L1750.05,849.87 L1754.23,850.64 L1758.42,851.35 L1762.61,852.01 L1766.79,852.61 L1770.97,853.16 L1775.16,853.65 L1779.35,854.09 L1783.53,854.48 L1787.71,854.82 L1791.9,855.1" fill="none" stroke="#98DF8A" stroke-width="6.0" stroke-linejoin="round" clip-path="url(#cp14)"/>
<path d="M1540.8,864.8 L1544.98,865.47 L1549.17,866.14 L1553.36,866.8 L1557.54,867.46 L1561.72,868.11 L1565.91,868.76 L1570.1,869.4 L1574.28,870.04 L1578.46,870.67 L1582.65,871.3 L1586.84,871.92 L1591.02,872.54 L1595.2,873.16 L1599.39,873.77 L1603.58,874.37 L1607.76,874.97 L1611.94,875.57 L1616.13,876.16 L1620.32,876.75 L1624.5,877.33 L1628.68,877.91 L1632.87,878.48 L1637.05,879.05 L1641.24,879.61 L1645.42,880.17 L1649.61,880.72 L1653.79,881.27 L1657.98,881.81 L1662.16,882.35 L1666.35,882.89 L1670.53,883.42 L1674.72,883.94 L1678.9,884.46 L1683.09,884.98 L1687.27,885.49 L1691.46,885.99 L1695.64,886.5 L1699.83,886.99 L1704.01,887.48 L1708.2,887.97 L1712.38,888.45 L1716.57,888.93 L1720.75,889.41 L1724.94,889.87 L1729.12,890.34 L1733.31,890.8 L1737.49,891.25 L1741.68,891.7 L1745.87,892.15 L1750.05,892.59 L1754.23,893.02 L1758.42,893.45 L1762.61,893.88 L1766.79,894.3 L1770.97,894.72 L1775.16,895.13 L1779.35,895.54 L1783.53,895.94 L1787.71,896.34 L1791.9,896.73" fill="none" stroke="#FF9896" stroke-width="6.0" stroke-linejoin="round" clip-path="url(#cp14)"/>
<line x1="1519.8" x2="1528.8" y1="888" y2="888" stroke="#222" stroke-width="3.4"/>
<text x="1513.2" y="898.5" text-anchor="end" font-family="'Liberation Sans', Arial, sans-serif" font-size="25.3" fill="#2b2b2b" stroke="#2b2b2b" stroke-width="0.8">600</text>
<line x1="1519.8" x2="1528.8" y1="839.67" y2="839.67" stroke="#222" stroke-width="3.4"/>
<text x="1513.2" y="850.17" text-anchor="end" font-family="'Liberation Sans', Arial, sans-serif" font-size="25.3" fill="#2b2b2b" stroke="#2b2b2b" stroke-width="0.8">700</text>
<line x1="1519.8" x2="1528.8" y1="791.33" y2="791.33" stroke="#222" stroke-width="3.4"/>
<text x="1513.2" y="801.83" text-anchor="end" font-family="'Liberation Sans', Arial, sans-serif" font-size="25.3" fill="#2b2b2b" stroke="#2b2b2b" stroke-width="0.8">800</text>
<line x1="1519.8" x2="1528.8" y1="743" y2="743" stroke="#222" stroke-width="3.4"/>
<text x="1513.2" y="753.5" text-anchor="end" font-family="'Liberation Sans', Arial, sans-serif" font-size="25.3" fill="#2b2b2b" stroke="#2b2b2b" stroke-width="0.8">900</text>
<rect x="99.6" y="921.3" width="275.5" height="101.6" fill="#D9D9D9"/>
<text x="237.35" y="958.2" text-anchor="middle" font-family="'Liberation Sans', Arial, sans-serif" font-size="26" fill="#111" stroke="#111" stroke-width="1.0">Zero-carbon option</text>
<text x="237.35" y="1009.4" text-anchor="middle" font-family="'Liberation Sans', Arial, sans-serif" font-size="26" fill="#111" stroke="#111" stroke-width="1.0">Latin America</text>
<clipPath id="cp15"><rect x="99.5" y="1025.8" width="274.8" height="186.9"/></clipPath>
<rect x="99.5" y="1025.8" width="274.8" height="186.9" fill="#fff"/>
<line x1="99.5" x2="374.3" y1="1025.8" y2="1025.8" stroke="#000" stroke-width="1.7"/>
<line x1="99.5" x2="99.5" y1="1025" y2="1211.2" stroke="#000" stroke-width="3.7"/>
<line x1="374.3" x2="374.3" y1="1025" y2="1211.2" stroke="#000" stroke-width="3.4"/>
<line x1="99" x2="374.8" y1="1212.93" y2="1212.93" stroke="#BEBEBE" stroke-width="3.8"/>
<line x1="99" x2="374.8" y1="1194.81" y2="1194.81" stroke="#BEBEBE" stroke-width="3.8"/>
<line x1="99" x2="374.8" y1="1176.7" y2="1176.7" stroke="#BEBEBE" stroke-width="3.8"/>
<line x1="99" x2="374.8" y1="1158.59" y2="1158.59" stroke="#BEBEBE" stroke-width="3.8"/>
<line x1="99" x2="374.8" y1="1140.48" y2="1140.48" stroke="#BEBEBE" stroke-width="3.8"/>
<line x1="99" x2="374.8" y1="1122.36" y2="1122.36" stroke="#BEBEBE" stroke-width="3.8"/>
<line x1="99" x2="374.8" y1="1104.25" y2="1104.25" stroke="#BEBEBE" stroke-width="3.8"/>
<line x1="99" x2="374.8" y1="1086.14" y2="1086.14" stroke="#BEBEBE" stroke-width="3.8"/>
<line x1="99" x2="374.8" y1="1068.03" y2="1068.03" stroke="#BEBEBE" stroke-width="3.8"/>
<line x1="99" x2="374.8" y1="1049.91" y2="1049.91" stroke="#BEBEBE" stroke-width="3.8"/>
<line x1="99" x2="374.8" y1="1031.8" y2="1031.8" stroke="#BEBEBE" stroke-width="3.8"/>
<line x1="111.6" x2="111.6" y1="1024.8" y2="1213.7" stroke="#BEBEBE" stroke-width="3.3"/>
<line x1="153.45" x2="153.45" y1="1024.8" y2="1213.7" stroke="#BEBEBE" stroke-width="3.3"/>
<line x1="195.3" x2="195.3" y1="1024.8" y2="1213.7" stroke="#BEBEBE" stroke-width="3.3"/>
<line x1="237.15" x2="237.15" y1="1024.8" y2="1213.7" stroke="#BEBEBE" stroke-width="3.3"/>
<line x1="279" x2="279" y1="1024.8" y2="1213.7" stroke="#BEBEBE" stroke-width="3.3"/>
<line x1="320.85" x2="320.85" y1="1024.8" y2="1213.7" stroke="#BEBEBE" stroke-width="3.3"/>
<line x1="362.7" x2="362.7" y1="1024.8" y2="1213.7" stroke="#BEBEBE" stroke-width="3.3"/>
<path d="M111.6,1203.3 L362.7,1203.3" fill="none" stroke="#FF7F0E" stroke-width="6.0" stroke-linejoin="round" clip-path="url(#cp15)"/>
<path d="M186.93,1032.36 L191.11,1033.98 L195.3,1035.6 L199.48,1037.21 L203.67,1038.81 L207.85,1040.41 L212.04,1041.99 L216.22,1043.58 L220.41,1045.15 L224.59,1046.71 L228.78,1048.27 L232.96,1049.82 L237.15,1051.37 L241.33,1052.91 L245.52,1054.44 L249.7,1055.96 L253.89,1057.47 L258.07,1058.98 L262.26,1060.48 L266.44,1061.97 L270.63,1063.46 L274.81,1064.94 L279,1066.41 L283.18,1067.88 L287.37,1069.33 L291.55,1070.78 L295.74,1072.23 L299.92,1073.66 L304.11,1075.09 L308.29,1076.51 L312.48,1077.93 L316.66,1079.33 L320.85,1080.73 L325.03,1082.12 L329.22,1083.51 L333.4,1084.89 L337.59,1086.26 L341.77,1087.62 L345.96,1088.98 L350.14,1090.32 L354.33,1091.67 L358.51,1093 L362.7,1094.33" fill="none" stroke="#D62728" stroke-width="6.0" stroke-linejoin="round" clip-path="url(#cp15)"/>
<path d="M186.93,1060.94 L191.11,1062.42 L195.3,1063.88 L199.48,1065.33 L203.67,1066.77 L207.85,1068.2 L212.04,1069.62 L216.22,1071.03 L220.41,1072.43 L224.59,1073.82 L228.78,1075.19 L232.96,1076.56 L237.15,1077.92 L241.33,1079.26 L245.52,1080.6 L249.7,1081.92 L253.89,1083.23 L258.07,1084.54 L262.26,1085.83 L266.44,1087.11 L270.63,1088.38 L274.81,1089.64 L279,1090.89 L283.18,1092.13 L287.37,1093.36 L291.55,1094.58 L295.74,1095.79 L299.92,1096.98 L304.11,1098.17 L308.29,1099.35 L312.48,1100.51 L316.66,1101.66 L320.85,1102.81 L325.03,1103.94 L329.22,1105.06 L333.4,1106.18 L337.59,1107.28 L341.77,1108.37 L345.96,1109.45 L350.14,1110.52 L354.33,1111.57 L358.51,1112.62 L362.7,1113.66" fill="none" stroke="#9467BD" stroke-width="6.0" stroke-linejoin="round" clip-path="url(#cp15)"/>
<path d="M186.93,1150.69 L191.11,1151.48 L195.3,1152.27 L199.48,1153.06 L203.67,1153.85 L207.85,1154.63 L212.04,1155.42 L216.22,1156.2 L220.41,1156.98 L224.59,1157.75 L228.78,1158.53 L232.96,1159.3 L237.15,1160.07 L241.33,1160.84 L245.52,1161.61 L249.7,1162.38 L253.89,1163.14 L258.07,1163.91 L262.26,1164.67 L266.44,1165.43 L270.63,1166.18 L274.81,1166.94 L279,1167.69 L283.18,1168.45 L287.37,1169.2 L291.55,1169.95 L295.74,1170.69 L299.92,1171.44 L304.11,1172.18 L308.29,1172.92 L312.48,1173.66 L316.66,1174.4 L320.85,1175.14 L325.03,1175.87 L329.22,1176.6 L333.4,1177.33 L337.59,1178.06 L341.77,1178.79 L345.96,1179.52 L350.14,1180.24 L354.33,1180.96 L358.51,1181.68 L362.7,1182.4" fill="none" stroke="#8C564B" stroke-width="6.0" stroke-linejoin="round" clip-path="url(#cp15)"/>
<path d="M186.93,1131.56 L191.11,1133.19 L195.3,1134.8 L199.48,1136.39 L203.67,1137.96 L207.85,1139.52 L212.04,1141.05 L216.22,1142.57 L220.41,1144.06 L224.59,1145.54 L228.78,1146.99 L232.96,1148.43 L237.15,1149.85 L241.33,1151.25 L245.52,1152.63 L249.7,1153.99 L253.89,1155.33 L258.07,1156.66 L262.26,1157.96 L266.44,1159.25 L270.63,1160.51 L274.81,1161.76 L279,1162.98 L283.18,1164.19 L287.37,1165.38 L291.55,1166.55 L295.74,1167.7 L299.92,1168.83 L304.11,1169.94 L308.29,1171.04 L312.48,1172.11 L316.66,1173.17 L320.85,1174.2 L325.03,1175.22 L329.22,1176.21 L333.4,1177.19 L337.59,1178.15 L341.77,1179.09 L345.96,1180.01 L350.14,1180.91 L354.33,1181.8 L358.51,1182.66 L362.7,1183.5" fill="none" stroke="#E377C2" stroke-width="6.0" stroke-linejoin="round" clip-path="url(#cp15)"/>
<path d="M161.82,1094.7 L166,1096.51 L170.19,1098.3 L174.38,1100.07 L178.56,1101.82 L182.75,1103.56 L186.93,1105.27 L191.11,1106.97 L195.3,1108.64 L199.48,1110.3 L203.67,1111.94 L207.85,1113.56 L212.04,1115.16 L216.22,1116.74 L220.41,1118.3 L224.59,1119.84 L228.78,1121.37 L232.96,1122.87 L237.15,1124.36 L241.33,1125.83 L245.52,1127.27 L249.7,1128.7 L253.89,1130.11 L258.07,1131.5 L262.26,1132.87 L266.44,1134.23 L270.63,1135.56 L274.81,1136.87 L279,1138.17 L283.18,1139.44 L287.37,1140.7 L291.55,1141.94 L295.74,1143.16 L299.92,1144.36 L304.11,1145.54 L308.29,1146.7 L312.48,1147.84 L316.66,1148.97 L320.85,1150.07 L325.03,1151.15 L329.22,1152.22 L333.4,1153.27 L337.59,1154.3 L341.77,1155.3 L345.96,1156.29 L350.14,1157.27 L354.33,1158.22 L358.51,1159.15 L362.7,1160.06" fill="none" stroke="#7F7F7F" stroke-width="6.0" stroke-linejoin="round" clip-path="url(#cp15)"/>
<path d="M203.67,1135.72 L207.85,1138.64 L212.04,1141.48 L216.22,1144.25 L220.41,1146.95 L224.59,1149.57 L228.78,1152.12 L232.96,1154.59 L237.15,1156.99 L241.33,1159.32 L245.52,1161.57 L249.7,1163.75 L253.89,1165.86 L258.07,1167.89 L262.26,1169.85 L266.44,1171.73 L270.63,1173.54 L274.81,1175.28 L279,1176.94 L283.18,1178.53 L287.37,1180.05 L291.55,1181.49 L295.74,1182.86 L299.92,1184.15 L304.11,1185.38 L308.29,1186.52 L312.48,1187.6 L316.66,1188.6 L320.85,1189.52 L325.03,1190.37 L329.22,1191.15 L333.4,1191.86 L337.59,1192.49 L341.77,1193.04 L345.96,1193.53 L350.14,1193.94 L354.33,1194.27 L358.51,1194.53 L362.7,1194.72" fill="none" stroke="#BCBD22" stroke-width="6.0" stroke-linejoin="round" clip-path="url(#cp15)"/>
<path d="M203.67,1132.25 L207.85,1134.52 L212.04,1136.73 L216.22,1138.88 L220.41,1140.98 L224.59,1143.02 L228.78,1145.01 L232.96,1146.94 L237.15,1148.81 L241.33,1150.62 L245.52,1152.38 L249.7,1154.08 L253.89,1155.72 L258.07,1157.31 L262.26,1158.84 L266.44,1160.31 L270.63,1161.73 L274.81,1163.09 L279,1164.39 L283.18,1165.63 L287.37,1166.82 L291.55,1167.95 L295.74,1169.03 L299.92,1170.04 L304.11,1171.01 L308.29,1171.91 L312.48,1172.76 L316.66,1173.55 L320.85,1174.28 L325.03,1174.95 L329.22,1175.57 L333.4,1176.14 L337.59,1176.64 L341.77,1177.09 L345.96,1177.48 L350.14,1177.82 L354.33,1178.09 L358.51,1178.31 L362.7,1178.48" fill="none" stroke="#98DF8A" stroke-width="6.0" stroke-linejoin="round" clip-path="url(#cp15)"/>
<path d="M111.6,1125.8 L115.78,1127.19 L119.97,1128.57 L124.16,1129.94 L128.34,1131.29 L132.52,1132.63 L136.71,1133.96 L140.89,1135.28 L145.08,1136.58 L149.26,1137.87 L153.45,1139.15 L157.63,1140.42 L161.82,1141.67 L166,1142.91 L170.19,1144.14 L174.38,1145.36 L178.56,1146.56 L182.75,1147.75 L186.93,1148.93 L191.11,1150.1 L195.3,1151.25 L199.48,1152.39 L203.67,1153.52 L207.85,1154.64 L212.04,1155.74 L216.22,1156.83 L220.41,1157.91 L224.59,1158.98 L228.78,1160.03 L232.96,1161.07 L237.15,1162.1 L241.33,1163.12 L245.52,1164.12 L249.7,1165.11 L253.89,1166.09 L258.07,1167.06 L262.26,1168.01 L266.44,1168.95 L270.63,1169.88 L274.81,1170.8 L279,1171.7 L283.18,1172.59 L287.37,1173.47 L291.55,1174.34 L295.74,1175.19 L299.92,1176.03 L304.11,1176.86 L308.29,1177.68 L312.48,1178.48 L316.66,1179.27 L320.85,1180.05 L325.03,1180.82 L329.22,1181.57 L333.4,1182.31 L337.59,1183.04 L341.77,1183.76 L345.96,1184.46 L350.14,1185.15 L354.33,1185.83 L358.51,1186.5 L362.7,1187.15" fill="none" stroke="#FF9896" stroke-width="6.0" stroke-linejoin="round" clip-path="url(#cp15)"/>
<line x1="90.6" x2="99.6" y1="1176.7" y2="1176.7" stroke="#222" stroke-width="3.4"/>
<text x="84" y="1187.2" text-anchor="end" font-family="'Liberation Sans', Arial, sans-serif" font-size="25.3" fill="#2b2b2b" stroke="#2b2b2b" stroke-width="0.8">600</text>
<line x1="90.6" x2="99.6" y1="1140.48" y2="1140.48" stroke="#222" stroke-width="3.4"/>
<text x="84" y="1150.98" text-anchor="end" font-family="'Liberation Sans', Arial, sans-serif" font-size="25.3" fill="#2b2b2b" stroke="#2b2b2b" stroke-width="0.8">650</text>
<line x1="90.6" x2="99.6" y1="1104.25" y2="1104.25" stroke="#222" stroke-width="3.4"/>
<text x="84" y="1114.75" text-anchor="end" font-family="'Liberation Sans', Arial, sans-serif" font-size="25.3" fill="#2b2b2b" stroke="#2b2b2b" stroke-width="0.8">700</text>
<line x1="90.6" x2="99.6" y1="1068.03" y2="1068.03" stroke="#222" stroke-width="3.4"/>
<text x="84" y="1078.53" text-anchor="end" font-family="'Liberation Sans', Arial, sans-serif" font-size="25.3" fill="#2b2b2b" stroke="#2b2b2b" stroke-width="0.8">750</text>
<line x1="90.6" x2="99.6" y1="1031.8" y2="1031.8" stroke="#222" stroke-width="3.4"/>
<text x="84" y="1042.3" text-anchor="end" font-family="'Liberation Sans', Arial, sans-serif" font-size="25.3" fill="#2b2b2b" stroke="#2b2b2b" stroke-width="0.8">800</text>
<line x1="111.6" x2="111.6" y1="1212.2" y2="1221.3" stroke="#222" stroke-width="3.6"/>
<text x="111.6" y="1248.2" text-anchor="middle" font-family="'Liberation Sans', Arial, sans-serif" font-size="25.8" fill="#2b2b2b" stroke="#2b2b2b" stroke-width="0.8">2020</text>
<line x1="195.3" x2="195.3" y1="1212.2" y2="1221.3" stroke="#222" stroke-width="3.6"/>
<text x="195.3" y="1248.2" text-anchor="middle" font-family="'Liberation Sans', Arial, sans-serif" font-size="25.8" fill="#2b2b2b" stroke="#2b2b2b" stroke-width="0.8">2030</text>
<line x1="279" x2="279" y1="1212.2" y2="1221.3" stroke="#222" stroke-width="3.6"/>
<text x="279" y="1248.2" text-anchor="middle" font-family="'Liberation Sans', Arial, sans-serif" font-size="25.8" fill="#2b2b2b" stroke="#2b2b2b" stroke-width="0.8">2040</text>
<line x1="362.7" x2="362.7" y1="1212.2" y2="1221.3" stroke="#222" stroke-width="3.6"/>
<text x="362.7" y="1248.2" text-anchor="middle" font-family="'Liberation Sans', Arial, sans-serif" font-size="25.8" fill="#2b2b2b" stroke="#2b2b2b" stroke-width="0.8">2050</text>
<rect x="464.1" y="921.3" width="275.5" height="101.6" fill="#D9D9D9"/>
<text x="601.85" y="958.2" text-anchor="middle" font-family="'Liberation Sans', Arial, sans-serif" font-size="26" fill="#111" stroke="#111" stroke-width="1.0">Zero-carbon option</text>
<text x="601.85" y="1009.4" text-anchor="middle" font-family="'Liberation Sans', Arial, sans-serif" font-size="26" fill="#111" stroke="#111" stroke-width="1.0">Middle East</text>
<clipPath id="cp16"><rect x="464" y="1025.8" width="274.8" height="186.9"/></clipPath>
<rect x="464" y="1025.8" width="274.8" height="186.9" fill="#fff"/>
<line x1="464" x2="738.8" y1="1025.8" y2="1025.8" stroke="#000" stroke-width="1.7"/>
<line x1="462.5" x2="740.3" y1="1212.7" y2="1212.7" stroke="#000" stroke-width="4.2"/>
<line x1="464" x2="464" y1="1025" y2="1214.7" stroke="#000" stroke-width="3.7"/>
<line x1="738.8" x2="738.8" y1="1025" y2="1214.7" stroke="#000" stroke-width="3.4"/>
<line x1="463.5" x2="739.3" y1="1196.1" y2="1196.1" stroke="#BEBEBE" stroke-width="3.8"/>
<line x1="463.5" x2="739.3" y1="1173.5" y2="1173.5" stroke="#BEBEBE" stroke-width="3.8"/>
<line x1="463.5" x2="739.3" y1="1150.9" y2="1150.9" stroke="#BEBEBE" stroke-width="3.8"/>
<line x1="463.5" x2="739.3" y1="1128.3" y2="1128.3" stroke="#BEBEBE" stroke-width="3.8"/>
<line x1="463.5" x2="739.3" y1="1105.7" y2="1105.7" stroke="#BEBEBE" stroke-width="3.8"/>
<line x1="463.5" x2="739.3" y1="1083.1" y2="1083.1" stroke="#BEBEBE" stroke-width="3.8"/>
<line x1="463.5" x2="739.3" y1="1060.5" y2="1060.5" stroke="#BEBEBE" stroke-width="3.8"/>
<line x1="463.5" x2="739.3" y1="1037.9" y2="1037.9" stroke="#BEBEBE" stroke-width="3.8"/>
<line x1="476.1" x2="476.1" y1="1024.8" y2="1213.7" stroke="#BEBEBE" stroke-width="3.3"/>
<line x1="517.95" x2="517.95" y1="1024.8" y2="1213.7" stroke="#BEBEBE" stroke-width="3.3"/>
<line x1="559.8" x2="559.8" y1="1024.8" y2="1213.7" stroke="#BEBEBE" stroke-width="3.3"/>
<line x1="601.65" x2="601.65" y1="1024.8" y2="1213.7" stroke="#BEBEBE" stroke-width="3.3"/>
<line x1="643.5" x2="643.5" y1="1024.8" y2="1213.7" stroke="#BEBEBE" stroke-width="3.3"/>
<line x1="685.35" x2="685.35" y1="1024.8" y2="1213.7" stroke="#BEBEBE" stroke-width="3.3"/>
<line x1="727.2" x2="727.2" y1="1024.8" y2="1213.7" stroke="#BEBEBE" stroke-width="3.3"/>
<path d="M476.1,1117.3 L727.2,1117.3" fill="none" stroke="#FF7F0E" stroke-width="6.0" stroke-linejoin="round" clip-path="url(#cp16)"/>
<path d="M551.43,1033.43 L555.62,1034.62 L559.8,1035.8 L563.99,1036.97 L568.17,1038.13 L572.36,1039.29 L576.54,1040.43 L580.73,1041.56 L584.91,1042.69 L589.1,1043.8 L593.28,1044.91 L597.47,1046 L601.65,1047.09 L605.84,1048.16 L610.02,1049.23 L614.21,1050.29 L618.39,1051.34 L622.58,1052.38 L626.76,1053.41 L630.95,1054.43 L635.13,1055.44 L639.32,1056.44 L643.5,1057.43 L647.68,1058.42 L651.87,1059.39 L656.06,1060.36 L660.24,1061.31 L664.42,1062.26 L668.61,1063.19 L672.8,1064.12 L676.98,1065.03 L681.16,1065.94 L685.35,1066.84 L689.53,1067.73 L693.72,1068.61 L697.9,1069.48 L702.09,1070.34 L706.27,1071.19 L710.46,1072.03 L714.64,1072.87 L718.83,1073.69 L723.01,1074.5 L727.2,1075.31" fill="none" stroke="#D62728" stroke-width="6.0" stroke-linejoin="round" clip-path="url(#cp16)"/>
<path d="M551.43,1121.59 L555.62,1122.14 L559.8,1122.7 L563.99,1123.25 L568.17,1123.79 L572.36,1124.34 L576.54,1124.88 L580.73,1125.42 L584.91,1125.96 L589.1,1126.5 L593.28,1127.04 L597.47,1127.57 L601.65,1128.1 L605.84,1128.63 L610.02,1129.15 L614.21,1129.68 L618.39,1130.2 L622.58,1130.72 L626.76,1131.24 L630.95,1131.76 L635.13,1132.27 L639.32,1132.78 L643.5,1133.29 L647.68,1133.8 L651.87,1134.31 L656.06,1134.81 L660.24,1135.31 L664.42,1135.81 L668.61,1136.31 L672.8,1136.8 L676.98,1137.3 L681.16,1137.79 L685.35,1138.27 L689.53,1138.76 L693.72,1139.25 L697.9,1139.73 L702.09,1140.21 L706.27,1140.69 L710.46,1141.16 L714.64,1141.64 L718.83,1142.11 L723.01,1142.58 L727.2,1143.05" fill="none" stroke="#9467BD" stroke-width="6.0" stroke-linejoin="round" clip-path="url(#cp16)"/>
<path d="M551.43,1148.9 L555.62,1149.44 L559.8,1149.98 L563.99,1150.51 L568.17,1151.04 L572.36,1151.56 L576.54,1152.07 L580.73,1152.58 L584.91,1153.08 L589.1,1153.58 L593.28,1154.06 L597.47,1154.55 L601.65,1155.02 L605.84,1155.49 L610.02,1155.95 L614.21,1156.41 L618.39,1156.86 L622.58,1157.31 L626.76,1157.74 L630.95,1158.18 L635.13,1158.6 L639.32,1159.02 L643.5,1159.43 L647.68,1159.84 L651.87,1160.24 L656.06,1160.63 L660.24,1161.02 L664.42,1161.4 L668.61,1161.78 L672.8,1162.14 L676.98,1162.51 L681.16,1162.86 L685.35,1163.21 L689.53,1163.55 L693.72,1163.89 L697.9,1164.22 L702.09,1164.55 L706.27,1164.86 L710.46,1165.18 L714.64,1165.48 L718.83,1165.78 L723.01,1166.07 L727.2,1166.36" fill="none" stroke="#8C564B" stroke-width="6.0" stroke-linejoin="round" clip-path="url(#cp16)"/>
<path d="M551.43,1181.4 L555.62,1182 L559.8,1182.61 L563.99,1183.2 L568.17,1183.8 L572.36,1184.38 L576.54,1184.97 L580.73,1185.54 L584.91,1186.11 L589.1,1186.68 L593.28,1187.24 L597.47,1187.8 L601.65,1188.35 L605.84,1188.9 L610.02,1189.44 L614.21,1189.98 L618.39,1190.51 L622.58,1191.04 L626.76,1191.56 L630.95,1192.08 L635.13,1192.59 L639.32,1193.1 L643.5,1193.6 L647.68,1194.1 L651.87,1194.59 L656.06,1195.08 L660.24,1195.56 L664.42,1196.04 L668.61,1196.51 L672.8,1196.98 L676.98,1197.44 L681.16,1197.9 L685.35,1198.35 L689.53,1198.8 L693.72,1199.24 L697.9,1199.67 L702.09,1200.11 L706.27,1200.53 L710.46,1200.96 L714.64,1201.37 L718.83,1201.79 L723.01,1202.19 L727.2,1202.59" fill="none" stroke="#E377C2" stroke-width="6.0" stroke-linejoin="round" clip-path="url(#cp16)"/>
<path d="M526.32,1128.44 L530.5,1129.15 L534.69,1129.84 L538.88,1130.54 L543.06,1131.22 L547.25,1131.9 L551.43,1132.57 L555.62,1133.23 L559.8,1133.89 L563.99,1134.54 L568.17,1135.18 L572.36,1135.82 L576.54,1136.45 L580.73,1137.08 L584.91,1137.7 L589.1,1138.31 L593.28,1138.91 L597.47,1139.51 L601.65,1140.1 L605.84,1140.69 L610.02,1141.27 L614.21,1141.84 L618.39,1142.41 L622.58,1142.97 L626.76,1143.52 L630.95,1144.07 L635.13,1144.6 L639.32,1145.14 L643.5,1145.66 L647.68,1146.19 L651.87,1146.7 L656.06,1147.21 L660.24,1147.71 L664.42,1148.2 L668.61,1148.69 L672.8,1149.17 L676.98,1149.64 L681.16,1150.11 L685.35,1150.57 L689.53,1151.03 L693.72,1151.48 L697.9,1151.92 L702.09,1152.35 L706.27,1152.78 L710.46,1153.2 L714.64,1153.62 L718.83,1154.03 L723.01,1154.43 L727.2,1154.83" fill="none" stroke="#7F7F7F" stroke-width="6.0" stroke-linejoin="round" clip-path="url(#cp16)"/>
<path d="M568.17,1124.25 L572.36,1125.86 L576.54,1127.44 L580.73,1128.98 L584.91,1130.48 L589.1,1131.95 L593.28,1133.39 L597.47,1134.79 L601.65,1136.16 L605.84,1137.49 L610.02,1138.79 L614.21,1140.06 L618.39,1141.29 L622.58,1142.48 L626.76,1143.64 L630.95,1144.77 L635.13,1145.86 L639.32,1146.92 L643.5,1147.94 L647.68,1148.93 L651.87,1149.89 L656.06,1150.81 L660.24,1151.69 L664.42,1152.54 L668.61,1153.36 L672.8,1154.14 L676.98,1154.89 L681.16,1155.6 L685.35,1156.28 L689.53,1156.92 L693.72,1157.53 L697.9,1158.11 L702.09,1158.65 L706.27,1159.15 L710.46,1159.63 L714.64,1160.06 L718.83,1160.46 L723.01,1160.83 L727.2,1161.17" fill="none" stroke="#BCBD22" stroke-width="6.0" stroke-linejoin="round" clip-path="url(#cp16)"/>
<path d="M568.17,1067.1 L572.36,1068.44 L576.54,1069.74 L580.73,1071.01 L584.91,1072.25 L589.1,1073.45 L593.28,1074.63 L597.47,1075.77 L601.65,1076.88 L605.84,1077.96 L610.02,1079.01 L614.21,1080.03 L618.39,1081.01 L622.58,1081.97 L626.76,1082.89 L630.95,1083.78 L635.13,1084.64 L639.32,1085.47 L643.5,1086.26 L647.68,1087.03 L651.87,1087.76 L656.06,1088.46 L660.24,1089.13 L664.42,1089.77 L668.61,1090.38 L672.8,1090.95 L676.98,1091.5 L681.16,1092.01 L685.35,1092.49 L689.53,1092.94 L693.72,1093.36 L697.9,1093.74 L702.09,1094.1 L706.27,1094.42 L710.46,1094.71 L714.64,1094.97 L718.83,1095.2 L723.01,1095.39 L727.2,1095.56" fill="none" stroke="#98DF8A" stroke-width="6.0" stroke-linejoin="round" clip-path="url(#cp16)"/>
<path d="M476.1,1095.53 L480.29,1096.07 L484.47,1096.61 L488.66,1097.15 L492.84,1097.68 L497.03,1098.2 L501.21,1098.73 L505.4,1099.25 L509.58,1099.77 L513.76,1100.28 L517.95,1100.79 L522.13,1101.3 L526.32,1101.8 L530.5,1102.31 L534.69,1102.8 L538.88,1103.3 L543.06,1103.79 L547.25,1104.27 L551.43,1104.76 L555.62,1105.24 L559.8,1105.71 L563.99,1106.19 L568.17,1106.66 L572.36,1107.12 L576.54,1107.59 L580.73,1108.05 L584.91,1108.5 L589.1,1108.96 L593.28,1109.41 L597.47,1109.85 L601.65,1110.3 L605.84,1110.73 L610.02,1111.17 L614.21,1111.6 L618.39,1112.03 L622.58,1112.46 L626.76,1112.88 L630.95,1113.3 L635.13,1113.71 L639.32,1114.13 L643.5,1114.54 L647.68,1114.94 L651.87,1115.34 L656.06,1115.74 L660.24,1116.14 L664.42,1116.53 L668.61,1116.92 L672.8,1117.3 L676.98,1117.68 L681.16,1118.06 L685.35,1118.44 L689.53,1118.81 L693.72,1119.17 L697.9,1119.54 L702.09,1119.9 L706.27,1120.26 L710.46,1120.61 L714.64,1120.96 L718.83,1121.31 L723.01,1121.65 L727.2,1122" fill="none" stroke="#FF9896" stroke-width="6.0" stroke-linejoin="round" clip-path="url(#cp16)"/>
<line x1="455.1" x2="464.1" y1="1196.1" y2="1196.1" stroke="#222" stroke-width="3.4"/>
<text x="448.5" y="1206.6" text-anchor="end" font-family="'Liberation Sans', Arial, sans-serif" font-size="25.3" fill="#2b2b2b" stroke="#2b2b2b" stroke-width="0.8">400</text>
<line x1="455.1" x2="464.1" y1="1150.9" y2="1150.9" stroke="#222" stroke-width="3.4"/>
<text x="448.5" y="1161.4" text-anchor="end" font-family="'Liberation Sans', Arial, sans-serif" font-size="25.3" fill="#2b2b2b" stroke="#2b2b2b" stroke-width="0.8">500</text>
<line x1="455.1" x2="464.1" y1="1105.7" y2="1105.7" stroke="#222" stroke-width="3.4"/>
<text x="448.5" y="1116.2" text-anchor="end" font-family="'Liberation Sans', Arial, sans-serif" font-size="25.3" fill="#2b2b2b" stroke="#2b2b2b" stroke-width="0.8">600</text>
<line x1="455.1" x2="464.1" y1="1060.5" y2="1060.5" stroke="#222" stroke-width="3.4"/>
<text x="448.5" y="1071" text-anchor="end" font-family="'Liberation Sans', Arial, sans-serif" font-size="25.3" fill="#2b2b2b" stroke="#2b2b2b" stroke-width="0.8">700</text>
<line x1="476.1" x2="476.1" y1="1212.2" y2="1221.3" stroke="#222" stroke-width="3.6"/>
<text x="476.1" y="1248.2" text-anchor="middle" font-family="'Liberation Sans', Arial, sans-serif" font-size="25.8" fill="#2b2b2b" stroke="#2b2b2b" stroke-width="0.8">2020</text>
<line x1="559.8" x2="559.8" y1="1212.2" y2="1221.3" stroke="#222" stroke-width="3.6"/>
<text x="559.8" y="1248.2" text-anchor="middle" font-family="'Liberation Sans', Arial, sans-serif" font-size="25.8" fill="#2b2b2b" stroke="#2b2b2b" stroke-width="0.8">2030</text>
<line x1="643.5" x2="643.5" y1="1212.2" y2="1221.3" stroke="#222" stroke-width="3.6"/>
<text x="643.5" y="1248.2" text-anchor="middle" font-family="'Liberation Sans', Arial, sans-serif" font-size="25.8" fill="#2b2b2b" stroke="#2b2b2b" stroke-width="0.8">2040</text>
<line x1="727.2" x2="727.2" y1="1212.2" y2="1221.3" stroke="#222" stroke-width="3.6"/>
<text x="727.2" y="1248.2" text-anchor="middle" font-family="'Liberation Sans', Arial, sans-serif" font-size="25.8" fill="#2b2b2b" stroke="#2b2b2b" stroke-width="0.8">2050</text>
<rect x="828.7" y="921.3" width="275.5" height="101.6" fill="#D9D9D9"/>
<text x="966.45" y="958.2" text-anchor="middle" font-family="'Liberation Sans', Arial, sans-serif" font-size="26" fill="#111" stroke="#111" stroke-width="1.0">Zero-carbon option</text>
<text x="966.45" y="1009.4" text-anchor="middle" font-family="'Liberation Sans', Arial, sans-serif" font-size="26" fill="#111" stroke="#111" stroke-width="1.0">North America</text>
<clipPath id="cp17"><rect x="828.6" y="1025.8" width="274.8" height="186.9"/></clipPath>
<rect x="828.6" y="1025.8" width="274.8" height="186.9" fill="#fff"/>
<line x1="828.6" x2="1103.4" y1="1025.8" y2="1025.8" stroke="#000" stroke-width="1.7"/>
<line x1="827.1" x2="1104.9" y1="1212.7" y2="1212.7" stroke="#000" stroke-width="4.2"/>
<line x1="828.6" x2="828.6" y1="1025" y2="1214.7" stroke="#000" stroke-width="3.7"/>
<line x1="1103.4" x2="1103.4" y1="1025" y2="1214.7" stroke="#000" stroke-width="3.4"/>
<line x1="828.1" x2="1103.9" y1="1197.82" y2="1197.82" stroke="#BEBEBE" stroke-width="3.8"/>
<line x1="828.1" x2="1103.9" y1="1174.1" y2="1174.1" stroke="#BEBEBE" stroke-width="3.8"/>
<line x1="828.1" x2="1103.9" y1="1150.38" y2="1150.38" stroke="#BEBEBE" stroke-width="3.8"/>
<line x1="828.1" x2="1103.9" y1="1126.67" y2="1126.67" stroke="#BEBEBE" stroke-width="3.8"/>
<line x1="828.1" x2="1103.9" y1="1102.95" y2="1102.95" stroke="#BEBEBE" stroke-width="3.8"/>
<line x1="828.1" x2="1103.9" y1="1079.23" y2="1079.23" stroke="#BEBEBE" stroke-width="3.8"/>
<line x1="828.1" x2="1103.9" y1="1055.52" y2="1055.52" stroke="#BEBEBE" stroke-width="3.8"/>
<line x1="828.1" x2="1103.9" y1="1031.8" y2="1031.8" stroke="#BEBEBE" stroke-width="3.8"/>
<line x1="840.7" x2="840.7" y1="1024.8" y2="1213.7" stroke="#BEBEBE" stroke-width="3.3"/>
<line x1="882.55" x2="882.55" y1="1024.8" y2="1213.7" stroke="#BEBEBE" stroke-width="3.3"/>
<line x1="924.4" x2="924.4" y1="1024.8" y2="1213.7" stroke="#BEBEBE" stroke-width="3.3"/>
<line x1="966.25" x2="966.25" y1="1024.8" y2="1213.7" stroke="#BEBEBE" stroke-width="3.3"/>
<line x1="1008.1" x2="1008.1" y1="1024.8" y2="1213.7" stroke="#BEBEBE" stroke-width="3.3"/>
<line x1="1049.95" x2="1049.95" y1="1024.8" y2="1213.7" stroke="#BEBEBE" stroke-width="3.3"/>
<line x1="1091.8" x2="1091.8" y1="1024.8" y2="1213.7" stroke="#BEBEBE" stroke-width="3.3"/>
<path d="M840.7,1197.4 L1091.8,1197.4" fill="none" stroke="#FF7F0E" stroke-width="6.0" stroke-linejoin="round" clip-path="url(#cp17)"/>
<path d="M916.03,1033 L920.22,1034.56 L924.4,1036.1 L928.59,1037.63 L932.77,1039.14 L936.96,1040.64 L941.14,1042.12 L945.33,1043.59 L949.51,1045.04 L953.7,1046.47 L957.88,1047.89 L962.07,1049.3 L966.25,1050.68 L970.44,1052.06 L974.62,1053.41 L978.81,1054.76 L982.99,1056.08 L987.18,1057.39 L991.36,1058.69 L995.55,1059.97 L999.73,1061.23 L1003.91,1062.48 L1008.1,1063.71 L1012.29,1064.93 L1016.47,1066.13 L1020.65,1067.32 L1024.84,1068.49 L1029.03,1069.64 L1033.21,1070.78 L1037.39,1071.91 L1041.58,1073.02 L1045.77,1074.11 L1049.95,1075.19 L1054.13,1076.25 L1058.32,1077.3 L1062.51,1078.33 L1066.69,1079.34 L1070.88,1080.34 L1075.06,1081.33 L1079.25,1082.3 L1083.43,1083.25 L1087.62,1084.19 L1091.8,1085.11" fill="none" stroke="#D62728" stroke-width="6.0" stroke-linejoin="round" clip-path="url(#cp17)"/>
<path d="M916.03,1122.91 L920.22,1123.53 L924.4,1124.15 L928.59,1124.76 L932.77,1125.37 L936.96,1125.98 L941.14,1126.58 L945.33,1127.18 L949.51,1127.77 L953.7,1128.35 L957.88,1128.94 L962.07,1129.52 L966.25,1130.09 L970.44,1130.66 L974.62,1131.22 L978.81,1131.78 L982.99,1132.34 L987.18,1132.89 L991.36,1133.44 L995.55,1133.98 L999.73,1134.52 L1003.91,1135.06 L1008.1,1135.58 L1012.29,1136.11 L1016.47,1136.63 L1020.65,1137.15 L1024.84,1137.66 L1029.03,1138.16 L1033.21,1138.67 L1037.39,1139.17 L1041.58,1139.66 L1045.77,1140.15 L1049.95,1140.63 L1054.13,1141.11 L1058.32,1141.59 L1062.51,1142.06 L1066.69,1142.53 L1070.88,1142.99 L1075.06,1143.45 L1079.25,1143.9 L1083.43,1144.35 L1087.62,1144.8 L1091.8,1145.24" fill="none" stroke="#9467BD" stroke-width="6.0" stroke-linejoin="round" clip-path="url(#cp17)"/>
<path d="M916.03,1156.2 L920.22,1156.69 L924.4,1157.18 L928.59,1157.66 L932.77,1158.14 L936.96,1158.62 L941.14,1159.1 L945.33,1159.57 L949.51,1160.04 L953.7,1160.51 L957.88,1160.98 L962.07,1161.45 L966.25,1161.91 L970.44,1162.38 L974.62,1162.84 L978.81,1163.3 L982.99,1163.75 L987.18,1164.21 L991.36,1164.66 L995.55,1165.11 L999.73,1165.56 L1003.91,1166.01 L1008.1,1166.46 L1012.29,1166.9 L1016.47,1167.34 L1020.65,1167.78 L1024.84,1168.22 L1029.03,1168.65 L1033.21,1169.09 L1037.39,1169.52 L1041.58,1169.95 L1045.77,1170.37 L1049.95,1170.8 L1054.13,1171.22 L1058.32,1171.65 L1062.51,1172.07 L1066.69,1172.48 L1070.88,1172.9 L1075.06,1173.31 L1079.25,1173.72 L1083.43,1174.13 L1087.62,1174.54 L1091.8,1174.95" fill="none" stroke="#8C564B" stroke-width="6.0" stroke-linejoin="round" clip-path="url(#cp17)"/>
<path d="M916.03,1179.41 L920.22,1180.14 L924.4,1180.87 L928.59,1181.58 L932.77,1182.29 L936.96,1182.99 L941.14,1183.67 L945.33,1184.35 L949.51,1185.03 L953.7,1185.69 L957.88,1186.34 L962.07,1186.99 L966.25,1187.62 L970.44,1188.25 L974.62,1188.87 L978.81,1189.47 L982.99,1190.07 L987.18,1190.67 L991.36,1191.25 L995.55,1191.82 L999.73,1192.39 L1003.91,1192.94 L1008.1,1193.49 L1012.29,1194.03 L1016.47,1194.55 L1020.65,1195.07 L1024.84,1195.58 L1029.03,1196.09 L1033.21,1196.58 L1037.39,1197.06 L1041.58,1197.54 L1045.77,1198.01 L1049.95,1198.46 L1054.13,1198.91 L1058.32,1199.35 L1062.51,1199.78 L1066.69,1200.21 L1070.88,1200.62 L1075.06,1201.02 L1079.25,1201.42 L1083.43,1201.81 L1087.62,1202.18 L1091.8,1202.55" fill="none" stroke="#E377C2" stroke-width="6.0" stroke-linejoin="round" clip-path="url(#cp17)"/>
<path d="M890.92,1141.66 L895.11,1142.44 L899.29,1143.2 L903.48,1143.95 L907.66,1144.7 L911.85,1145.43 L916.03,1146.15 L920.22,1146.87 L924.4,1147.57 L928.59,1148.26 L932.77,1148.95 L936.96,1149.62 L941.14,1150.28 L945.33,1150.94 L949.51,1151.58 L953.7,1152.22 L957.88,1152.84 L962.07,1153.45 L966.25,1154.06 L970.44,1154.65 L974.62,1155.23 L978.81,1155.81 L982.99,1156.37 L987.18,1156.93 L991.36,1157.47 L995.55,1158 L999.73,1158.53 L1003.91,1159.04 L1008.1,1159.55 L1012.29,1160.04 L1016.47,1160.52 L1020.65,1161 L1024.84,1161.46 L1029.03,1161.92 L1033.21,1162.36 L1037.39,1162.79 L1041.58,1163.22 L1045.77,1163.63 L1049.95,1164.04 L1054.13,1164.43 L1058.32,1164.81 L1062.51,1165.19 L1066.69,1165.55 L1070.88,1165.91 L1075.06,1166.25 L1079.25,1166.59 L1083.43,1166.91 L1087.62,1167.22 L1091.8,1167.53" fill="none" stroke="#7F7F7F" stroke-width="6.0" stroke-linejoin="round" clip-path="url(#cp17)"/>
<path d="M932.77,1135.59 L936.96,1137.14 L941.14,1138.65 L945.33,1140.12 L949.51,1141.55 L953.7,1142.95 L957.88,1144.3 L962.07,1145.62 L966.25,1146.9 L970.44,1148.14 L974.62,1149.35 L978.81,1150.52 L982.99,1151.65 L987.18,1152.74 L991.36,1153.79 L995.55,1154.81 L999.73,1155.78 L1003.91,1156.72 L1008.1,1157.63 L1012.29,1158.49 L1016.47,1159.32 L1020.65,1160.11 L1024.84,1160.86 L1029.03,1161.57 L1033.21,1162.24 L1037.39,1162.88 L1041.58,1163.48 L1045.77,1164.04 L1049.95,1164.56 L1054.13,1165.05 L1058.32,1165.5 L1062.51,1165.91 L1066.69,1166.28 L1070.88,1166.61 L1075.06,1166.91 L1079.25,1167.17 L1083.43,1167.39 L1087.62,1167.57 L1091.8,1167.71" fill="none" stroke="#BCBD22" stroke-width="6.0" stroke-linejoin="round" clip-path="url(#cp17)"/>
<path d="M932.77,1144.47 L936.96,1145.74 L941.14,1146.99 L945.33,1148.2 L949.51,1149.38 L953.7,1150.54 L957.88,1151.65 L962.07,1152.74 L966.25,1153.8 L970.44,1154.83 L974.62,1155.82 L978.81,1156.78 L982.99,1157.71 L987.18,1158.61 L991.36,1159.48 L995.55,1160.32 L999.73,1161.13 L1003.91,1161.9 L1008.1,1162.65 L1012.29,1163.36 L1016.47,1164.04 L1020.65,1164.69 L1024.84,1165.31 L1029.03,1165.89 L1033.21,1166.45 L1037.39,1166.97 L1041.58,1167.46 L1045.77,1167.93 L1049.95,1168.36 L1054.13,1168.75 L1058.32,1169.12 L1062.51,1169.46 L1066.69,1169.76 L1070.88,1170.04 L1075.06,1170.28 L1079.25,1170.49 L1083.43,1170.67 L1087.62,1170.82 L1091.8,1170.93" fill="none" stroke="#98DF8A" stroke-width="6.0" stroke-linejoin="round" clip-path="url(#cp17)"/>
<path d="M840.7,1154.68 L844.88,1155.35 L849.07,1156 L853.25,1156.65 L857.44,1157.3 L861.62,1157.94 L865.81,1158.57 L870,1159.19 L874.18,1159.81 L878.37,1160.42 L882.55,1161.03 L886.74,1161.63 L890.92,1162.22 L895.11,1162.8 L899.29,1163.38 L903.48,1163.95 L907.66,1164.52 L911.85,1165.08 L916.03,1165.63 L920.22,1166.18 L924.4,1166.71 L928.59,1167.25 L932.77,1167.77 L936.96,1168.29 L941.14,1168.8 L945.33,1169.31 L949.51,1169.81 L953.7,1170.3 L957.88,1170.79 L962.07,1171.27 L966.25,1171.74 L970.44,1172.2 L974.62,1172.66 L978.81,1173.12 L982.99,1173.56 L987.18,1174 L991.36,1174.43 L995.55,1174.86 L999.73,1175.28 L1003.91,1175.69 L1008.1,1176.1 L1012.29,1176.5 L1016.47,1176.89 L1020.65,1177.28 L1024.84,1177.66 L1029.03,1178.03 L1033.21,1178.4 L1037.39,1178.76 L1041.58,1179.11 L1045.77,1179.46 L1049.95,1179.8 L1054.13,1180.13 L1058.32,1180.46 L1062.51,1180.78 L1066.69,1181.09 L1070.88,1181.4 L1075.06,1181.7 L1079.25,1182 L1083.43,1182.28 L1087.62,1182.56 L1091.8,1182.84" fill="none" stroke="#FF9896" stroke-width="6.0" stroke-linejoin="round" clip-path="url(#cp17)"/>
<line x1="819.7" x2="828.7" y1="1174.1" y2="1174.1" stroke="#222" stroke-width="3.4"/>
<text x="813.1" y="1184.6" text-anchor="end" font-family="'Liberation Sans', Arial, sans-serif" font-size="25.3" fill="#2b2b2b" stroke="#2b2b2b" stroke-width="0.8">600</text>
<line x1="819.7" x2="828.7" y1="1126.67" y2="1126.67" stroke="#222" stroke-width="3.4"/>
<text x="813.1" y="1137.17" text-anchor="end" font-family="'Liberation Sans', Arial, sans-serif" font-size="25.3" fill="#2b2b2b" stroke="#2b2b2b" stroke-width="0.8">700</text>
<line x1="819.7" x2="828.7" y1="1079.23" y2="1079.23" stroke="#222" stroke-width="3.4"/>
<text x="813.1" y="1089.73" text-anchor="end" font-family="'Liberation Sans', Arial, sans-serif" font-size="25.3" fill="#2b2b2b" stroke="#2b2b2b" stroke-width="0.8">800</text>
<line x1="819.7" x2="828.7" y1="1031.8" y2="1031.8" stroke="#222" stroke-width="3.4"/>
<text x="813.1" y="1042.3" text-anchor="end" font-family="'Liberation Sans', Arial, sans-serif" font-size="25.3" fill="#2b2b2b" stroke="#2b2b2b" stroke-width="0.8">900</text>
<line x1="840.7" x2="840.7" y1="1212.2" y2="1221.3" stroke="#222" stroke-width="3.6"/>
<text x="840.7" y="1248.2" text-anchor="middle" font-family="'Liberation Sans', Arial, sans-serif" font-size="25.8" fill="#2b2b2b" stroke="#2b2b2b" stroke-width="0.8">2020</text>
<line x1="924.4" x2="924.4" y1="1212.2" y2="1221.3" stroke="#222" stroke-width="3.6"/>
<text x="924.4" y="1248.2" text-anchor="middle" font-family="'Liberation Sans', Arial, sans-serif" font-size="25.8" fill="#2b2b2b" stroke="#2b2b2b" stroke-width="0.8">2030</text>
<line x1="1008.1" x2="1008.1" y1="1212.2" y2="1221.3" stroke="#222" stroke-width="3.6"/>
<text x="1008.1" y="1248.2" text-anchor="middle" font-family="'Liberation Sans', Arial, sans-serif" font-size="25.8" fill="#2b2b2b" stroke="#2b2b2b" stroke-width="0.8">2040</text>
<line x1="1091.8" x2="1091.8" y1="1212.2" y2="1221.3" stroke="#222" stroke-width="3.6"/>
<text x="1091.8" y="1248.2" text-anchor="middle" font-family="'Liberation Sans', Arial, sans-serif" font-size="25.8" fill="#2b2b2b" stroke="#2b2b2b" stroke-width="0.8">2050</text>
<rect x="1179.1" y="921.3" width="275.5" height="101.6" fill="#D9D9D9"/>
<text x="1316.85" y="958.2" text-anchor="middle" font-family="'Liberation Sans', Arial, sans-serif" font-size="26" fill="#111" stroke="#111" stroke-width="1.0">Zero-carbon option</text>
<text x="1316.85" y="1009.4" text-anchor="middle" font-family="'Liberation Sans', Arial, sans-serif" font-size="26" fill="#111" stroke="#111" stroke-width="1.0">Other Asia and Pacific</text>
<clipPath id="cp18"><rect x="1179" y="1025.8" width="274.8" height="186.9"/></clipPath>
<rect x="1179" y="1025.8" width="274.8" height="186.9" fill="#fff"/>
<rect x="1179.1" y="1022.4" width="275.5" height="3.4" fill="#D9D9D9"/>
<line x1="1177.5" x2="1455.3" y1="1212.7" y2="1212.7" stroke="#000" stroke-width="4.2"/>
<line x1="1179" x2="1179" y1="1025" y2="1214.7" stroke="#000" stroke-width="3.7"/>
<line x1="1453.8" x2="1453.8" y1="1025" y2="1214.7" stroke="#000" stroke-width="3.4"/>
<line x1="1178.5" x2="1454.3" y1="1210.08" y2="1210.08" stroke="#BEBEBE" stroke-width="3.8"/>
<line x1="1178.5" x2="1454.3" y1="1193.4" y2="1193.4" stroke="#BEBEBE" stroke-width="3.8"/>
<line x1="1178.5" x2="1454.3" y1="1176.72" y2="1176.72" stroke="#BEBEBE" stroke-width="3.8"/>
<line x1="1178.5" x2="1454.3" y1="1160.04" y2="1160.04" stroke="#BEBEBE" stroke-width="3.8"/>
<line x1="1178.5" x2="1454.3" y1="1143.36" y2="1143.36" stroke="#BEBEBE" stroke-width="3.8"/>
<line x1="1178.5" x2="1454.3" y1="1126.68" y2="1126.68" stroke="#BEBEBE" stroke-width="3.8"/>
<line x1="1178.5" x2="1454.3" y1="1110" y2="1110" stroke="#BEBEBE" stroke-width="3.8"/>
<line x1="1178.5" x2="1454.3" y1="1093.32" y2="1093.32" stroke="#BEBEBE" stroke-width="3.8"/>
<line x1="1178.5" x2="1454.3" y1="1076.64" y2="1076.64" stroke="#BEBEBE" stroke-width="3.8"/>
<line x1="1178.5" x2="1454.3" y1="1059.96" y2="1059.96" stroke="#BEBEBE" stroke-width="3.8"/>
<line x1="1178.5" x2="1454.3" y1="1043.28" y2="1043.28" stroke="#BEBEBE" stroke-width="3.8"/>
<line x1="1178.5" x2="1454.3" y1="1026.6" y2="1026.6" stroke="#BEBEBE" stroke-width="3.8"/>
<line x1="1191.1" x2="1191.1" y1="1024.8" y2="1213.7" stroke="#BEBEBE" stroke-width="3.3"/>
<line x1="1232.95" x2="1232.95" y1="1024.8" y2="1213.7" stroke="#BEBEBE" stroke-width="3.3"/>
<line x1="1274.8" x2="1274.8" y1="1024.8" y2="1213.7" stroke="#BEBEBE" stroke-width="3.3"/>
<line x1="1316.65" x2="1316.65" y1="1024.8" y2="1213.7" stroke="#BEBEBE" stroke-width="3.3"/>
<line x1="1358.5" x2="1358.5" y1="1024.8" y2="1213.7" stroke="#BEBEBE" stroke-width="3.3"/>
<line x1="1400.35" x2="1400.35" y1="1024.8" y2="1213.7" stroke="#BEBEBE" stroke-width="3.3"/>
<line x1="1442.2" x2="1442.2" y1="1024.8" y2="1213.7" stroke="#BEBEBE" stroke-width="3.3"/>
<path d="M1191.1,1202.9 L1442.2,1202.9" fill="none" stroke="#FF7F0E" stroke-width="6.0" stroke-linejoin="round" clip-path="url(#cp18)"/>
<path d="M1266.43,1031.92 L1270.61,1033.8 L1274.8,1035.66 L1278.98,1037.5 L1283.17,1039.33 L1287.36,1041.13 L1291.54,1042.92 L1295.72,1044.68 L1299.91,1046.43 L1304.09,1048.16 L1308.28,1049.87 L1312.46,1051.56 L1316.65,1053.24 L1320.83,1054.89 L1325.02,1056.52 L1329.2,1058.14 L1333.39,1059.74 L1337.57,1061.32 L1341.76,1062.88 L1345.94,1064.42 L1350.13,1065.94 L1354.31,1067.44 L1358.5,1068.92 L1362.68,1070.39 L1366.87,1071.83 L1371.05,1073.26 L1375.24,1074.67 L1379.42,1076.06 L1383.61,1077.43 L1387.79,1078.78 L1391.98,1080.12 L1396.16,1081.43 L1400.35,1082.72 L1404.53,1084 L1408.72,1085.26 L1412.9,1086.5 L1417.09,1087.72 L1421.27,1088.92 L1425.46,1090.1 L1429.64,1091.26 L1433.83,1092.41 L1438.01,1093.53 L1442.2,1094.64" fill="none" stroke="#D62728" stroke-width="6.0" stroke-linejoin="round" clip-path="url(#cp18)"/>
<path d="M1266.43,1119.09 L1270.61,1120.34 L1274.8,1121.58 L1278.98,1122.8 L1283.17,1124 L1287.36,1125.19 L1291.54,1126.35 L1295.72,1127.51 L1299.91,1128.64 L1304.09,1129.76 L1308.28,1130.87 L1312.46,1131.95 L1316.65,1133.02 L1320.83,1134.07 L1325.02,1135.11 L1329.2,1136.13 L1333.39,1137.13 L1337.57,1138.12 L1341.76,1139.09 L1345.94,1140.04 L1350.13,1140.98 L1354.31,1141.9 L1358.5,1142.8 L1362.68,1143.69 L1366.87,1144.56 L1371.05,1145.42 L1375.24,1146.25 L1379.42,1147.07 L1383.61,1147.88 L1387.79,1148.66 L1391.98,1149.43 L1396.16,1150.19 L1400.35,1150.92 L1404.53,1151.65 L1408.72,1152.35 L1412.9,1153.04 L1417.09,1153.71 L1421.27,1154.36 L1425.46,1155 L1429.64,1155.62 L1433.83,1156.22 L1438.01,1156.81 L1442.2,1157.38" fill="none" stroke="#9467BD" stroke-width="6.0" stroke-linejoin="round" clip-path="url(#cp18)"/>
<path d="M1266.43,1170.81 L1270.61,1171.74 L1274.8,1172.66 L1278.98,1173.56 L1283.17,1174.46 L1287.36,1175.35 L1291.54,1176.23 L1295.72,1177.09 L1299.91,1177.95 L1304.09,1178.79 L1308.28,1179.62 L1312.46,1180.45 L1316.65,1181.26 L1320.83,1182.06 L1325.02,1182.85 L1329.2,1183.63 L1333.39,1184.4 L1337.57,1185.16 L1341.76,1185.9 L1345.94,1186.64 L1350.13,1187.37 L1354.31,1188.08 L1358.5,1188.79 L1362.68,1189.48 L1366.87,1190.17 L1371.05,1190.84 L1375.24,1191.5 L1379.42,1192.15 L1383.61,1192.79 L1387.79,1193.42 L1391.98,1194.04 L1396.16,1194.65 L1400.35,1195.25 L1404.53,1195.84 L1408.72,1196.41 L1412.9,1196.98 L1417.09,1197.53 L1421.27,1198.08 L1425.46,1198.61 L1429.64,1199.13 L1433.83,1199.65 L1438.01,1200.15 L1442.2,1200.64" fill="none" stroke="#8C564B" stroke-width="6.0" stroke-linejoin="round" clip-path="url(#cp18)"/>
<path d="M1266.43,1153.57 L1270.61,1154.8 L1274.8,1156.02 L1278.98,1157.22 L1283.17,1158.41 L1287.36,1159.58 L1291.54,1160.74 L1295.72,1161.88 L1299.91,1163.01 L1304.09,1164.12 L1308.28,1165.22 L1312.46,1166.3 L1316.65,1167.37 L1320.83,1168.42 L1325.02,1169.46 L1329.2,1170.49 L1333.39,1171.5 L1337.57,1172.5 L1341.76,1173.48 L1345.94,1174.44 L1350.13,1175.39 L1354.31,1176.33 L1358.5,1177.25 L1362.68,1178.16 L1366.87,1179.05 L1371.05,1179.93 L1375.24,1180.79 L1379.42,1181.64 L1383.61,1182.48 L1387.79,1183.3 L1391.98,1184.1 L1396.16,1184.89 L1400.35,1185.67 L1404.53,1186.43 L1408.72,1187.17 L1412.9,1187.91 L1417.09,1188.62 L1421.27,1189.32 L1425.46,1190.01 L1429.64,1190.68 L1433.83,1191.34 L1438.01,1191.99 L1442.2,1192.61" fill="none" stroke="#E377C2" stroke-width="6.0" stroke-linejoin="round" clip-path="url(#cp18)"/>
<path d="M1241.32,1132.9 L1245.5,1134.36 L1249.69,1135.8 L1253.88,1137.22 L1258.06,1138.63 L1262.24,1140.02 L1266.43,1141.39 L1270.61,1142.74 L1274.8,1144.08 L1278.98,1145.4 L1283.17,1146.71 L1287.36,1148 L1291.54,1149.27 L1295.72,1150.53 L1299.91,1151.76 L1304.09,1152.99 L1308.28,1154.19 L1312.46,1155.38 L1316.65,1156.55 L1320.83,1157.71 L1325.02,1158.85 L1329.2,1159.97 L1333.39,1161.07 L1337.57,1162.16 L1341.76,1163.23 L1345.94,1164.29 L1350.13,1165.32 L1354.31,1166.35 L1358.5,1167.35 L1362.68,1168.34 L1366.87,1169.31 L1371.05,1170.26 L1375.24,1171.2 L1379.42,1172.12 L1383.61,1173.03 L1387.79,1173.91 L1391.98,1174.79 L1396.16,1175.64 L1400.35,1176.48 L1404.53,1177.3 L1408.72,1178.1 L1412.9,1178.89 L1417.09,1179.66 L1421.27,1180.41 L1425.46,1181.15 L1429.64,1181.87 L1433.83,1182.58 L1438.01,1183.26 L1442.2,1183.93" fill="none" stroke="#7F7F7F" stroke-width="6.0" stroke-linejoin="round" clip-path="url(#cp18)"/>
<path d="M1283.17,1142.44 L1287.36,1144.89 L1291.54,1147.28 L1295.72,1149.62 L1299.91,1151.9 L1304.09,1154.12 L1308.28,1156.28 L1312.46,1158.38 L1316.65,1160.43 L1320.83,1162.42 L1325.02,1164.35 L1329.2,1166.22 L1333.39,1168.04 L1337.57,1169.8 L1341.76,1171.5 L1345.94,1173.14 L1350.13,1174.72 L1354.31,1176.25 L1358.5,1177.72 L1362.68,1179.13 L1366.87,1180.48 L1371.05,1181.78 L1375.24,1183.02 L1379.42,1184.2 L1383.61,1185.32 L1387.79,1186.39 L1391.98,1187.39 L1396.16,1188.34 L1400.35,1189.23 L1404.53,1190.07 L1408.72,1190.84 L1412.9,1191.56 L1417.09,1192.22 L1421.27,1192.83 L1425.46,1193.37 L1429.64,1193.86 L1433.83,1194.29 L1438.01,1194.66 L1442.2,1194.97" fill="none" stroke="#BCBD22" stroke-width="6.0" stroke-linejoin="round" clip-path="url(#cp18)"/>
<path d="M1283.17,1057.05 L1287.36,1059.03 L1291.54,1060.98 L1295.72,1062.87 L1299.91,1064.71 L1304.09,1066.5 L1308.28,1068.25 L1312.46,1069.94 L1316.65,1071.59 L1320.83,1073.19 L1325.02,1074.74 L1329.2,1076.24 L1333.39,1077.69 L1337.57,1079.09 L1341.76,1080.45 L1345.94,1081.75 L1350.13,1083.01 L1354.31,1084.22 L1358.5,1085.38 L1362.68,1086.49 L1366.87,1087.55 L1371.05,1088.56 L1375.24,1089.52 L1379.42,1090.44 L1383.61,1091.31 L1387.79,1092.12 L1391.98,1092.89 L1396.16,1093.61 L1400.35,1094.28 L1404.53,1094.9 L1408.72,1095.48 L1412.9,1096 L1417.09,1096.48 L1421.27,1096.9 L1425.46,1097.28 L1429.64,1097.61 L1433.83,1097.89 L1438.01,1098.12 L1442.2,1098.31" fill="none" stroke="#98DF8A" stroke-width="6.0" stroke-linejoin="round" clip-path="url(#cp18)"/>
<path d="M1191.1,1046.64 L1195.28,1047.8 L1199.47,1048.95 L1203.65,1050.09 L1207.84,1051.21 L1212.02,1052.32 L1216.21,1053.42 L1220.39,1054.51 L1224.58,1055.58 L1228.76,1056.64 L1232.95,1057.69 L1237.13,1058.72 L1241.32,1059.74 L1245.5,1060.75 L1249.69,1061.75 L1253.88,1062.73 L1258.06,1063.7 L1262.24,1064.66 L1266.43,1065.6 L1270.61,1066.54 L1274.8,1067.46 L1278.98,1068.36 L1283.17,1069.26 L1287.36,1070.14 L1291.54,1071.01 L1295.72,1071.87 L1299.91,1072.71 L1304.09,1073.54 L1308.28,1074.36 L1312.46,1075.16 L1316.65,1075.96 L1320.83,1076.74 L1325.02,1077.5 L1329.2,1078.26 L1333.39,1079 L1337.57,1079.73 L1341.76,1080.45 L1345.94,1081.15 L1350.13,1081.84 L1354.31,1082.52 L1358.5,1083.19 L1362.68,1083.84 L1366.87,1084.48 L1371.05,1085.11 L1375.24,1085.72 L1379.42,1086.32 L1383.61,1086.91 L1387.79,1087.49 L1391.98,1088.05 L1396.16,1088.6 L1400.35,1089.14 L1404.53,1089.67 L1408.72,1090.18 L1412.9,1090.68 L1417.09,1091.17 L1421.27,1091.64 L1425.46,1092.11 L1429.64,1092.56 L1433.83,1092.99 L1438.01,1093.42 L1442.2,1093.83" fill="none" stroke="#FF9896" stroke-width="6.0" stroke-linejoin="round" clip-path="url(#cp18)"/>
<line x1="1170.1" x2="1179.1" y1="1193.4" y2="1193.4" stroke="#222" stroke-width="3.4"/>
<text x="1163.5" y="1203.9" text-anchor="end" font-family="'Liberation Sans', Arial, sans-serif" font-size="25.3" fill="#2b2b2b" stroke="#2b2b2b" stroke-width="0.8">600</text>
<line x1="1170.1" x2="1179.1" y1="1160.04" y2="1160.04" stroke="#222" stroke-width="3.4"/>
<text x="1163.5" y="1170.54" text-anchor="end" font-family="'Liberation Sans', Arial, sans-serif" font-size="25.3" fill="#2b2b2b" stroke="#2b2b2b" stroke-width="0.8">650</text>
<line x1="1170.1" x2="1179.1" y1="1126.68" y2="1126.68" stroke="#222" stroke-width="3.4"/>
<text x="1163.5" y="1137.18" text-anchor="end" font-family="'Liberation Sans', Arial, sans-serif" font-size="25.3" fill="#2b2b2b" stroke="#2b2b2b" stroke-width="0.8">700</text>
<line x1="1170.1" x2="1179.1" y1="1093.32" y2="1093.32" stroke="#222" stroke-width="3.4"/>
<text x="1163.5" y="1103.82" text-anchor="end" font-family="'Liberation Sans', Arial, sans-serif" font-size="25.3" fill="#2b2b2b" stroke="#2b2b2b" stroke-width="0.8">750</text>
<line x1="1170.1" x2="1179.1" y1="1059.96" y2="1059.96" stroke="#222" stroke-width="3.4"/>
<text x="1163.5" y="1070.46" text-anchor="end" font-family="'Liberation Sans', Arial, sans-serif" font-size="25.3" fill="#2b2b2b" stroke="#2b2b2b" stroke-width="0.8">800</text>
<line x1="1170.1" x2="1179.1" y1="1026.6" y2="1026.6" stroke="#222" stroke-width="3.4"/>
<text x="1163.5" y="1037.1" text-anchor="end" font-family="'Liberation Sans', Arial, sans-serif" font-size="25.3" fill="#2b2b2b" stroke="#2b2b2b" stroke-width="0.8">850</text>
<line x1="1191.1" x2="1191.1" y1="1212.2" y2="1221.3" stroke="#222" stroke-width="3.6"/>
<text x="1191.1" y="1248.2" text-anchor="middle" font-family="'Liberation Sans', Arial, sans-serif" font-size="25.8" fill="#2b2b2b" stroke="#2b2b2b" stroke-width="0.8">2020</text>
<line x1="1274.8" x2="1274.8" y1="1212.2" y2="1221.3" stroke="#222" stroke-width="3.6"/>
<text x="1274.8" y="1248.2" text-anchor="middle" font-family="'Liberation Sans', Arial, sans-serif" font-size="25.8" fill="#2b2b2b" stroke="#2b2b2b" stroke-width="0.8">2030</text>
<line x1="1358.5" x2="1358.5" y1="1212.2" y2="1221.3" stroke="#222" stroke-width="3.6"/>
<text x="1358.5" y="1248.2" text-anchor="middle" font-family="'Liberation Sans', Arial, sans-serif" font-size="25.8" fill="#2b2b2b" stroke="#2b2b2b" stroke-width="0.8">2040</text>
<line x1="1442.2" x2="1442.2" y1="1212.2" y2="1221.3" stroke="#222" stroke-width="3.6"/>
<text x="1442.2" y="1248.2" text-anchor="middle" font-family="'Liberation Sans', Arial, sans-serif" font-size="25.8" fill="#2b2b2b" stroke="#2b2b2b" stroke-width="0.8">2050</text>
<rect x="1528.8" y="921.3" width="275.5" height="101.6" fill="#D9D9D9"/>
<text x="1666.55" y="958.2" text-anchor="middle" font-family="'Liberation Sans', Arial, sans-serif" font-size="26" fill="#111" stroke="#111" stroke-width="1.0">Zero-carbon option</text>
<text x="1666.55" y="1009.4" text-anchor="middle" font-family="'Liberation Sans', Arial, sans-serif" font-size="26" fill="#111" stroke="#111" stroke-width="1.0">Other Europe and CIS</text>
<clipPath id="cp19"><rect x="1528.7" y="1025.8" width="274.8" height="186.9"/></clipPath>
<rect x="1528.7" y="1025.8" width="274.8" height="186.9" fill="#fff"/>
<line x1="1528.7" x2="1803.5" y1="1025.8" y2="1025.8" stroke="#000" stroke-width="1.7"/>
<line x1="1528.7" x2="1528.7" y1="1025" y2="1211.2" stroke="#000" stroke-width="3.7"/>
<line x1="1803.5" x2="1803.5" y1="1025" y2="1211.2" stroke="#000" stroke-width="3.4"/>
<line x1="1528.2" x2="1804" y1="1211.15" y2="1211.15" stroke="#BEBEBE" stroke-width="3.8"/>
<line x1="1528.2" x2="1804" y1="1183.58" y2="1183.58" stroke="#BEBEBE" stroke-width="3.8"/>
<line x1="1528.2" x2="1804" y1="1156" y2="1156" stroke="#BEBEBE" stroke-width="3.8"/>
<line x1="1528.2" x2="1804" y1="1128.42" y2="1128.42" stroke="#BEBEBE" stroke-width="3.8"/>
<line x1="1528.2" x2="1804" y1="1100.85" y2="1100.85" stroke="#BEBEBE" stroke-width="3.8"/>
<line x1="1528.2" x2="1804" y1="1073.28" y2="1073.28" stroke="#BEBEBE" stroke-width="3.8"/>
<line x1="1528.2" x2="1804" y1="1045.7" y2="1045.7" stroke="#BEBEBE" stroke-width="3.8"/>
<line x1="1540.8" x2="1540.8" y1="1024.8" y2="1213.7" stroke="#BEBEBE" stroke-width="3.3"/>
<line x1="1582.65" x2="1582.65" y1="1024.8" y2="1213.7" stroke="#BEBEBE" stroke-width="3.3"/>
<line x1="1624.5" x2="1624.5" y1="1024.8" y2="1213.7" stroke="#BEBEBE" stroke-width="3.3"/>
<line x1="1666.35" x2="1666.35" y1="1024.8" y2="1213.7" stroke="#BEBEBE" stroke-width="3.3"/>
<line x1="1708.2" x2="1708.2" y1="1024.8" y2="1213.7" stroke="#BEBEBE" stroke-width="3.3"/>
<line x1="1750.05" x2="1750.05" y1="1024.8" y2="1213.7" stroke="#BEBEBE" stroke-width="3.3"/>
<line x1="1791.9" x2="1791.9" y1="1024.8" y2="1213.7" stroke="#BEBEBE" stroke-width="3.3"/>
<path d="M1540.8,1173.5 L1791.9,1173.5" fill="none" stroke="#FF7F0E" stroke-width="6.0" stroke-linejoin="round" clip-path="url(#cp19)"/>
<path d="M1616.13,1033.17 L1620.32,1034.72 L1624.5,1036.25 L1628.68,1037.76 L1632.87,1039.26 L1637.05,1040.74 L1641.24,1042.2 L1645.42,1043.65 L1649.61,1045.08 L1653.79,1046.5 L1657.98,1047.9 L1662.16,1049.28 L1666.35,1050.65 L1670.53,1052 L1674.72,1053.33 L1678.9,1054.65 L1683.09,1055.95 L1687.27,1057.24 L1691.46,1058.51 L1695.64,1059.76 L1699.83,1061 L1704.01,1062.22 L1708.2,1063.43 L1712.38,1064.62 L1716.57,1065.79 L1720.75,1066.95 L1724.94,1068.09 L1729.12,1069.21 L1733.31,1070.32 L1737.49,1071.41 L1741.68,1072.48 L1745.87,1073.54 L1750.05,1074.59 L1754.23,1075.61 L1758.42,1076.62 L1762.61,1077.62 L1766.79,1078.6 L1770.97,1079.56 L1775.16,1080.5 L1779.35,1081.43 L1783.53,1082.35 L1787.71,1083.24 L1791.9,1084.12" fill="none" stroke="#D62728" stroke-width="6.0" stroke-linejoin="round" clip-path="url(#cp19)"/>
<path d="M1616.13,1074.21 L1620.32,1075.46 L1624.5,1076.68 L1628.68,1077.9 L1632.87,1079.09 L1637.05,1080.27 L1641.24,1081.43 L1645.42,1082.57 L1649.61,1083.7 L1653.79,1084.81 L1657.98,1085.9 L1662.16,1086.97 L1666.35,1088.03 L1670.53,1089.08 L1674.72,1090.1 L1678.9,1091.11 L1683.09,1092.1 L1687.27,1093.07 L1691.46,1094.03 L1695.64,1094.97 L1699.83,1095.89 L1704.01,1096.8 L1708.2,1097.69 L1712.38,1098.56 L1716.57,1099.42 L1720.75,1100.26 L1724.94,1101.08 L1729.12,1101.88 L1733.31,1102.67 L1737.49,1103.44 L1741.68,1104.2 L1745.87,1104.93 L1750.05,1105.65 L1754.23,1106.36 L1758.42,1107.04 L1762.61,1107.71 L1766.79,1108.37 L1770.97,1109 L1775.16,1109.62 L1779.35,1110.22 L1783.53,1110.81 L1787.71,1111.38 L1791.9,1111.93" fill="none" stroke="#9467BD" stroke-width="6.0" stroke-linejoin="round" clip-path="url(#cp19)"/>
<path d="M1616.13,1138.43 L1620.32,1139.19 L1624.5,1139.94 L1628.68,1140.68 L1632.87,1141.41 L1637.05,1142.13 L1641.24,1142.85 L1645.42,1143.55 L1649.61,1144.25 L1653.79,1144.94 L1657.98,1145.62 L1662.16,1146.29 L1666.35,1146.96 L1670.53,1147.61 L1674.72,1148.26 L1678.9,1148.9 L1683.09,1149.53 L1687.27,1150.15 L1691.46,1150.76 L1695.64,1151.36 L1699.83,1151.95 L1704.01,1152.54 L1708.2,1153.12 L1712.38,1153.69 L1716.57,1154.25 L1720.75,1154.8 L1724.94,1155.34 L1729.12,1155.87 L1733.31,1156.4 L1737.49,1156.92 L1741.68,1157.42 L1745.87,1157.92 L1750.05,1158.41 L1754.23,1158.9 L1758.42,1159.37 L1762.61,1159.83 L1766.79,1160.29 L1770.97,1160.74 L1775.16,1161.18 L1779.35,1161.61 L1783.53,1162.03 L1787.71,1162.44 L1791.9,1162.85" fill="none" stroke="#8C564B" stroke-width="6.0" stroke-linejoin="round" clip-path="url(#cp19)"/>
<path d="M1616.13,1139.23 L1620.32,1140.59 L1624.5,1141.92 L1628.68,1143.24 L1632.87,1144.54 L1637.05,1145.81 L1641.24,1147.07 L1645.42,1148.31 L1649.61,1149.53 L1653.79,1150.74 L1657.98,1151.92 L1662.16,1153.09 L1666.35,1154.23 L1670.53,1155.36 L1674.72,1156.47 L1678.9,1157.55 L1683.09,1158.62 L1687.27,1159.68 L1691.46,1160.71 L1695.64,1161.72 L1699.83,1162.72 L1704.01,1163.69 L1708.2,1164.65 L1712.38,1165.58 L1716.57,1166.5 L1720.75,1167.4 L1724.94,1168.28 L1729.12,1169.15 L1733.31,1169.99 L1737.49,1170.81 L1741.68,1171.62 L1745.87,1172.4 L1750.05,1173.17 L1754.23,1173.92 L1758.42,1174.65 L1762.61,1175.36 L1766.79,1176.05 L1770.97,1176.72 L1775.16,1177.37 L1779.35,1178.01 L1783.53,1178.62 L1787.71,1179.22 L1791.9,1179.8" fill="none" stroke="#E377C2" stroke-width="6.0" stroke-linejoin="round" clip-path="url(#cp19)"/>
<path d="M1591.02,1095.54 L1595.2,1097.11 L1599.39,1098.66 L1603.58,1100.18 L1607.76,1101.68 L1611.94,1103.16 L1616.13,1104.62 L1620.32,1106.05 L1624.5,1107.46 L1628.68,1108.85 L1632.87,1110.21 L1637.05,1111.55 L1641.24,1112.87 L1645.42,1114.17 L1649.61,1115.45 L1653.79,1116.7 L1657.98,1117.93 L1662.16,1119.14 L1666.35,1120.32 L1670.53,1121.48 L1674.72,1122.62 L1678.9,1123.74 L1683.09,1124.84 L1687.27,1125.91 L1691.46,1126.96 L1695.64,1127.98 L1699.83,1128.99 L1704.01,1129.97 L1708.2,1130.93 L1712.38,1131.86 L1716.57,1132.78 L1720.75,1133.67 L1724.94,1134.54 L1729.12,1135.39 L1733.31,1136.21 L1737.49,1137.01 L1741.68,1137.79 L1745.87,1138.54 L1750.05,1139.28 L1754.23,1139.99 L1758.42,1140.68 L1762.61,1141.34 L1766.79,1141.99 L1770.97,1142.61 L1775.16,1143.2 L1779.35,1143.78 L1783.53,1144.33 L1787.71,1144.86 L1791.9,1145.37" fill="none" stroke="#7F7F7F" stroke-width="6.0" stroke-linejoin="round" clip-path="url(#cp19)"/>
<path d="M1632.87,1107.26 L1637.05,1109.53 L1641.24,1111.75 L1645.42,1113.92 L1649.61,1116.03 L1653.79,1118.09 L1657.98,1120.1 L1662.16,1122.06 L1666.35,1123.96 L1670.53,1125.81 L1674.72,1127.61 L1678.9,1129.35 L1683.09,1131.05 L1687.27,1132.69 L1691.46,1134.27 L1695.64,1135.81 L1699.83,1137.29 L1704.01,1138.72 L1708.2,1140.1 L1712.38,1141.42 L1716.57,1142.7 L1720.75,1143.92 L1724.94,1145.08 L1729.12,1146.2 L1733.31,1147.26 L1737.49,1148.27 L1741.68,1149.22 L1745.87,1150.13 L1750.05,1150.98 L1754.23,1151.78 L1758.42,1152.53 L1762.61,1153.22 L1766.79,1153.86 L1770.97,1154.45 L1775.16,1154.98 L1779.35,1155.47 L1783.53,1155.9 L1787.71,1156.28 L1791.9,1156.6" fill="none" stroke="#BCBD22" stroke-width="6.0" stroke-linejoin="round" clip-path="url(#cp19)"/>
<path d="M1632.87,1146.84 L1637.05,1148.81 L1641.24,1150.73 L1645.42,1152.59 L1649.61,1154.41 L1653.79,1156.17 L1657.98,1157.87 L1662.16,1159.53 L1666.35,1161.13 L1670.53,1162.68 L1674.72,1164.18 L1678.9,1165.62 L1683.09,1167.02 L1687.27,1168.36 L1691.46,1169.65 L1695.64,1170.88 L1699.83,1172.07 L1704.01,1173.2 L1708.2,1174.28 L1712.38,1175.3 L1716.57,1176.28 L1720.75,1177.2 L1724.94,1178.07 L1729.12,1178.89 L1733.31,1179.65 L1737.49,1180.36 L1741.68,1181.02 L1745.87,1181.63 L1750.05,1182.19 L1754.23,1182.69 L1758.42,1183.14 L1762.61,1183.54 L1766.79,1183.89 L1770.97,1184.18 L1775.16,1184.42 L1779.35,1184.61 L1783.53,1184.74 L1787.71,1184.83 L1791.9,1184.86" fill="none" stroke="#98DF8A" stroke-width="6.0" stroke-linejoin="round" clip-path="url(#cp19)"/>
<path d="M1540.8,1155.87 L1544.98,1156.98 L1549.17,1158.07 L1553.36,1159.16 L1557.54,1160.23 L1561.72,1161.29 L1565.91,1162.34 L1570.1,1163.38 L1574.28,1164.41 L1578.46,1165.43 L1582.65,1166.44 L1586.84,1167.44 L1591.02,1168.43 L1595.2,1169.41 L1599.39,1170.37 L1603.58,1171.33 L1607.76,1172.27 L1611.94,1173.21 L1616.13,1174.13 L1620.32,1175.04 L1624.5,1175.94 L1628.68,1176.83 L1632.87,1177.71 L1637.05,1178.58 L1641.24,1179.44 L1645.42,1180.29 L1649.61,1181.13 L1653.79,1181.96 L1657.98,1182.77 L1662.16,1183.58 L1666.35,1184.37 L1670.53,1185.16 L1674.72,1185.93 L1678.9,1186.69 L1683.09,1187.44 L1687.27,1188.18 L1691.46,1188.91 L1695.64,1189.63 L1699.83,1190.34 L1704.01,1191.04 L1708.2,1191.73 L1712.38,1192.41 L1716.57,1193.07 L1720.75,1193.73 L1724.94,1194.37 L1729.12,1195.01 L1733.31,1195.63 L1737.49,1196.24 L1741.68,1196.84 L1745.87,1197.43 L1750.05,1198.01 L1754.23,1198.58 L1758.42,1199.14 L1762.61,1199.69 L1766.79,1200.23 L1770.97,1200.76 L1775.16,1201.27 L1779.35,1201.78 L1783.53,1202.27 L1787.71,1202.76 L1791.9,1203.23" fill="none" stroke="#FF9896" stroke-width="6.0" stroke-linejoin="round" clip-path="url(#cp19)"/>
<line x1="1519.8" x2="1528.8" y1="1211.15" y2="1211.15" stroke="#222" stroke-width="3.4"/>
<text x="1513.2" y="1221.65" text-anchor="end" font-family="'Liberation Sans', Arial, sans-serif" font-size="25.3" fill="#2b2b2b" stroke="#2b2b2b" stroke-width="0.8">500</text>
<line x1="1519.8" x2="1528.8" y1="1156" y2="1156" stroke="#222" stroke-width="3.4"/>
<text x="1513.2" y="1166.5" text-anchor="end" font-family="'Liberation Sans', Arial, sans-serif" font-size="25.3" fill="#2b2b2b" stroke="#2b2b2b" stroke-width="0.8">600</text>
<line x1="1519.8" x2="1528.8" y1="1100.85" y2="1100.85" stroke="#222" stroke-width="3.4"/>
<text x="1513.2" y="1111.35" text-anchor="end" font-family="'Liberation Sans', Arial, sans-serif" font-size="25.3" fill="#2b2b2b" stroke="#2b2b2b" stroke-width="0.8">700</text>
<line x1="1519.8" x2="1528.8" y1="1045.7" y2="1045.7" stroke="#222" stroke-width="3.4"/>
<text x="1513.2" y="1056.2" text-anchor="end" font-family="'Liberation Sans', Arial, sans-serif" font-size="25.3" fill="#2b2b2b" stroke="#2b2b2b" stroke-width="0.8">800</text>
<line x1="1540.8" x2="1540.8" y1="1212.2" y2="1221.3" stroke="#222" stroke-width="3.6"/>
<text x="1540.8" y="1248.2" text-anchor="middle" font-family="'Liberation Sans', Arial, sans-serif" font-size="25.8" fill="#2b2b2b" stroke="#2b2b2b" stroke-width="0.8">2020</text>
<line x1="1624.5" x2="1624.5" y1="1212.2" y2="1221.3" stroke="#222" stroke-width="3.6"/>
<text x="1624.5" y="1248.2" text-anchor="middle" font-family="'Liberation Sans', Arial, sans-serif" font-size="25.8" fill="#2b2b2b" stroke="#2b2b2b" stroke-width="0.8">2030</text>
<line x1="1708.2" x2="1708.2" y1="1212.2" y2="1221.3" stroke="#222" stroke-width="3.6"/>
<text x="1708.2" y="1248.2" text-anchor="middle" font-family="'Liberation Sans', Arial, sans-serif" font-size="25.8" fill="#2b2b2b" stroke="#2b2b2b" stroke-width="0.8">2040</text>
<line x1="1791.9" x2="1791.9" y1="1212.2" y2="1221.3" stroke="#222" stroke-width="3.6"/>
<text x="1791.9" y="1248.2" text-anchor="middle" font-family="'Liberation Sans', Arial, sans-serif" font-size="25.8" fill="#2b2b2b" stroke="#2b2b2b" stroke-width="0.8">2050</text>
<text x="952" y="1286.4" text-anchor="middle" font-family="'Liberation Sans', Arial, sans-serif" font-size="32.2" fill="#000" stroke="#000" stroke-width="1.0">year</text>
<text x="0" y="0" text-anchor="middle" font-family="'Liberation Sans', Arial, sans-serif" font-size="32.2" fill="#000" stroke="#000" stroke-width="1.0" transform="translate(25.6,657) rotate(-90)">Cost ($/tcs)</text>
<text x="1853.2" y="205.4" font-family="'Liberation Sans', Arial, sans-serif" font-size="32.9" fill="#000" stroke="#000" stroke-width="1.0">Technology</text>
<rect x="1852.8" y="224.4" width="50" height="50.9" fill="#fff" stroke="#000" stroke-width="4.6"/>
<rect x="1852.8" y="275.3" width="50" height="50.9" fill="#fff" stroke="#000" stroke-width="4.6"/>
<rect x="1852.8" y="326.2" width="50" height="50.9" fill="#fff" stroke="#000" stroke-width="4.6"/>
<rect x="1852.8" y="377.1" width="50" height="50.9" fill="#fff" stroke="#000" stroke-width="4.6"/>
<rect x="1852.8" y="428" width="50" height="50.9" fill="#fff" stroke="#000" stroke-width="4.6"/>
<rect x="1852.8" y="478.9" width="50" height="50.9" fill="#fff" stroke="#000" stroke-width="4.6"/>
<rect x="1852.8" y="529.8" width="50" height="50.9" fill="#fff" stroke="#000" stroke-width="4.6"/>
<rect x="1852.8" y="580.7" width="50" height="50.9" fill="#fff" stroke="#000" stroke-width="4.6"/>
<rect x="1852.8" y="631.6" width="50" height="50.9" fill="#fff" stroke="#000" stroke-width="4.6"/>
<rect x="1852.8" y="682.5" width="50" height="50.9" fill="#fff" stroke="#000" stroke-width="4.6"/>
<rect x="1852.8" y="733.4" width="50" height="50.9" fill="#fff" stroke="#000" stroke-width="4.6"/>
<rect x="1852.8" y="784.3" width="50" height="50.9" fill="#fff" stroke="#000" stroke-width="4.6"/>
<rect x="1852.8" y="835.2" width="50" height="50.9" fill="#fff" stroke="#000" stroke-width="4.6"/>
<rect x="1852.8" y="886.1" width="50" height="50.9" fill="#fff" stroke="#000" stroke-width="4.6"/>
<rect x="1852.8" y="937" width="50" height="50.9" fill="#fff" stroke="#000" stroke-width="4.6"/>
<rect x="1852.8" y="987.9" width="50" height="50.9" fill="#fff" stroke="#000" stroke-width="4.6"/>
<rect x="1852.8" y="1038.8" width="50" height="50.9" fill="#fff" stroke="#000" stroke-width="4.6"/>
<rect x="1852.8" y="1089.7" width="50" height="50.9" fill="#fff" stroke="#000" stroke-width="4.6"/>
<line x1="1857.2" x2="1899.1" y1="249.15" y2="249.15" stroke="#3A7CBE" stroke-width="5.9"/>
<text x="1918.5" y="260.05" font-family="'Liberation Sans', Arial, sans-serif" font-size="26" fill="#000" stroke="#000" stroke-width="1.0">DRI-EAF-gas</text>
<line x1="1857.2" x2="1899.1" y1="300.05" y2="300.05" stroke="#FF7F0E" stroke-width="5.9"/>
<text x="1918.5" y="310.95" font-family="'Liberation Sans', Arial, sans-serif" font-size="26" fill="#000" stroke="#000" stroke-width="1.0">scrap-EAF</text>
<line x1="1857.2" x2="1899.1" y1="350.95" y2="350.95" stroke="#3DA637" stroke-width="5.9"/>
<text x="1918.5" y="361.85" font-family="'Liberation Sans', Arial, sans-serif" font-size="26" fill="#000" stroke="#000" stroke-width="1.0">BAT BF-BOF</text>
<line x1="1857.2" x2="1899.1" y1="401.85" y2="401.85" stroke="#D62728" stroke-width="5.9"/>
<text x="1918.5" y="412.75" font-family="'Liberation Sans', Arial, sans-serif" font-size="26" fill="#000" stroke="#000" stroke-width="1.0">BF-BOF+BECCS</text>
<line x1="1857.2" x2="1899.1" y1="452.75" y2="452.75" stroke="#9467BD" stroke-width="5.9"/>
<text x="1918.5" y="463.65" font-family="'Liberation Sans', Arial, sans-serif" font-size="26" fill="#000" stroke="#000" stroke-width="1.0">BF-BOF+CCS</text>
<line x1="1857.2" x2="1899.1" y1="503.65" y2="503.65" stroke="#8C564B" stroke-width="5.9"/>
<text x="1918.5" y="514.55" font-family="'Liberation Sans', Arial, sans-serif" font-size="26" fill="#000" stroke="#000" stroke-width="1.0">BF-BOF+CCUS</text>
<line x1="1857.2" x2="1899.1" y1="554.55" y2="554.55" stroke="#E377C2" stroke-width="5.9"/>
<text x="1918.5" y="565.45" font-family="'Liberation Sans', Arial, sans-serif" font-size="26" fill="#000" stroke="#000" stroke-width="1.0">SR-BOF+CCS</text>
<line x1="1857.2" x2="1899.1" y1="605.45" y2="605.45" stroke="#7F7F7F" stroke-width="5.9"/>
<text x="1918.5" y="616.35" font-family="'Liberation Sans', Arial, sans-serif" font-size="26" fill="#000" stroke="#000" stroke-width="1.0">DRI-BOF+CCS</text>
<line x1="1857.2" x2="1899.1" y1="656.35" y2="656.35" stroke="#BCBD22" stroke-width="5.9"/>
<text x="1918.5" y="667.25" font-family="'Liberation Sans', Arial, sans-serif" font-size="26" fill="#000" stroke="#000" stroke-width="1.0">DRI-BOF+100% GH2</text>
<line x1="1857.2" x2="1899.1" y1="707.25" y2="707.25" stroke="#17BECF" stroke-width="5.9"/>
<text x="1918.5" y="718.15" font-family="'Liberation Sans', Arial, sans-serif" font-size="26" fill="#000" stroke="#000" stroke-width="1.0">BF-BOF+50% BH2</text>
<line x1="1857.2" x2="1899.1" y1="758.15" y2="758.15" stroke="#AEC7E8" stroke-width="5.9"/>
<text x="1918.5" y="769.05" font-family="'Liberation Sans', Arial, sans-serif" font-size="26" fill="#000" stroke="#000" stroke-width="1.0">BF-BOF+50% GH2</text>
<line x1="1857.2" x2="1899.1" y1="809.05" y2="809.05" stroke="#FFBB78" stroke-width="5.9"/>
<text x="1918.5" y="819.95" font-family="'Liberation Sans', Arial, sans-serif" font-size="26" fill="#000" stroke="#000" stroke-width="1.0">BF-BOF+biomass</text>
<line x1="1857.2" x2="1899.1" y1="859.95" y2="859.95" stroke="#98DF8A" stroke-width="5.9"/>
<text x="1918.5" y="870.85" font-family="'Liberation Sans', Arial, sans-serif" font-size="26" fill="#000" stroke="#000" stroke-width="1.0">DRI-EAF+100% GH2</text>
<line x1="1857.2" x2="1899.1" y1="910.85" y2="910.85" stroke="#FF9896" stroke-width="5.9"/>
<text x="1918.5" y="921.75" font-family="'Liberation Sans', Arial, sans-serif" font-size="26" fill="#000" stroke="#000" stroke-width="1.0">DRI-EAF+CCS</text>
<line x1="1857.2" x2="1899.1" y1="961.75" y2="961.75" stroke="#C5B0D5" stroke-width="5.9"/>
<text x="1918.5" y="972.65" font-family="'Liberation Sans', Arial, sans-serif" font-size="26" fill="#000" stroke="#000" stroke-width="1.0">DRI-EAF+100% BH2</text>
<line x1="1857.2" x2="1899.1" y1="1012.65" y2="1012.65" stroke="#C49C94" stroke-width="5.9"/>
<text x="1918.5" y="1023.55" font-family="'Liberation Sans', Arial, sans-serif" font-size="26" fill="#000" stroke="#000" stroke-width="1.0">DRI-EAF+50% BH2</text>
<line x1="1857.2" x2="1899.1" y1="1063.55" y2="1063.55" stroke="#F7B6D2" stroke-width="5.9"/>
<text x="1918.5" y="1074.45" font-family="'Liberation Sans', Arial, sans-serif" font-size="26" fill="#000" stroke="#000" stroke-width="1.0">DRI-EAF+50% GH2</text>
<line x1="1857.2" x2="1899.1" y1="1114.45" y2="1114.45" stroke="#C7C7C7" stroke-width="5.9"/>
<text x="1918.5" y="1125.35" font-family="'Liberation Sans', Arial, sans-serif" font-size="26" fill="#000" stroke="#000" stroke-width="1.0">DRI-EAF+biomass</text>
</svg>
</body></html>
